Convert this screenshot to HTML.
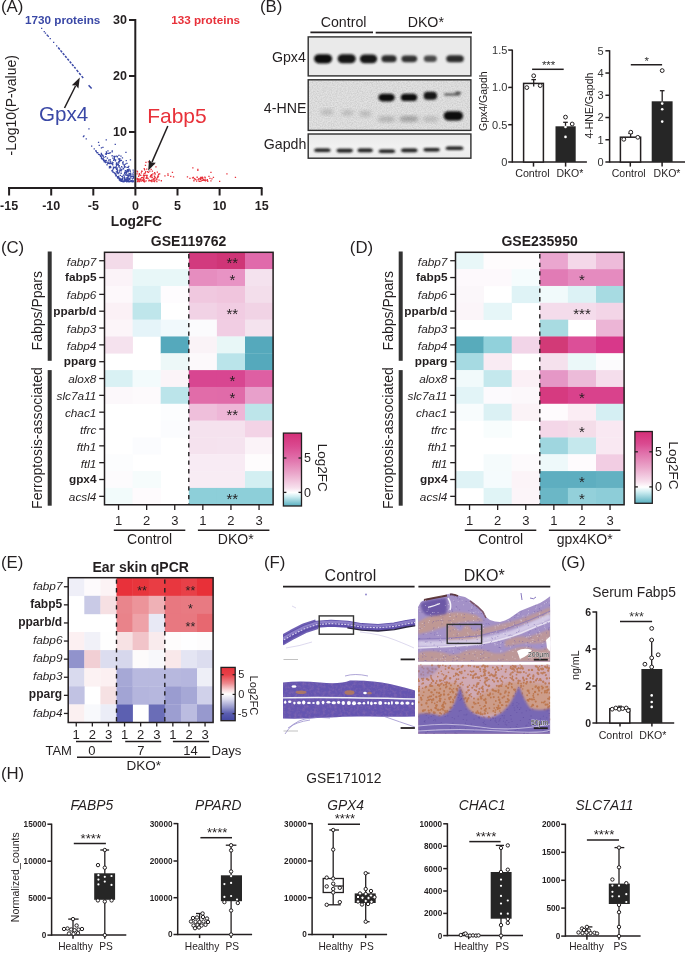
<!DOCTYPE html>
<html><head><meta charset="utf-8"><title>Figure</title>
<style>
html,body{margin:0;padding:0;background:#fff;}
body{width:685px;height:953px;overflow:hidden;}
svg{display:block;opacity:0.999;}
text{font-family:"Liberation Sans",sans-serif;}
</style></head><body>
<svg width="685" height="953" viewBox="0 0 685 953" fill="#231f20">
<rect x="0" y="0" width="685" height="953" fill="#fff"/>
<text x="0.9" y="12.3" font-size="16.8">(A)</text>
<line x1="135.3" y1="19" x2="135.3" y2="189" stroke="#231f20" stroke-width="2"/>
<line x1="8" y1="188" x2="262.5" y2="188" stroke="#231f20" stroke-width="2"/>
<line x1="129" y1="20" x2="135.3" y2="20" stroke="#231f20" stroke-width="2"/>
<text x="127" y="24.4" font-size="12.5" font-weight="bold" text-anchor="end">30</text>
<line x1="129" y1="76" x2="135.3" y2="76" stroke="#231f20" stroke-width="2"/>
<text x="127" y="80.4" font-size="12.5" font-weight="bold" text-anchor="end">20</text>
<line x1="129" y1="132" x2="135.3" y2="132" stroke="#231f20" stroke-width="2"/>
<text x="127" y="136.4" font-size="12.5" font-weight="bold" text-anchor="end">10</text>
<line x1="9.1" y1="188" x2="9.1" y2="195.5" stroke="#231f20" stroke-width="2"/>
<text x="9.1" y="210" font-size="12.5" font-weight="bold" text-anchor="middle">-15</text>
<line x1="51.2" y1="188" x2="51.2" y2="195.5" stroke="#231f20" stroke-width="2"/>
<text x="51.2" y="210" font-size="12.5" font-weight="bold" text-anchor="middle">-10</text>
<line x1="93.3" y1="188" x2="93.3" y2="195.5" stroke="#231f20" stroke-width="2"/>
<text x="93.3" y="210" font-size="12.5" font-weight="bold" text-anchor="middle">-5</text>
<line x1="135.4" y1="188" x2="135.4" y2="195.5" stroke="#231f20" stroke-width="2"/>
<text x="135.4" y="210" font-size="12.5" font-weight="bold" text-anchor="middle">0</text>
<line x1="177.5" y1="188" x2="177.5" y2="195.5" stroke="#231f20" stroke-width="2"/>
<text x="177.5" y="210" font-size="12.5" font-weight="bold" text-anchor="middle">5</text>
<line x1="219.6" y1="188" x2="219.6" y2="195.5" stroke="#231f20" stroke-width="2"/>
<text x="219.6" y="210" font-size="12.5" font-weight="bold" text-anchor="middle">10</text>
<line x1="261.70000000000005" y1="188" x2="261.70000000000005" y2="195.5" stroke="#231f20" stroke-width="2"/>
<text x="261.70000000000005" y="210" font-size="12.5" font-weight="bold" text-anchor="middle">15</text>
<text x="136.4" y="226.1" font-size="13.8" font-weight="bold" text-anchor="middle">Log2FC</text>
<text x="15.8" y="155.5" font-size="14" transform="rotate(-90 15.8 155.5)">-Log10(P-value)</text>
<text x="25" y="23.5" font-size="11.7" font-weight="bold" fill="#3a48a6">1730 proteins</text>
<text x="171.2" y="23.6" font-size="11.7" font-weight="bold" fill="#e8313a">133 proteins</text>
<text x="39" y="121.4" font-size="20.6" fill="#3a48a6">Gpx4</text>
<text x="147.2" y="122.8" font-size="21" fill="#e8313a">Fabp5</text>
<path d="M58.2 47.6L75.6 68.6" stroke="#3a48a6" stroke-width="1.5" stroke-dasharray="2.4 1.2" fill="none"/>
<path d="M76.6 69.9L83.2 78.0" stroke="#3a48a6" stroke-width="1.5" stroke-dasharray="2.6 1.4" fill="none"/>
<path d="M88.6 85.2L91.6 88.6" stroke="#3a48a6" stroke-width="1.5" fill="none"/>
<path d="M41.0 27.8h1.3v1.3h-1.3zM43.6 31.0h1.3v1.3h-1.3zM44.8 32.4h1.3v1.3h-1.3zM46.6 34.6h1.3v1.3h-1.3zM47.6 35.6h1.3v1.3h-1.3zM49.6 38.0h1.3v1.3h-1.3zM53.0 41.8h1.3v1.3h-1.3zM56.0 45.2h1.3v1.3h-1.3zM88.3 128.3h1.3v1.3h-1.3zM83.3 135.3h1.3v1.3h-1.3zM82.8 135.9h1.3v1.3h-1.3zM85.6 138.2h1.3v1.3h-1.3zM91.0 145.4h1.3v1.3h-1.3zM93.6 148.2h1.3v1.3h-1.3zM95.6 150.7h1.3v1.3h-1.3zM97.9 153.8h1.3v1.3h-1.3zM97.9 141.8h1.3v1.3h-1.3zM98.6 144.8h1.3v1.3h-1.3zM100.8 147.3h1.3v1.3h-1.3zM102.3 146.8h1.3v1.3h-1.3zM105.6 139.3h1.3v1.3h-1.3zM114.6 143.8h1.3v1.3h-1.3zM107.3 150.3h1.3v1.3h-1.3zM111.6 150.3h1.3v1.3h-1.3zM125.3 151.8h1.3v1.3h-1.3zM125.6 159.9h1.3v1.3h-1.3zM120.3 155.5h1.3v1.3h-1.3zM117.8 158.2h1.3v1.3h-1.3zM123.8 164.3h1.3v1.3h-1.3zM120.8 159.8h1.3v1.3h-1.3zM102.1 155.2h1.3v1.3h-1.3zM103.3 156.8h1.3v1.3h-1.3zM108.3 152.8h1.3v1.3h-1.3zM116.8 156.3h1.3v1.3h-1.3zM118.3 154.8h1.3v1.3h-1.3zM121.8 157.3h1.3v1.3h-1.3zM118.8 160.8h1.3v1.3h-1.3zM126.3 162.8h1.3v1.3h-1.3zM124.3 166.3h1.3v1.3h-1.3zM129.8 159.3h1.3v1.3h-1.3zM124.1 172.0h1.3v1.3h-1.3zM112.9 167.6h1.3v1.3h-1.3zM125.0 170.2h1.3v1.3h-1.3zM104.4 160.0h1.3v1.3h-1.3zM117.5 176.1h1.3v1.3h-1.3zM115.0 159.3h1.3v1.3h-1.3zM132.9 180.9h1.3v1.3h-1.3zM107.5 152.7h1.3v1.3h-1.3zM118.7 179.3h1.3v1.3h-1.3zM111.9 169.6h1.3v1.3h-1.3zM121.7 178.7h1.3v1.3h-1.3zM126.1 181.0h1.3v1.3h-1.3zM129.9 172.4h1.3v1.3h-1.3zM125.0 169.9h1.3v1.3h-1.3zM125.8 170.6h1.3v1.3h-1.3zM118.2 171.9h1.3v1.3h-1.3zM111.5 151.3h1.3v1.3h-1.3zM111.7 163.3h1.3v1.3h-1.3zM121.9 177.8h1.3v1.3h-1.3zM130.0 180.6h1.3v1.3h-1.3zM130.2 173.5h1.3v1.3h-1.3zM132.4 173.9h1.3v1.3h-1.3zM100.8 157.8h1.3v1.3h-1.3zM131.8 178.3h1.3v1.3h-1.3zM132.7 171.5h1.3v1.3h-1.3zM115.3 173.6h1.3v1.3h-1.3zM124.0 166.2h1.3v1.3h-1.3zM118.0 176.9h1.3v1.3h-1.3zM132.5 175.4h1.3v1.3h-1.3zM106.0 161.4h1.3v1.3h-1.3zM118.7 177.5h1.3v1.3h-1.3zM130.4 180.7h1.3v1.3h-1.3zM126.6 178.9h1.3v1.3h-1.3zM116.6 172.2h1.3v1.3h-1.3zM107.2 162.4h1.3v1.3h-1.3zM109.7 165.7h1.3v1.3h-1.3zM117.5 173.0h1.3v1.3h-1.3zM132.7 176.9h1.3v1.3h-1.3zM108.0 159.5h1.3v1.3h-1.3zM112.2 157.5h1.3v1.3h-1.3zM133.0 180.2h1.3v1.3h-1.3zM121.6 178.2h1.3v1.3h-1.3zM109.6 160.8h1.3v1.3h-1.3zM117.3 176.3h1.3v1.3h-1.3zM127.4 180.3h1.3v1.3h-1.3zM126.7 177.6h1.3v1.3h-1.3zM122.9 174.4h1.3v1.3h-1.3zM129.2 178.7h1.3v1.3h-1.3zM100.9 153.8h1.3v1.3h-1.3zM119.8 180.1h1.3v1.3h-1.3zM100.7 152.8h1.3v1.3h-1.3zM130.3 177.2h1.3v1.3h-1.3zM114.9 167.3h1.3v1.3h-1.3zM129.0 178.9h1.3v1.3h-1.3zM122.7 180.6h1.3v1.3h-1.3zM128.3 168.6h1.3v1.3h-1.3zM114.1 166.7h1.3v1.3h-1.3zM124.0 177.0h1.3v1.3h-1.3zM122.1 180.7h1.3v1.3h-1.3zM125.2 174.4h1.3v1.3h-1.3zM124.0 179.7h1.3v1.3h-1.3zM116.6 155.9h1.3v1.3h-1.3zM117.7 163.9h1.3v1.3h-1.3zM119.3 179.6h1.3v1.3h-1.3zM132.0 181.1h1.3v1.3h-1.3zM124.9 163.5h1.3v1.3h-1.3zM128.4 181.1h1.3v1.3h-1.3zM127.4 171.1h1.3v1.3h-1.3zM133.1 175.7h1.3v1.3h-1.3zM127.0 180.5h1.3v1.3h-1.3zM122.1 162.2h1.3v1.3h-1.3zM118.3 162.2h1.3v1.3h-1.3zM119.9 160.0h1.3v1.3h-1.3zM127.4 174.9h1.3v1.3h-1.3zM119.1 160.1h1.3v1.3h-1.3zM122.9 168.1h1.3v1.3h-1.3zM125.2 174.1h1.3v1.3h-1.3zM110.0 166.9h1.3v1.3h-1.3zM128.1 165.8h1.3v1.3h-1.3zM115.9 162.2h1.3v1.3h-1.3zM129.9 172.4h1.3v1.3h-1.3zM129.7 180.4h1.3v1.3h-1.3zM127.9 181.0h1.3v1.3h-1.3zM116.7 171.1h1.3v1.3h-1.3zM115.7 163.6h1.3v1.3h-1.3zM127.6 166.7h1.3v1.3h-1.3zM117.0 177.3h1.3v1.3h-1.3zM127.6 176.2h1.3v1.3h-1.3zM120.4 178.4h1.3v1.3h-1.3zM105.0 155.9h1.3v1.3h-1.3zM124.5 178.5h1.3v1.3h-1.3zM119.3 159.4h1.3v1.3h-1.3zM118.0 175.8h1.3v1.3h-1.3zM129.6 170.7h1.3v1.3h-1.3zM113.7 157.7h1.3v1.3h-1.3zM118.2 172.1h1.3v1.3h-1.3zM124.0 178.2h1.3v1.3h-1.3zM118.2 166.3h1.3v1.3h-1.3zM130.3 175.8h1.3v1.3h-1.3zM131.5 181.0h1.3v1.3h-1.3zM129.3 180.9h1.3v1.3h-1.3zM116.1 168.2h1.3v1.3h-1.3zM103.0 160.0h1.3v1.3h-1.3zM125.3 179.6h1.3v1.3h-1.3zM130.9 181.0h1.3v1.3h-1.3zM119.4 177.7h1.3v1.3h-1.3zM128.2 180.8h1.3v1.3h-1.3zM125.6 172.2h1.3v1.3h-1.3zM123.6 165.2h1.3v1.3h-1.3zM115.7 171.3h1.3v1.3h-1.3zM126.2 181.1h1.3v1.3h-1.3zM108.7 163.0h1.3v1.3h-1.3zM122.3 176.9h1.3v1.3h-1.3zM116.2 163.7h1.3v1.3h-1.3zM124.1 166.7h1.3v1.3h-1.3zM129.2 173.7h1.3v1.3h-1.3zM100.3 155.3h1.3v1.3h-1.3zM107.5 162.7h1.3v1.3h-1.3zM125.4 172.0h1.3v1.3h-1.3zM113.9 156.4h1.3v1.3h-1.3zM125.9 171.7h1.3v1.3h-1.3zM128.9 178.4h1.3v1.3h-1.3zM113.7 158.9h1.3v1.3h-1.3zM109.3 162.9h1.3v1.3h-1.3zM116.1 155.5h1.3v1.3h-1.3zM127.7 169.3h1.3v1.3h-1.3zM131.6 175.7h1.3v1.3h-1.3zM106.8 157.4h1.3v1.3h-1.3zM125.5 180.4h1.3v1.3h-1.3zM126.8 168.9h1.3v1.3h-1.3zM112.3 170.9h1.3v1.3h-1.3zM103.3 159.3h1.3v1.3h-1.3zM105.6 159.7h1.3v1.3h-1.3zM129.4 175.3h1.3v1.3h-1.3zM120.9 179.6h1.3v1.3h-1.3zM127.0 170.0h1.3v1.3h-1.3zM113.7 158.1h1.3v1.3h-1.3zM105.6 153.6h1.3v1.3h-1.3zM122.5 180.4h1.3v1.3h-1.3zM117.0 169.7h1.3v1.3h-1.3zM117.3 162.5h1.3v1.3h-1.3zM129.4 169.8h1.3v1.3h-1.3zM116.5 168.6h1.3v1.3h-1.3zM130.2 174.1h1.3v1.3h-1.3zM102.6 155.5h1.3v1.3h-1.3zM126.0 178.4h1.3v1.3h-1.3zM124.5 170.4h1.3v1.3h-1.3zM132.7 181.0h1.3v1.3h-1.3zM119.8 170.0h1.3v1.3h-1.3zM113.0 159.6h1.3v1.3h-1.3zM126.5 170.8h1.3v1.3h-1.3zM126.9 180.6h1.3v1.3h-1.3zM132.3 173.2h1.3v1.3h-1.3zM125.1 179.8h1.3v1.3h-1.3zM118.6 159.0h1.3v1.3h-1.3zM118.7 171.3h1.3v1.3h-1.3zM127.4 178.6h1.3v1.3h-1.3zM100.3 154.4h1.3v1.3h-1.3zM122.5 181.0h1.3v1.3h-1.3zM128.2 177.9h1.3v1.3h-1.3zM121.8 175.7h1.3v1.3h-1.3zM110.2 166.5h1.3v1.3h-1.3zM107.0 162.4h1.3v1.3h-1.3zM116.6 170.2h1.3v1.3h-1.3zM126.0 178.5h1.3v1.3h-1.3zM120.5 172.5h1.3v1.3h-1.3zM123.9 173.2h1.3v1.3h-1.3zM121.5 179.2h1.3v1.3h-1.3zM121.0 166.1h1.3v1.3h-1.3zM129.3 169.6h1.3v1.3h-1.3zM126.4 166.8h1.3v1.3h-1.3zM129.0 177.8h1.3v1.3h-1.3zM118.9 159.3h1.3v1.3h-1.3zM121.2 175.8h1.3v1.3h-1.3zM101.9 154.6h1.3v1.3h-1.3zM109.9 162.6h1.3v1.3h-1.3zM130.8 180.2h1.3v1.3h-1.3zM129.0 172.9h1.3v1.3h-1.3zM124.7 179.8h1.3v1.3h-1.3zM106.4 164.1h1.3v1.3h-1.3zM128.3 178.4h1.3v1.3h-1.3zM127.8 170.4h1.3v1.3h-1.3zM126.3 170.5h1.3v1.3h-1.3zM119.1 178.7h1.3v1.3h-1.3zM119.7 180.1h1.3v1.3h-1.3zM121.2 168.9h1.3v1.3h-1.3zM112.6 168.3h1.3v1.3h-1.3zM121.2 178.8h1.3v1.3h-1.3zM119.2 158.0h1.3v1.3h-1.3zM104.9 153.3h1.3v1.3h-1.3zM123.7 175.5h1.3v1.3h-1.3zM120.5 170.1h1.3v1.3h-1.3zM108.8 167.2h1.3v1.3h-1.3zM122.5 163.5h1.3v1.3h-1.3zM125.0 178.8h1.3v1.3h-1.3zM112.3 162.1h1.3v1.3h-1.3zM120.4 178.6h1.3v1.3h-1.3zM111.3 170.1h1.3v1.3h-1.3zM113.3 155.8h1.3v1.3h-1.3zM119.3 167.2h1.3v1.3h-1.3zM111.5 155.1h1.3v1.3h-1.3zM109.5 159.1h1.3v1.3h-1.3zM114.5 155.7h1.3v1.3h-1.3zM118.2 161.0h1.3v1.3h-1.3zM127.7 173.4h1.3v1.3h-1.3zM124.2 180.6h1.3v1.3h-1.3zM112.3 171.5h1.3v1.3h-1.3zM126.5 174.8h1.3v1.3h-1.3zM112.8 166.4h1.3v1.3h-1.3zM118.6 165.1h1.3v1.3h-1.3zM119.0 169.5h1.3v1.3h-1.3zM105.7 151.2h1.3v1.3h-1.3zM122.6 161.2h1.3v1.3h-1.3zM128.1 181.0h1.3v1.3h-1.3zM109.4 162.1h1.3v1.3h-1.3zM114.7 173.5h1.3v1.3h-1.3zM123.6 178.6h1.3v1.3h-1.3zM122.8 180.2h1.3v1.3h-1.3zM106.0 152.6h1.3v1.3h-1.3zM124.4 165.9h1.3v1.3h-1.3zM127.7 180.5h1.3v1.3h-1.3zM104.6 161.3h1.3v1.3h-1.3zM125.7 179.1h1.3v1.3h-1.3zM109.5 166.8h1.3v1.3h-1.3zM116.4 167.3h1.3v1.3h-1.3zM127.3 176.6h1.3v1.3h-1.3zM115.9 168.6h1.3v1.3h-1.3zM111.0 163.0h1.3v1.3h-1.3zM123.2 181.1h1.3v1.3h-1.3zM121.9 180.9h1.3v1.3h-1.3zM111.4 161.5h1.3v1.3h-1.3zM109.5 152.1h1.3v1.3h-1.3zM127.9 180.0h1.3v1.3h-1.3zM116.7 171.9h1.3v1.3h-1.3zM126.8 180.8h1.3v1.3h-1.3zM125.2 179.8h1.3v1.3h-1.3zM115.9 164.8h1.3v1.3h-1.3zM126.3 177.1h1.3v1.3h-1.3zM128.8 173.0h1.3v1.3h-1.3zM132.5 169.5h1.3v1.3h-1.3zM131.6 180.0h1.3v1.3h-1.3zM114.8 160.3h1.3v1.3h-1.3zM119.7 174.7h1.3v1.3h-1.3zM117.5 164.1h1.3v1.3h-1.3zM122.4 167.5h1.3v1.3h-1.3zM107.6 161.5h1.3v1.3h-1.3zM132.8 177.4h1.3v1.3h-1.3zM123.3 180.7h1.3v1.3h-1.3zM125.6 172.8h1.3v1.3h-1.3zM126.8 180.2h1.3v1.3h-1.3zM120.7 180.6h1.3v1.3h-1.3zM117.6 164.5h1.3v1.3h-1.3zM115.5 166.1h1.3v1.3h-1.3zM116.4 171.2h1.3v1.3h-1.3zM128.5 175.1h1.3v1.3h-1.3zM102.5 158.1h1.3v1.3h-1.3zM130.5 179.9h1.3v1.3h-1.3zM124.1 166.4h1.3v1.3h-1.3zM124.2 178.2h1.3v1.3h-1.3zM130.0 177.2h1.3v1.3h-1.3zM126.7 174.4h1.3v1.3h-1.3zM122.1 161.8h1.3v1.3h-1.3zM120.5 172.8h1.3v1.3h-1.3zM131.4 180.2h1.3v1.3h-1.3zM120.6 180.5h1.3v1.3h-1.3zM120.1 168.4h1.3v1.3h-1.3zM112.1 164.1h1.3v1.3h-1.3zM104.6 160.7h1.3v1.3h-1.3zM127.9 178.2h1.3v1.3h-1.3zM123.6 180.4h1.3v1.3h-1.3zM114.0 172.5h1.3v1.3h-1.3zM101.5 158.4h1.3v1.3h-1.3zM104.4 160.8h1.3v1.3h-1.3zM103.7 161.1h1.3v1.3h-1.3zM113.4 172.0h1.3v1.3h-1.3zM119.5 178.7h1.3v1.3h-1.3zM118.6 178.6h1.3v1.3h-1.3zM115.5 175.0h1.3v1.3h-1.3zM102.8 159.5h1.3v1.3h-1.3zM119.8 179.3h1.3v1.3h-1.3zM101.0 157.3h1.3v1.3h-1.3zM104.1 161.0h1.3v1.3h-1.3zM104.9 162.0h1.3v1.3h-1.3zM99.9 155.6h1.3v1.3h-1.3zM115.7 174.9h1.3v1.3h-1.3zM116.7 176.1h1.3v1.3h-1.3zM99.7 155.0h1.3v1.3h-1.3zM117.5 177.5h1.3v1.3h-1.3zM95.2 150.1h1.3v1.3h-1.3zM109.1 166.8h1.3v1.3h-1.3zM120.3 180.3h1.3v1.3h-1.3zM115.2 175.1h1.3v1.3h-1.3zM109.5 166.8h1.3v1.3h-1.3zM96.2 152.0h1.3v1.3h-1.3zM114.6 172.9h1.3v1.3h-1.3zM97.1 152.1h1.3v1.3h-1.3zM98.8 154.0h1.3v1.3h-1.3zM111.3 170.1h1.3v1.3h-1.3zM100.8 156.4h1.3v1.3h-1.3zM108.8 166.0h1.3v1.3h-1.3z" fill="#3a48a6"/>
<path d="M143.6 179.2h1.3v1.3h-1.3zM157.5 175.3h1.3v1.3h-1.3zM145.8 177.0h1.3v1.3h-1.3zM151.2 174.8h1.3v1.3h-1.3zM156.1 178.5h1.3v1.3h-1.3zM153.8 175.4h1.3v1.3h-1.3zM154.5 173.4h1.3v1.3h-1.3zM154.0 172.1h1.3v1.3h-1.3zM157.2 175.7h1.3v1.3h-1.3zM146.5 174.8h1.3v1.3h-1.3zM153.2 178.3h1.3v1.3h-1.3zM144.1 180.7h1.3v1.3h-1.3zM151.7 170.5h1.3v1.3h-1.3zM143.1 180.6h1.3v1.3h-1.3zM139.6 178.3h1.3v1.3h-1.3zM141.4 170.8h1.3v1.3h-1.3zM137.1 179.5h1.3v1.3h-1.3zM138.0 175.6h1.3v1.3h-1.3zM152.6 180.5h1.3v1.3h-1.3zM137.1 177.9h1.3v1.3h-1.3zM147.9 171.8h1.3v1.3h-1.3zM136.8 181.0h1.3v1.3h-1.3zM139.2 180.2h1.3v1.3h-1.3zM140.2 174.7h1.3v1.3h-1.3zM148.1 180.2h1.3v1.3h-1.3zM139.3 179.7h1.3v1.3h-1.3zM139.0 174.1h1.3v1.3h-1.3zM141.8 176.9h1.3v1.3h-1.3zM153.6 177.7h1.3v1.3h-1.3zM140.7 172.2h1.3v1.3h-1.3zM156.1 179.1h1.3v1.3h-1.3zM147.0 171.1h1.3v1.3h-1.3zM145.5 180.2h1.3v1.3h-1.3zM136.9 171.2h1.3v1.3h-1.3zM153.2 178.7h1.3v1.3h-1.3zM146.6 177.3h1.3v1.3h-1.3zM141.0 170.5h1.3v1.3h-1.3zM149.7 180.1h1.3v1.3h-1.3zM136.4 177.8h1.3v1.3h-1.3zM143.1 173.5h1.3v1.3h-1.3zM151.0 176.2h1.3v1.3h-1.3zM138.7 180.7h1.3v1.3h-1.3zM142.0 179.9h1.3v1.3h-1.3zM154.9 177.3h1.3v1.3h-1.3zM149.2 170.5h1.3v1.3h-1.3zM140.9 177.1h1.3v1.3h-1.3zM138.6 173.9h1.3v1.3h-1.3zM136.4 173.2h1.3v1.3h-1.3zM154.4 173.2h1.3v1.3h-1.3zM137.5 179.8h1.3v1.3h-1.3zM151.1 181.0h1.3v1.3h-1.3zM145.5 177.8h1.3v1.3h-1.3zM157.2 176.4h1.3v1.3h-1.3zM154.6 179.5h1.3v1.3h-1.3zM152.9 178.4h1.3v1.3h-1.3zM156.2 181.0h1.3v1.3h-1.3zM153.8 180.3h1.3v1.3h-1.3zM146.9 177.2h1.3v1.3h-1.3zM138.7 173.0h1.3v1.3h-1.3zM141.8 179.4h1.3v1.3h-1.3zM137.3 179.5h1.3v1.3h-1.3zM145.2 174.7h1.3v1.3h-1.3zM142.8 175.1h1.3v1.3h-1.3zM137.8 178.6h1.3v1.3h-1.3zM145.1 170.9h1.3v1.3h-1.3zM153.9 175.5h1.3v1.3h-1.3zM136.5 178.8h1.3v1.3h-1.3zM150.9 180.1h1.3v1.3h-1.3zM147.4 177.9h1.3v1.3h-1.3zM136.4 170.5h1.3v1.3h-1.3zM153.2 180.3h1.3v1.3h-1.3zM148.7 179.6h1.3v1.3h-1.3zM143.2 177.0h1.3v1.3h-1.3zM141.5 179.2h1.3v1.3h-1.3zM143.5 175.4h1.3v1.3h-1.3zM140.6 180.4h1.3v1.3h-1.3zM151.5 179.3h1.3v1.3h-1.3zM156.9 176.7h1.3v1.3h-1.3zM151.3 179.2h1.3v1.3h-1.3zM153.9 181.0h1.3v1.3h-1.3zM138.4 181.0h1.3v1.3h-1.3zM150.1 174.8h1.3v1.3h-1.3zM139.2 178.5h1.3v1.3h-1.3zM154.1 176.3h1.3v1.3h-1.3zM137.6 180.2h1.3v1.3h-1.3zM138.7 180.9h1.3v1.3h-1.3zM143.8 181.1h1.3v1.3h-1.3zM156.3 178.3h1.3v1.3h-1.3zM146.2 175.6h1.3v1.3h-1.3zM152.3 173.2h1.3v1.3h-1.3zM143.4 179.3h1.3v1.3h-1.3zM143.9 181.3h1.3v1.3h-1.3zM143.7 174.9h1.3v1.3h-1.3zM157.9 173.6h1.3v1.3h-1.3zM149.7 176.1h1.3v1.3h-1.3zM140.0 178.7h1.3v1.3h-1.3zM151.0 174.0h1.3v1.3h-1.3zM143.0 178.1h1.3v1.3h-1.3zM156.7 171.5h1.3v1.3h-1.3zM167.4 174.7h1.3v1.3h-1.3zM144.7 172.0h1.3v1.3h-1.3zM170.1 175.7h1.3v1.3h-1.3zM151.3 176.4h1.3v1.3h-1.3zM144.2 172.9h1.3v1.3h-1.3zM172.9 176.2h1.3v1.3h-1.3zM146.1 168.5h1.3v1.3h-1.3zM160.7 180.1h1.3v1.3h-1.3zM142.2 179.7h1.3v1.3h-1.3zM159.0 173.2h1.3v1.3h-1.3zM150.5 168.8h1.3v1.3h-1.3zM151.6 176.9h1.3v1.3h-1.3zM143.6 167.9h1.3v1.3h-1.3zM144.0 169.3h1.3v1.3h-1.3zM157.8 175.5h1.3v1.3h-1.3zM158.4 179.4h1.3v1.3h-1.3zM145.3 161.8h1.3v1.3h-1.3zM147.8 161.3h1.3v1.3h-1.3zM144.8 164.8h1.3v1.3h-1.3zM149.8 164.3h1.3v1.3h-1.3zM155.3 166.3h1.3v1.3h-1.3zM153.3 163.3h1.3v1.3h-1.3zM171.8 171.8h1.3v1.3h-1.3zM167.3 173.3h1.3v1.3h-1.3zM164.3 175.3h1.3v1.3h-1.3zM204.4 179.1h1.3v1.3h-1.3zM193.3 180.1h1.3v1.3h-1.3zM196.0 180.4h1.3v1.3h-1.3zM195.2 178.9h1.3v1.3h-1.3zM204.6 177.2h1.3v1.3h-1.3zM200.1 176.7h1.3v1.3h-1.3zM191.9 177.2h1.3v1.3h-1.3zM207.1 180.6h1.3v1.3h-1.3zM201.9 177.7h1.3v1.3h-1.3zM202.1 179.7h1.3v1.3h-1.3zM197.5 179.0h1.3v1.3h-1.3zM204.2 176.4h1.3v1.3h-1.3zM194.5 178.5h1.3v1.3h-1.3zM193.6 178.1h1.3v1.3h-1.3zM200.5 177.1h1.3v1.3h-1.3zM199.7 177.5h1.3v1.3h-1.3zM200.4 177.8h1.3v1.3h-1.3zM201.6 176.5h1.3v1.3h-1.3zM202.1 177.0h1.3v1.3h-1.3zM206.7 179.1h1.3v1.3h-1.3zM198.9 178.2h1.3v1.3h-1.3zM201.3 179.5h1.3v1.3h-1.3zM203.5 179.7h1.3v1.3h-1.3zM199.1 180.8h1.3v1.3h-1.3zM204.8 180.2h1.3v1.3h-1.3zM197.9 178.3h1.3v1.3h-1.3zM200.4 180.4h1.3v1.3h-1.3zM199.8 178.7h1.3v1.3h-1.3zM198.3 180.4h1.3v1.3h-1.3zM196.5 176.6h1.3v1.3h-1.3zM192.2 167.2h1.3v1.3h-1.3zM197.2 168.8h1.3v1.3h-1.3zM197.2 169.8h1.3v1.3h-1.3zM210.3 171.8h1.3v1.3h-1.3zM226.3 173.2h1.3v1.3h-1.3zM234.8 176.8h1.3v1.3h-1.3zM219.0 180.7h1.3v1.3h-1.3zM186.8 176.3h1.3v1.3h-1.3zM189.3 177.8h1.3v1.3h-1.3zM192.8 176.8h1.3v1.3h-1.3zM208.3 175.8h1.3v1.3h-1.3zM209.3 177.8h1.3v1.3h-1.3zM211.3 178.3h1.3v1.3h-1.3zM212.8 176.8h1.3v1.3h-1.3zM210.3 180.3h1.3v1.3h-1.3zM202.8 178.8h1.3v1.3h-1.3zM205.3 179.8h1.3v1.3h-1.3z" fill="#e8313a"/>
<line x1="64.5" y1="108" x2="75.540338120699" y2="85.99148283128629" stroke="#231f20" stroke-width="1.5"/>
<path d="M79.8 77.5L78.4 88.5L75.8 85.5L71.8 85.2Z" fill="#231f20"/>
<line x1="167.8" y1="126" x2="152.00777892318723" y2="162.0965053184292" stroke="#231f20" stroke-width="1.5"/>
<path d="M148.2 170.8L149.0 159.7L151.8 162.6L155.8 162.7Z" fill="#231f20"/>
<text x="259.9" y="12.2" font-size="16.8">(B)</text>
<defs>
<filter id="blur1" x="-30%" y="-60%" width="160%" height="220%"><feGaussianBlur stdDeviation="1.1"/></filter>
<filter id="blur2" x="-30%" y="-60%" width="160%" height="220%"><feGaussianBlur stdDeviation="2.0"/></filter>
<filter id="noiseF" x="0" y="0" width="100%" height="100%"><feTurbulence type="fractalNoise" baseFrequency="0.8" numOctaves="2" seed="5" result="t"/><feColorMatrix in="t" type="matrix" values="0 0 0 0 0.45 0 0 0 0 0.45 0 0 0 0 0.45 0 0 0 -0.9 0.62"/></filter>
<linearGradient id="gapbg" x1="0" y1="0" x2="0" y2="1"><stop offset="0" stop-color="#e9e9e9"/><stop offset="0.5" stop-color="#f1f1f1"/><stop offset="1" stop-color="#ececec"/></linearGradient>
</defs>
<text x="343.6" y="27.3" font-size="14.2" text-anchor="middle">Control</text>
<text x="425.8" y="26.6" font-size="14.2" text-anchor="middle">DKO*</text>
<line x1="310.4" y1="32.4" x2="373" y2="32.4" stroke="#231f20" stroke-width="1.6"/>
<line x1="375.7" y1="32.6" x2="472" y2="32.6" stroke="#231f20" stroke-width="1.6"/>
<text x="305.8" y="62.2" font-size="14.2" text-anchor="end">Gpx4</text>
<text x="306.4" y="113.2" font-size="14.2" text-anchor="end">4-HNE</text>
<text x="306.4" y="148.8" font-size="14.2" text-anchor="end">Gapdh</text>
<rect x="308.20" y="36.90" width="162.70" height="39.00" fill="#eaeaea"/>
<rect x="308.20" y="79.80" width="162.70" height="50.60" fill="#e2e2e2"/>
<rect x="308.2" y="79.8" width="162.7" height="50.6" filter="url(#noiseF)"/>
<rect x="308.20" y="134.00" width="162.70" height="24.20" fill="url(#gapbg)"/>
<rect x="314.0" y="54.2" width="18.2" height="9.2" rx="5.0" fill="#111" opacity="1.0" filter="url(#blur1)"/>
<rect x="337.6" y="54.3" width="18.2" height="9.0" rx="5.0" fill="#141414" opacity="1.0" filter="url(#blur1)"/>
<rect x="359.8" y="54.4" width="17.4" height="8.8" rx="4.8" fill="#161616" opacity="1.0" filter="url(#blur1)"/>
<rect x="381.4" y="55.3" width="15.2" height="7.0" rx="4.1" fill="#2a2a2a" opacity="1.0" filter="url(#blur1)"/>
<rect x="401.4" y="55.4" width="15.8" height="6.8" rx="4.0" fill="#333" opacity="1.0" filter="url(#blur1)"/>
<rect x="423.8" y="55.6" width="13.0" height="6.4" rx="3.8" fill="#484848" opacity="1.0" filter="url(#blur1)"/>
<rect x="446.2" y="55.3" width="17.6" height="7.0" rx="4.1" fill="#2a2a2a" opacity="1.0" filter="url(#blur1)"/>
<rect x="378.3" y="93.7" width="16.5" height="7.8" rx="4.5" fill="#0e0e0e" opacity="1.0" filter="url(#blur1)"/>
<rect x="400.8" y="93.7" width="16.4" height="7.4" rx="4.3" fill="#111" opacity="1.0" filter="url(#blur1)"/>
<rect x="423.7" y="91.8" width="13.3" height="8.0" rx="3.8" fill="#141414" opacity="1.0" filter="url(#blur1)"/>
<rect x="444.0" y="93.3" width="16.0" height="2.4" rx="1.8" fill="#555" opacity="0.9" filter="url(#blur1)"/>
<rect x="455.0" y="91.8" width="6.0" height="2.3" rx="1.8" fill="#333" opacity="0.9" filter="url(#blur1)"/>
<rect x="321.0" y="110.0" width="12.0" height="4.3" rx="2.8" fill="#8a8a8a" opacity="0.5249999999999999" filter="url(#blur2)"/>
<rect x="342.0" y="110.8" width="11.0" height="4.3" rx="2.8" fill="#8a8a8a" opacity="0.5249999999999999" filter="url(#blur2)"/>
<rect x="359.6" y="111.6" width="11.2" height="4.3" rx="2.8" fill="#8a8a8a" opacity="0.5249999999999999" filter="url(#blur2)"/>
<rect x="378.0" y="117.1" width="17.0" height="4.3" rx="2.8" fill="#888" opacity="0.6000000000000001" filter="url(#blur2)"/>
<rect x="400.0" y="116.8" width="18.0" height="4.3" rx="2.8" fill="#666" opacity="0.675" filter="url(#blur2)"/>
<rect x="423.0" y="117.0" width="15.0" height="4.3" rx="2.8" fill="#8a8a8a" opacity="0.5249999999999999" filter="url(#blur2)"/>
<rect x="443.6" y="111.2" width="19.5" height="9.3" rx="5.2" fill="#0a0a0a" opacity="1.0" filter="url(#blur1)"/>
<rect x="314.2" y="148.4" width="16.3" height="3.6" rx="2.4" fill="#1a1a1a" opacity="1.0" filter="url(#blur1)"/>
<rect x="336.5" y="148.8" width="16.4" height="3.6" rx="2.4" fill="#1a1a1a" opacity="1.0" filter="url(#blur1)"/>
<rect x="357.5" y="148.6" width="15.3" height="3.6" rx="2.4" fill="#1a1a1a" opacity="1.0" filter="url(#blur1)"/>
<rect x="378.7" y="149.4" width="16.4" height="3.6" rx="2.4" fill="#1a1a1a" opacity="1.0" filter="url(#blur1)"/>
<rect x="401.1" y="148.6" width="16.4" height="3.6" rx="2.4" fill="#1a1a1a" opacity="1.0" filter="url(#blur1)"/>
<rect x="423.4" y="148.0" width="16.4" height="3.6" rx="2.4" fill="#1a1a1a" opacity="1.0" filter="url(#blur1)"/>
<rect x="445.7" y="146.4" width="17.6" height="3.6" rx="2.4" fill="#1a1a1a" opacity="1.0" filter="url(#blur1)"/>
<rect x="308.20" y="36.90" width="162.70" height="39.00" fill="none" stroke="#2e2e2e" stroke-width="1.4"/>
<rect x="308.20" y="79.80" width="162.70" height="50.60" fill="none" stroke="#2e2e2e" stroke-width="1.4"/>
<rect x="308.20" y="134.00" width="162.70" height="24.20" fill="none" stroke="#2e2e2e" stroke-width="1.4"/>
<line x1="512.3" y1="49.6" x2="512.3" y2="162.6" stroke="#231f20" stroke-width="1.5"/>
<line x1="508.2" y1="162" x2="586.9" y2="162" stroke="#231f20" stroke-width="1.5"/>
<line x1="508.2" y1="50.10000000000001" x2="512.3" y2="50.10000000000001" stroke="#231f20" stroke-width="1.5"/>
<text x="507.4" y="54.00000000000001" font-size="11" text-anchor="end" fill="#333">1.5</text>
<line x1="508.2" y1="87.4" x2="512.3" y2="87.4" stroke="#231f20" stroke-width="1.5"/>
<text x="507.4" y="91.30000000000001" font-size="11" text-anchor="end" fill="#333">1.0</text>
<line x1="508.2" y1="124.7" x2="512.3" y2="124.7" stroke="#231f20" stroke-width="1.5"/>
<text x="507.4" y="128.6" font-size="11" text-anchor="end" fill="#333">0.5</text>
<text x="507.4" y="165.9" font-size="11" text-anchor="end" fill="#333">0</text>
<rect x="523.60" y="83.40" width="19.80" height="78.60" fill="#fff" stroke="#231f20" stroke-width="1.5"/>
<rect x="555.50" y="126.30" width="20.20" height="35.70" fill="#262626"/>
<line x1="533.5" y1="162" x2="533.5" y2="166.6" stroke="#231f20" stroke-width="1.5"/>
<line x1="565.6" y1="162" x2="565.6" y2="166.6" stroke="#231f20" stroke-width="1.5"/>
<line x1="533.7" y1="79.6" x2="533.7" y2="86.4" stroke="#231f20" stroke-width="1.3"/>
<line x1="531.4" y1="79.6" x2="536" y2="79.6" stroke="#231f20" stroke-width="1.3"/>
<circle cx="533.7" cy="75.8" r="1.9" fill="#fff" stroke="#231f20" stroke-width="1.0"/>
<circle cx="526.8" cy="87.6" r="1.9" fill="#fff" stroke="#231f20" stroke-width="1.0"/>
<circle cx="540.2" cy="85.6" r="1.9" fill="#fff" stroke="#231f20" stroke-width="1.0"/>
<line x1="565.5" y1="122.3" x2="565.5" y2="126.3" stroke="#231f20" stroke-width="1.3"/>
<line x1="563.2" y1="122.3" x2="567.8" y2="122.3" stroke="#231f20" stroke-width="1.3"/>
<circle cx="565.5" cy="117.1" r="1.9" fill="#fff" stroke="#231f20" stroke-width="1.0"/>
<circle cx="572.2" cy="124.0" r="1.9" fill="#fff" stroke="#231f20" stroke-width="1.0"/>
<circle cx="565.5" cy="127.0" r="1.3" fill="#fff"/>
<circle cx="565.5" cy="136.9" r="1.3" fill="#fff"/>
<line x1="532.1" y1="69.3" x2="563.7" y2="69.3" stroke="#231f20" stroke-width="1.5"/>
<text x="548.6" y="68.6" font-size="11.5" text-anchor="middle" fill="#333">***</text>
<text x="532.4" y="177.2" font-size="10.7" text-anchor="middle">Control</text>
<text x="556.5" y="177.2" font-size="10.5">DKO*</text>
<text x="487.2" y="101.2" font-size="10.5" text-anchor="middle" transform="rotate(-90 487.2 101.2)">Gpx4/Gapdh</text>
<line x1="609.6" y1="50.2" x2="609.6" y2="162.6" stroke="#231f20" stroke-width="1.5"/>
<line x1="605.4" y1="162" x2="685" y2="162" stroke="#231f20" stroke-width="1.5"/>
<line x1="605.4" y1="139.76" x2="609.6" y2="139.76" stroke="#231f20" stroke-width="1.5"/>
<text x="603.6" y="143.66" font-size="11" text-anchor="end" fill="#333">1</text>
<line x1="605.4" y1="117.52000000000001" x2="609.6" y2="117.52000000000001" stroke="#231f20" stroke-width="1.5"/>
<text x="603.6" y="121.42000000000002" font-size="11" text-anchor="end" fill="#333">2</text>
<line x1="605.4" y1="95.28" x2="609.6" y2="95.28" stroke="#231f20" stroke-width="1.5"/>
<text x="603.6" y="99.18" font-size="11" text-anchor="end" fill="#333">3</text>
<line x1="605.4" y1="73.04" x2="609.6" y2="73.04" stroke="#231f20" stroke-width="1.5"/>
<text x="603.6" y="76.94000000000001" font-size="11" text-anchor="end" fill="#333">4</text>
<line x1="605.4" y1="50.80000000000001" x2="609.6" y2="50.80000000000001" stroke="#231f20" stroke-width="1.5"/>
<text x="603.6" y="54.70000000000001" font-size="11" text-anchor="end" fill="#333">5</text>
<text x="603.6" y="165.9" font-size="11" text-anchor="end" fill="#333">0</text>
<rect x="620.40" y="137.20" width="20.20" height="24.80" fill="#fff" stroke="#231f20" stroke-width="1.5"/>
<rect x="651.70" y="101.30" width="20.90" height="60.70" fill="#262626"/>
<line x1="630.3" y1="162" x2="630.3" y2="166.6" stroke="#231f20" stroke-width="1.5"/>
<line x1="662.1" y1="162" x2="662.1" y2="166.6" stroke="#231f20" stroke-width="1.5"/>
<line x1="630.6" y1="133.4" x2="630.6" y2="137.2" stroke="#231f20" stroke-width="1.3"/>
<line x1="628.3" y1="133.4" x2="632.9" y2="133.4" stroke="#231f20" stroke-width="1.3"/>
<circle cx="623.8" cy="139.3" r="1.9" fill="#fff" stroke="#231f20" stroke-width="1.0"/>
<circle cx="630.8" cy="132.2" r="1.9" fill="#fff" stroke="#231f20" stroke-width="1.0"/>
<circle cx="637.8" cy="137.3" r="1.9" fill="#fff" stroke="#231f20" stroke-width="1.0"/>
<line x1="662.2" y1="90.7" x2="662.2" y2="101.3" stroke="#231f20" stroke-width="1.3"/>
<line x1="659.9" y1="90.7" x2="664.5" y2="90.7" stroke="#231f20" stroke-width="1.3"/>
<circle cx="662.2" cy="70.6" r="1.9" fill="#fff" stroke="#231f20" stroke-width="1.0"/>
<circle cx="662.2" cy="103.6" r="1.3" fill="#fff"/>
<circle cx="662.2" cy="109.3" r="1.3" fill="#fff"/>
<circle cx="662.2" cy="121.6" r="1.3" fill="#fff"/>
<line x1="630.8" y1="64.8" x2="662.1" y2="64.8" stroke="#231f20" stroke-width="1.5"/>
<text x="646.8" y="64.6" font-size="11.5" text-anchor="middle" fill="#333">*</text>
<text x="628.7" y="177.1" font-size="10.5" text-anchor="middle">Control</text>
<text x="667.0" y="177.1" font-size="10.5" text-anchor="middle">DKO*</text>
<text x="593.4" y="105.6" font-size="10.5" text-anchor="middle" transform="rotate(-90 593.4 105.6)">4-HNE/Gapdh</text>
<defs>
<linearGradient id="cbPT" x1="0" y1="0" x2="0" y2="1">
<stop offset="0" stop-color="#d42f78"/><stop offset="0.18" stop-color="#da4a90"/><stop offset="0.345" stop-color="#e06ea9"/><stop offset="0.55" stop-color="#eaa6ca"/><stop offset="0.75" stop-color="#f7e0ed"/><stop offset="0.815" stop-color="#ffffff"/><stop offset="0.87" stop-color="#d0eef2"/><stop offset="1" stop-color="#58b0c0"/>
</linearGradient>
<linearGradient id="cbPT2" x1="0" y1="0" x2="0" y2="1">
<stop offset="0" stop-color="#d42f78"/><stop offset="0.17" stop-color="#da4a90"/><stop offset="0.29" stop-color="#e06ea9"/><stop offset="0.5" stop-color="#eaa6ca"/><stop offset="0.7" stop-color="#f7e0ed"/><stop offset="0.775" stop-color="#ffffff"/><stop offset="0.84" stop-color="#d0eef2"/><stop offset="1" stop-color="#58b0c0"/>
</linearGradient>
</defs>
<rect x="104.50" y="252.30" width="28.40" height="17.13" fill="#f3dbe9"/>
<rect x="188.80" y="252.30" width="28.40" height="17.13" fill="#d23a7e"/>
<rect x="216.90" y="252.30" width="28.40" height="17.13" fill="#cf3577"/>
<rect x="245.00" y="252.30" width="28.40" height="17.13" fill="#e06aab"/>
<rect x="104.50" y="269.13" width="28.40" height="17.13" fill="#fbf3f8"/>
<rect x="132.60" y="269.13" width="28.40" height="17.13" fill="#e8f7f8"/>
<rect x="160.70" y="269.13" width="28.40" height="17.13" fill="#e8f7f8"/>
<rect x="188.80" y="269.13" width="28.40" height="17.13" fill="#e68dbf"/>
<rect x="216.90" y="269.13" width="28.40" height="17.13" fill="#e893c4"/>
<rect x="245.00" y="269.13" width="28.40" height="17.13" fill="#f4e2ee"/>
<rect x="104.50" y="285.96" width="28.40" height="17.13" fill="#fdf8fb"/>
<rect x="132.60" y="285.96" width="28.40" height="17.13" fill="#dcf2f5"/>
<rect x="160.70" y="285.96" width="28.40" height="17.13" fill="#fefcfe"/>
<rect x="188.80" y="285.96" width="28.40" height="17.13" fill="#f0c8df"/>
<rect x="216.90" y="285.96" width="28.40" height="17.13" fill="#f0c5dd"/>
<rect x="245.00" y="285.96" width="28.40" height="17.13" fill="#f3deeb"/>
<rect x="104.50" y="302.79" width="28.40" height="17.13" fill="#fbf1f6"/>
<rect x="132.60" y="302.79" width="28.40" height="17.13" fill="#bfe6eb"/>
<rect x="188.80" y="302.79" width="28.40" height="17.13" fill="#f1d2e5"/>
<rect x="216.90" y="302.79" width="28.40" height="17.13" fill="#f1cce2"/>
<rect x="245.00" y="302.79" width="28.40" height="17.13" fill="#f1d3e5"/>
<rect x="104.50" y="319.62" width="28.40" height="17.13" fill="#fcf5f9"/>
<rect x="132.60" y="319.62" width="28.40" height="17.13" fill="#e5f4f9"/>
<rect x="160.70" y="319.62" width="28.40" height="17.13" fill="#f1f9fc"/>
<rect x="188.80" y="319.62" width="28.40" height="17.13" fill="#fbfbfd"/>
<rect x="216.90" y="319.62" width="28.40" height="17.13" fill="#f1cde3"/>
<rect x="245.00" y="319.62" width="28.40" height="17.13" fill="#f4e3ee"/>
<rect x="104.50" y="336.45" width="28.40" height="17.13" fill="#f5e2ee"/>
<rect x="160.70" y="336.45" width="28.40" height="17.13" fill="#55a9bc"/>
<rect x="188.80" y="336.45" width="28.40" height="17.13" fill="#faf3f7"/>
<rect x="216.90" y="336.45" width="28.40" height="17.13" fill="#e8f7f7"/>
<rect x="245.00" y="336.45" width="28.40" height="17.13" fill="#55a9bc"/>
<rect x="160.70" y="353.28" width="28.40" height="17.13" fill="#edf8f8"/>
<rect x="188.80" y="353.28" width="28.40" height="17.13" fill="#fcf9fb"/>
<rect x="216.90" y="353.28" width="28.40" height="17.13" fill="#bae4ea"/>
<rect x="245.00" y="353.28" width="28.40" height="17.13" fill="#55a9bc"/>
<rect x="104.50" y="370.11" width="28.40" height="17.13" fill="#d9f1f4"/>
<rect x="132.60" y="370.11" width="28.40" height="17.13" fill="#f3fbfc"/>
<rect x="160.70" y="370.11" width="28.40" height="17.13" fill="#fbf4f8"/>
<rect x="188.80" y="370.11" width="28.40" height="17.13" fill="#d84691"/>
<rect x="216.90" y="370.11" width="28.40" height="17.13" fill="#d84691"/>
<rect x="245.00" y="370.11" width="28.40" height="17.13" fill="#de5fa3"/>
<rect x="104.50" y="386.94" width="28.40" height="17.13" fill="#fcf8fb"/>
<rect x="132.60" y="386.94" width="28.40" height="17.13" fill="#fdfafc"/>
<rect x="160.70" y="386.94" width="28.40" height="17.13" fill="#bbe4ea"/>
<rect x="188.80" y="386.94" width="28.40" height="17.13" fill="#e16ca9"/>
<rect x="216.90" y="386.94" width="28.40" height="17.13" fill="#e06ba9"/>
<rect x="245.00" y="386.94" width="28.40" height="17.13" fill="#e8a0cb"/>
<rect x="160.70" y="403.77" width="28.40" height="17.13" fill="#fcfdfe"/>
<rect x="188.80" y="403.77" width="28.40" height="17.13" fill="#efbfdb"/>
<rect x="216.90" y="403.77" width="28.40" height="17.13" fill="#eeb6d7"/>
<rect x="245.00" y="403.77" width="28.40" height="17.13" fill="#bde5ea"/>
<rect x="160.70" y="420.60" width="28.40" height="17.13" fill="#fbfcfe"/>
<rect x="188.80" y="420.60" width="28.40" height="17.13" fill="#f5e2ee"/>
<rect x="216.90" y="420.60" width="28.40" height="17.13" fill="#f5e2ee"/>
<rect x="245.00" y="420.60" width="28.40" height="17.13" fill="#f3d3e6"/>
<rect x="132.60" y="437.43" width="28.40" height="17.13" fill="#fbfcfe"/>
<rect x="188.80" y="437.43" width="28.40" height="17.13" fill="#f5e2ee"/>
<rect x="216.90" y="437.43" width="28.40" height="17.13" fill="#f5e3ef"/>
<rect x="245.00" y="437.43" width="28.40" height="17.13" fill="#fbf3f8"/>
<rect x="104.50" y="454.26" width="28.40" height="17.13" fill="#fcfdfe"/>
<rect x="188.80" y="454.26" width="28.40" height="17.13" fill="#f8ebf4"/>
<rect x="216.90" y="454.26" width="28.40" height="17.13" fill="#f8ebf4"/>
<rect x="245.00" y="454.26" width="28.40" height="17.13" fill="#fefcfd"/>
<rect x="104.50" y="471.09" width="28.40" height="17.13" fill="#fdfbfd"/>
<rect x="132.60" y="471.09" width="28.40" height="17.13" fill="#f6fcfc"/>
<rect x="188.80" y="471.09" width="28.40" height="17.13" fill="#f8ecf4"/>
<rect x="216.90" y="471.09" width="28.40" height="17.13" fill="#f8ecf4"/>
<rect x="245.00" y="471.09" width="28.40" height="17.13" fill="#d3eff2"/>
<rect x="104.50" y="487.92" width="28.40" height="17.13" fill="#f2fbfb"/>
<rect x="132.60" y="487.92" width="28.40" height="17.13" fill="#fefbfd"/>
<rect x="188.80" y="487.92" width="28.40" height="17.13" fill="#8dcfd9"/>
<rect x="216.90" y="487.92" width="28.40" height="17.13" fill="#8dcfd9"/>
<rect x="245.00" y="487.92" width="28.40" height="17.13" fill="#8dcfd9"/>
<text x="232.3" y="268.2" font-size="15" text-anchor="middle">**</text>
<text x="232.3" y="285.0" font-size="15" text-anchor="middle">*</text>
<text x="232.3" y="318.7" font-size="15" text-anchor="middle">**</text>
<text x="232.3" y="386.0" font-size="15" text-anchor="middle">*</text>
<text x="232.3" y="402.9" font-size="15" text-anchor="middle">*</text>
<text x="232.3" y="419.7" font-size="15" text-anchor="middle">**</text>
<text x="232.3" y="503.8" font-size="15" text-anchor="middle">**</text>
<line x1="188.8" y1="252.3" x2="188.8" y2="504.75" stroke="#231f20" stroke-width="1.4" stroke-dasharray="4.3 4.3" stroke-dashoffset="-1.8"/>
<rect x="104.50" y="252.30" width="168.60" height="252.45" fill="none" stroke="#231f20" stroke-width="1.5"/>
<line x1="99.2" y1="260.71500000000003" x2="104.5" y2="260.71500000000003" stroke="#231f20" stroke-width="1.3"/>
<text x="96.4" y="265.5" font-size="11.8" font-style="italic" text-anchor="end">fabp7</text>
<line x1="99.2" y1="277.545" x2="104.5" y2="277.545" stroke="#231f20" stroke-width="1.3"/>
<text x="96.5" y="281.1" font-size="11.8" font-weight="bold" text-anchor="end">fabp5</text>
<line x1="99.2" y1="294.375" x2="104.5" y2="294.375" stroke="#231f20" stroke-width="1.3"/>
<text x="96.4" y="299.2" font-size="11.8" font-style="italic" text-anchor="end">fabp6</text>
<line x1="99.2" y1="311.205" x2="104.5" y2="311.205" stroke="#231f20" stroke-width="1.3"/>
<text x="96.5" y="314.8" font-size="11.8" font-weight="bold" text-anchor="end">pparb/d</text>
<line x1="99.2" y1="328.03499999999997" x2="104.5" y2="328.03499999999997" stroke="#231f20" stroke-width="1.3"/>
<text x="96.4" y="332.8" font-size="11.8" font-style="italic" text-anchor="end">fabp3</text>
<line x1="99.2" y1="344.865" x2="104.5" y2="344.865" stroke="#231f20" stroke-width="1.3"/>
<text x="96.4" y="349.7" font-size="11.8" font-style="italic" text-anchor="end">fabp4</text>
<line x1="99.2" y1="361.695" x2="104.5" y2="361.695" stroke="#231f20" stroke-width="1.3"/>
<text x="96.5" y="365.3" font-size="11.8" font-weight="bold" text-anchor="end">pparg</text>
<line x1="99.2" y1="378.525" x2="104.5" y2="378.525" stroke="#231f20" stroke-width="1.3"/>
<text x="96.4" y="383.3" font-size="11.8" font-style="italic" text-anchor="end">alox8</text>
<line x1="99.2" y1="395.355" x2="104.5" y2="395.355" stroke="#231f20" stroke-width="1.3"/>
<text x="96.4" y="400.2" font-size="11.8" font-style="italic" text-anchor="end">slc7a11</text>
<line x1="99.2" y1="412.185" x2="104.5" y2="412.185" stroke="#231f20" stroke-width="1.3"/>
<text x="96.4" y="417.0" font-size="11.8" font-style="italic" text-anchor="end">chac1</text>
<line x1="99.2" y1="429.015" x2="104.5" y2="429.015" stroke="#231f20" stroke-width="1.3"/>
<text x="96.4" y="433.8" font-size="11.8" font-style="italic" text-anchor="end">tfrc</text>
<line x1="99.2" y1="445.845" x2="104.5" y2="445.845" stroke="#231f20" stroke-width="1.3"/>
<text x="96.4" y="450.6" font-size="11.8" font-style="italic" text-anchor="end">fth1</text>
<line x1="99.2" y1="462.67499999999995" x2="104.5" y2="462.67499999999995" stroke="#231f20" stroke-width="1.3"/>
<text x="96.4" y="467.5" font-size="11.8" font-style="italic" text-anchor="end">ftl1</text>
<line x1="99.2" y1="479.505" x2="104.5" y2="479.505" stroke="#231f20" stroke-width="1.3"/>
<text x="96.5" y="483.1" font-size="11.8" font-weight="bold" text-anchor="end">gpx4</text>
<line x1="99.2" y1="496.335" x2="104.5" y2="496.335" stroke="#231f20" stroke-width="1.3"/>
<text x="96.4" y="501.1" font-size="11.8" font-style="italic" text-anchor="end">acsl4</text>
<line x1="118.55" y1="504.75" x2="118.55" y2="509.95" stroke="#231f20" stroke-width="1.3"/>
<text x="118.5" y="525.4" font-size="13" text-anchor="middle">1</text>
<line x1="146.65" y1="504.75" x2="146.65" y2="509.95" stroke="#231f20" stroke-width="1.3"/>
<text x="146.7" y="525.4" font-size="13" text-anchor="middle">2</text>
<line x1="174.75" y1="504.75" x2="174.75" y2="509.95" stroke="#231f20" stroke-width="1.3"/>
<text x="174.8" y="525.4" font-size="13" text-anchor="middle">3</text>
<line x1="202.85000000000002" y1="504.75" x2="202.85000000000002" y2="509.95" stroke="#231f20" stroke-width="1.3"/>
<text x="202.9" y="525.4" font-size="13" text-anchor="middle">1</text>
<line x1="230.95" y1="504.75" x2="230.95" y2="509.95" stroke="#231f20" stroke-width="1.3"/>
<text x="230.9" y="525.4" font-size="13" text-anchor="middle">2</text>
<line x1="259.05" y1="504.75" x2="259.05" y2="509.95" stroke="#231f20" stroke-width="1.3"/>
<text x="259.1" y="525.4" font-size="13" text-anchor="middle">3</text>
<line x1="113.8" y1="530.2" x2="185.3" y2="530.2" stroke="#231f20" stroke-width="1.5"/>
<line x1="197.9" y1="530.2" x2="269.4" y2="530.2" stroke="#231f20" stroke-width="1.5"/>
<text x="149.6" y="544.2" font-size="14" text-anchor="middle">Control</text>
<text x="235.7" y="544.2" font-size="14" text-anchor="middle">DKO*</text>
<text x="188.6" y="246.2" font-size="14" font-weight="bold" text-anchor="middle">GSE119762</text>
<rect x="47.70" y="251.50" width="4.00" height="109.30" fill="#333"/>
<rect x="47.70" y="370.10" width="4.00" height="135.60" fill="#333"/>
<text x="42.2" y="350.4" font-size="14" transform="rotate(-90 42.2 350.4)">Fabps/Ppars</text>
<text x="42.2" y="508.9" font-size="14" transform="rotate(-90 42.2 508.9)">Ferroptosis-associated</text>
<rect x="283.40" y="433.10" width="18.10" height="72.90" fill="url(#cbPT)" stroke="#231f20" stroke-width="1.3"/>
<line x1="283.4" y1="458.0" x2="286.4" y2="458.0" stroke="#231f20" stroke-width="1.3"/>
<line x1="298.5" y1="458.0" x2="301.5" y2="458.0" stroke="#231f20" stroke-width="1.3"/>
<text x="304.1" y="462.4" font-size="12.5">5</text>
<line x1="283.4" y1="492.4" x2="286.4" y2="492.4" stroke="#231f20" stroke-width="1.3"/>
<line x1="298.5" y1="492.4" x2="301.5" y2="492.4" stroke="#231f20" stroke-width="1.3"/>
<text x="304.1" y="496.8" font-size="12.5">0</text>
<text x="318.1" y="443.8" font-size="13.5" transform="rotate(90 318.1 443.8)">Log2FC</text>
<rect x="455.50" y="252.30" width="28.40" height="17.13" fill="#e8f7f8"/>
<rect x="483.60" y="252.30" width="28.40" height="17.13" fill="#fefcfd"/>
<rect x="511.70" y="252.30" width="28.40" height="17.13" fill="#fefcfd"/>
<rect x="539.80" y="252.30" width="28.40" height="17.13" fill="#eaa6cf"/>
<rect x="567.90" y="252.30" width="28.40" height="17.13" fill="#f4d8e9"/>
<rect x="596.00" y="252.30" width="28.40" height="17.13" fill="#eebbda"/>
<rect x="455.50" y="269.13" width="28.40" height="17.13" fill="#fdf9fc"/>
<rect x="483.60" y="269.13" width="28.40" height="17.13" fill="#fdf9fc"/>
<rect x="511.70" y="269.13" width="28.40" height="17.13" fill="#f5fcfd"/>
<rect x="539.80" y="269.13" width="28.40" height="17.13" fill="#e17bb5"/>
<rect x="567.90" y="269.13" width="28.40" height="17.13" fill="#e58bbf"/>
<rect x="596.00" y="269.13" width="28.40" height="17.13" fill="#e58bbf"/>
<rect x="455.50" y="285.96" width="28.40" height="17.13" fill="#fbf7fa"/>
<rect x="511.70" y="285.96" width="28.40" height="17.13" fill="#dff3f6"/>
<rect x="539.80" y="285.96" width="28.40" height="17.13" fill="#f1fafb"/>
<rect x="567.90" y="285.96" width="28.40" height="17.13" fill="#dcf2f5"/>
<rect x="596.00" y="285.96" width="28.40" height="17.13" fill="#a7dbe2"/>
<rect x="455.50" y="302.79" width="28.40" height="17.13" fill="#fbf5f9"/>
<rect x="483.60" y="302.79" width="28.40" height="17.13" fill="#e6f6f8"/>
<rect x="539.80" y="302.79" width="28.40" height="17.13" fill="#f4dceb"/>
<rect x="567.90" y="302.79" width="28.40" height="17.13" fill="#f4dceb"/>
<rect x="596.00" y="302.79" width="28.40" height="17.13" fill="#f3d5e7"/>
<rect x="539.80" y="319.62" width="28.40" height="17.13" fill="#a8dbe1"/>
<rect x="596.00" y="319.62" width="28.40" height="17.13" fill="#ecb5d6"/>
<rect x="455.50" y="336.45" width="28.40" height="17.13" fill="#58abbb"/>
<rect x="483.60" y="336.45" width="28.40" height="17.13" fill="#91d1db"/>
<rect x="511.70" y="336.45" width="28.40" height="17.13" fill="#f2d5e8"/>
<rect x="539.80" y="336.45" width="28.40" height="17.13" fill="#d23a77"/>
<rect x="567.90" y="336.45" width="28.40" height="17.13" fill="#dc4f98"/>
<rect x="596.00" y="336.45" width="28.40" height="17.13" fill="#d8388a"/>
<rect x="455.50" y="353.28" width="28.40" height="17.13" fill="#a6dae2"/>
<rect x="483.60" y="353.28" width="28.40" height="17.13" fill="#f9ebf3"/>
<rect x="539.80" y="353.28" width="28.40" height="17.13" fill="#f5e1ed"/>
<rect x="567.90" y="353.28" width="28.40" height="17.13" fill="#ebf8f9"/>
<rect x="596.00" y="353.28" width="28.40" height="17.13" fill="#fcfbfd"/>
<rect x="455.50" y="370.11" width="28.40" height="17.13" fill="#f1fafb"/>
<rect x="483.60" y="370.11" width="28.40" height="17.13" fill="#c4e8ed"/>
<rect x="511.70" y="370.11" width="28.40" height="17.13" fill="#fbf0f6"/>
<rect x="539.80" y="370.11" width="28.40" height="17.13" fill="#e597c6"/>
<rect x="567.90" y="370.11" width="28.40" height="17.13" fill="#ecbbd9"/>
<rect x="596.00" y="370.11" width="28.40" height="17.13" fill="#f5deec"/>
<rect x="455.50" y="386.94" width="28.40" height="17.13" fill="#e2f4f7"/>
<rect x="483.60" y="386.94" width="28.40" height="17.13" fill="#fcfafd"/>
<rect x="511.70" y="386.94" width="28.40" height="17.13" fill="#fcf8fb"/>
<rect x="539.80" y="386.94" width="28.40" height="17.13" fill="#d63a80"/>
<rect x="567.90" y="386.94" width="28.40" height="17.13" fill="#d9428c"/>
<rect x="596.00" y="386.94" width="28.40" height="17.13" fill="#d9428c"/>
<rect x="455.50" y="403.77" width="28.40" height="17.13" fill="#f8fcfd"/>
<rect x="483.60" y="403.77" width="28.40" height="17.13" fill="#dbf1f4"/>
<rect x="511.70" y="403.77" width="28.40" height="17.13" fill="#fbf3f7"/>
<rect x="539.80" y="403.77" width="28.40" height="17.13" fill="#fefbfd"/>
<rect x="567.90" y="403.77" width="28.40" height="17.13" fill="#fbedf4"/>
<rect x="596.00" y="403.77" width="28.40" height="17.13" fill="#d5eff3"/>
<rect x="483.60" y="420.60" width="28.40" height="17.13" fill="#f8fdfd"/>
<rect x="539.80" y="420.60" width="28.40" height="17.13" fill="#f4d7e8"/>
<rect x="567.90" y="420.60" width="28.40" height="17.13" fill="#f4dde9"/>
<rect x="596.00" y="420.60" width="28.40" height="17.13" fill="#f9e8f2"/>
<rect x="539.80" y="437.43" width="28.40" height="17.13" fill="#9fd6df"/>
<rect x="567.90" y="437.43" width="28.40" height="17.13" fill="#c5e8ed"/>
<rect x="596.00" y="437.43" width="28.40" height="17.13" fill="#f9e8f2"/>
<rect x="483.60" y="454.26" width="28.40" height="17.13" fill="#f5fbfc"/>
<rect x="511.70" y="454.26" width="28.40" height="17.13" fill="#fdfafc"/>
<rect x="539.80" y="454.26" width="28.40" height="17.13" fill="#eef9fa"/>
<rect x="567.90" y="454.26" width="28.40" height="17.13" fill="#fefbfd"/>
<rect x="596.00" y="454.26" width="28.40" height="17.13" fill="#f2cde3"/>
<rect x="455.50" y="471.09" width="28.40" height="17.13" fill="#dff3f6"/>
<rect x="483.60" y="471.09" width="28.40" height="17.13" fill="#f5fbfd"/>
<rect x="511.70" y="471.09" width="28.40" height="17.13" fill="#fcf4f8"/>
<rect x="539.80" y="471.09" width="28.40" height="17.13" fill="#5eaec0"/>
<rect x="567.90" y="471.09" width="28.40" height="17.13" fill="#5eaec0"/>
<rect x="596.00" y="471.09" width="28.40" height="17.13" fill="#63b1c2"/>
<rect x="483.60" y="487.92" width="28.40" height="17.13" fill="#e0f4f6"/>
<rect x="511.70" y="487.92" width="28.40" height="17.13" fill="#fcf5f9"/>
<rect x="539.80" y="487.92" width="28.40" height="17.13" fill="#6bb7c6"/>
<rect x="567.90" y="487.92" width="28.40" height="17.13" fill="#93d0da"/>
<rect x="596.00" y="487.92" width="28.40" height="17.13" fill="#8dcdd8"/>
<text x="582.0" y="285.0" font-size="15" text-anchor="middle">*</text>
<text x="582.0" y="318.7" font-size="15" text-anchor="middle">***</text>
<text x="582.0" y="402.9" font-size="15" text-anchor="middle">*</text>
<text x="582.0" y="436.5" font-size="15" text-anchor="middle">*</text>
<text x="582.0" y="487.0" font-size="15" text-anchor="middle">*</text>
<text x="582.0" y="503.8" font-size="15" text-anchor="middle">*</text>
<line x1="539.8" y1="252.3" x2="539.8" y2="504.75" stroke="#231f20" stroke-width="1.4" stroke-dasharray="4.3 4.3" stroke-dashoffset="-1.8"/>
<rect x="455.50" y="252.30" width="168.60" height="252.45" fill="none" stroke="#231f20" stroke-width="1.5"/>
<line x1="450.2" y1="260.71500000000003" x2="455.5" y2="260.71500000000003" stroke="#231f20" stroke-width="1.3"/>
<text x="447.4" y="265.5" font-size="11.8" font-style="italic" text-anchor="end">fabp7</text>
<line x1="450.2" y1="277.545" x2="455.5" y2="277.545" stroke="#231f20" stroke-width="1.3"/>
<text x="447.5" y="281.1" font-size="11.8" font-weight="bold" text-anchor="end">fabp5</text>
<line x1="450.2" y1="294.375" x2="455.5" y2="294.375" stroke="#231f20" stroke-width="1.3"/>
<text x="447.4" y="299.2" font-size="11.8" font-style="italic" text-anchor="end">fabp6</text>
<line x1="450.2" y1="311.205" x2="455.5" y2="311.205" stroke="#231f20" stroke-width="1.3"/>
<text x="447.5" y="314.8" font-size="11.8" font-weight="bold" text-anchor="end">pparb/d</text>
<line x1="450.2" y1="328.03499999999997" x2="455.5" y2="328.03499999999997" stroke="#231f20" stroke-width="1.3"/>
<text x="447.4" y="332.8" font-size="11.8" font-style="italic" text-anchor="end">fabp3</text>
<line x1="450.2" y1="344.865" x2="455.5" y2="344.865" stroke="#231f20" stroke-width="1.3"/>
<text x="447.4" y="349.7" font-size="11.8" font-style="italic" text-anchor="end">fabp4</text>
<line x1="450.2" y1="361.695" x2="455.5" y2="361.695" stroke="#231f20" stroke-width="1.3"/>
<text x="447.5" y="365.3" font-size="11.8" font-weight="bold" text-anchor="end">pparg</text>
<line x1="450.2" y1="378.525" x2="455.5" y2="378.525" stroke="#231f20" stroke-width="1.3"/>
<text x="447.4" y="383.3" font-size="11.8" font-style="italic" text-anchor="end">alox8</text>
<line x1="450.2" y1="395.355" x2="455.5" y2="395.355" stroke="#231f20" stroke-width="1.3"/>
<text x="447.4" y="400.2" font-size="11.8" font-style="italic" text-anchor="end">slc7a11</text>
<line x1="450.2" y1="412.185" x2="455.5" y2="412.185" stroke="#231f20" stroke-width="1.3"/>
<text x="447.4" y="417.0" font-size="11.8" font-style="italic" text-anchor="end">chac1</text>
<line x1="450.2" y1="429.015" x2="455.5" y2="429.015" stroke="#231f20" stroke-width="1.3"/>
<text x="447.4" y="433.8" font-size="11.8" font-style="italic" text-anchor="end">tfrc</text>
<line x1="450.2" y1="445.845" x2="455.5" y2="445.845" stroke="#231f20" stroke-width="1.3"/>
<text x="447.4" y="450.6" font-size="11.8" font-style="italic" text-anchor="end">fth1</text>
<line x1="450.2" y1="462.67499999999995" x2="455.5" y2="462.67499999999995" stroke="#231f20" stroke-width="1.3"/>
<text x="447.4" y="467.5" font-size="11.8" font-style="italic" text-anchor="end">ftl1</text>
<line x1="450.2" y1="479.505" x2="455.5" y2="479.505" stroke="#231f20" stroke-width="1.3"/>
<text x="447.5" y="483.1" font-size="11.8" font-weight="bold" text-anchor="end">gpx4</text>
<line x1="450.2" y1="496.335" x2="455.5" y2="496.335" stroke="#231f20" stroke-width="1.3"/>
<text x="447.4" y="501.1" font-size="11.8" font-style="italic" text-anchor="end">acsl4</text>
<line x1="469.55" y1="504.75" x2="469.55" y2="509.95" stroke="#231f20" stroke-width="1.3"/>
<text x="469.6" y="525.4" font-size="13" text-anchor="middle">1</text>
<line x1="497.65" y1="504.75" x2="497.65" y2="509.95" stroke="#231f20" stroke-width="1.3"/>
<text x="497.6" y="525.4" font-size="13" text-anchor="middle">2</text>
<line x1="525.75" y1="504.75" x2="525.75" y2="509.95" stroke="#231f20" stroke-width="1.3"/>
<text x="525.8" y="525.4" font-size="13" text-anchor="middle">3</text>
<line x1="553.85" y1="504.75" x2="553.85" y2="509.95" stroke="#231f20" stroke-width="1.3"/>
<text x="553.9" y="525.4" font-size="13" text-anchor="middle">1</text>
<line x1="581.95" y1="504.75" x2="581.95" y2="509.95" stroke="#231f20" stroke-width="1.3"/>
<text x="582.0" y="525.4" font-size="13" text-anchor="middle">2</text>
<line x1="610.05" y1="504.75" x2="610.05" y2="509.95" stroke="#231f20" stroke-width="1.3"/>
<text x="610.0" y="525.4" font-size="13" text-anchor="middle">3</text>
<line x1="464.8" y1="530.2" x2="536.3" y2="530.2" stroke="#231f20" stroke-width="1.5"/>
<line x1="548.9" y1="530.2" x2="620.4" y2="530.2" stroke="#231f20" stroke-width="1.5"/>
<text x="500.6" y="544.2" font-size="14" text-anchor="middle">Control</text>
<text x="584.7" y="544.2" font-size="14" text-anchor="middle">gpx4KO*</text>
<text x="539.6" y="246.2" font-size="14" font-weight="bold" text-anchor="middle">GSE235950</text>
<rect x="398.70" y="251.50" width="4.00" height="109.30" fill="#333"/>
<rect x="398.70" y="370.10" width="4.00" height="135.60" fill="#333"/>
<text x="393.2" y="350.4" font-size="14" transform="rotate(-90 393.2 350.4)">Fabps/Ppars</text>
<text x="393.2" y="508.9" font-size="14" transform="rotate(-90 393.2 508.9)">Ferroptosis-associated</text>
<rect x="634.90" y="431.50" width="17.40" height="71.80" fill="url(#cbPT2)" stroke="#231f20" stroke-width="1.3"/>
<line x1="634.9" y1="451.8" x2="637.9" y2="451.8" stroke="#231f20" stroke-width="1.3"/>
<line x1="649.3" y1="451.8" x2="652.3" y2="451.8" stroke="#231f20" stroke-width="1.3"/>
<text x="654.9" y="456.2" font-size="12.5">5</text>
<line x1="634.9" y1="486.9" x2="637.9" y2="486.9" stroke="#231f20" stroke-width="1.3"/>
<line x1="649.3" y1="486.9" x2="652.3" y2="486.9" stroke="#231f20" stroke-width="1.3"/>
<text x="654.9" y="491.3" font-size="12.5">0</text>
<text x="668.9" y="441.6" font-size="13.5" transform="rotate(90 668.9 441.6)">Log2FC</text>
<text x="0.9" y="252.6" font-size="16.8">(C)</text>
<text x="349.8" y="252.5" font-size="16.8">(D)</text>
<rect x="68.20" y="577.70" width="16.40" height="18.40" fill="#efeff8"/>
<rect x="84.30" y="577.70" width="16.40" height="18.40" fill="#fdfafc"/>
<rect x="100.40" y="577.70" width="16.40" height="18.40" fill="#fcf3f5"/>
<rect x="116.50" y="577.70" width="16.40" height="18.40" fill="#e8313a"/>
<rect x="132.60" y="577.70" width="16.40" height="18.40" fill="#e8353c"/>
<rect x="148.70" y="577.70" width="16.40" height="18.40" fill="#e93d44"/>
<rect x="164.80" y="577.70" width="16.40" height="18.40" fill="#e8373f"/>
<rect x="180.90" y="577.70" width="16.40" height="18.40" fill="#e84048"/>
<rect x="197.00" y="577.70" width="16.40" height="18.40" fill="#e83038"/>
<rect x="84.30" y="595.80" width="16.40" height="18.40" fill="#c9cae6"/>
<rect x="100.40" y="595.80" width="16.40" height="18.40" fill="#f6e0e3"/>
<rect x="116.50" y="595.80" width="16.40" height="18.40" fill="#e9858c"/>
<rect x="132.60" y="595.80" width="16.40" height="18.40" fill="#ec949a"/>
<rect x="148.70" y="595.80" width="16.40" height="18.40" fill="#efb1b6"/>
<rect x="164.80" y="595.80" width="16.40" height="18.40" fill="#e87880"/>
<rect x="180.90" y="595.80" width="16.40" height="18.40" fill="#e87a82"/>
<rect x="197.00" y="595.80" width="16.40" height="18.40" fill="#e87a82"/>
<rect x="116.50" y="613.90" width="16.40" height="18.40" fill="#e9838a"/>
<rect x="132.60" y="613.90" width="16.40" height="18.40" fill="#eea2a8"/>
<rect x="148.70" y="613.90" width="16.40" height="18.40" fill="#e8e9f5"/>
<rect x="164.80" y="613.90" width="16.40" height="18.40" fill="#e87880"/>
<rect x="180.90" y="613.90" width="16.40" height="18.40" fill="#e87880"/>
<rect x="197.00" y="613.90" width="16.40" height="18.40" fill="#e76870"/>
<rect x="68.20" y="632.00" width="16.40" height="18.40" fill="#fcf0f2"/>
<rect x="84.30" y="632.00" width="16.40" height="18.40" fill="#f1f1f8"/>
<rect x="100.40" y="632.00" width="16.40" height="18.40" fill="#fefefe"/>
<rect x="116.50" y="632.00" width="16.40" height="18.40" fill="#f7e2e4"/>
<rect x="132.60" y="632.00" width="16.40" height="18.40" fill="#f1c4c9"/>
<rect x="148.70" y="632.00" width="16.40" height="18.40" fill="#f9ebed"/>
<rect x="164.80" y="632.00" width="16.40" height="18.40" fill="#fefcfc"/>
<rect x="180.90" y="632.00" width="16.40" height="18.40" fill="#fefeff"/>
<rect x="197.00" y="632.00" width="16.40" height="18.40" fill="#fdfcfd"/>
<rect x="68.20" y="650.10" width="16.40" height="18.40" fill="#9193cc"/>
<rect x="84.30" y="650.10" width="16.40" height="18.40" fill="#f1cfd4"/>
<rect x="100.40" y="650.10" width="16.40" height="18.40" fill="#dcddef"/>
<rect x="116.50" y="650.10" width="16.40" height="18.40" fill="#d6d7ec"/>
<rect x="132.60" y="650.10" width="16.40" height="18.40" fill="#fdfbfb"/>
<rect x="148.70" y="650.10" width="16.40" height="18.40" fill="#f8f8fb"/>
<rect x="164.80" y="650.10" width="16.40" height="18.40" fill="#f9e8ea"/>
<rect x="180.90" y="650.10" width="16.40" height="18.40" fill="#e4e5f3"/>
<rect x="197.00" y="650.10" width="16.40" height="18.40" fill="#dcddef"/>
<rect x="68.20" y="668.20" width="16.40" height="18.40" fill="#d9daee"/>
<rect x="84.30" y="668.20" width="16.40" height="18.40" fill="#fcf2f3"/>
<rect x="100.40" y="668.20" width="16.40" height="18.40" fill="#fcf0f2"/>
<rect x="116.50" y="668.20" width="16.40" height="18.40" fill="#a6a8d6"/>
<rect x="132.60" y="668.20" width="16.40" height="18.40" fill="#b8b9df"/>
<rect x="148.70" y="668.20" width="16.40" height="18.40" fill="#b8b9df"/>
<rect x="164.80" y="668.20" width="16.40" height="18.40" fill="#b7b8de"/>
<rect x="180.90" y="668.20" width="16.40" height="18.40" fill="#b5b6de"/>
<rect x="197.00" y="668.20" width="16.40" height="18.40" fill="#eeeff7"/>
<rect x="68.20" y="686.30" width="16.40" height="18.40" fill="#c1c2e3"/>
<rect x="100.40" y="686.30" width="16.40" height="18.40" fill="#f6e1e3"/>
<rect x="116.50" y="686.30" width="16.40" height="18.40" fill="#a2a4d4"/>
<rect x="132.60" y="686.30" width="16.40" height="18.40" fill="#b4b5dd"/>
<rect x="148.70" y="686.30" width="16.40" height="18.40" fill="#b6b7de"/>
<rect x="164.80" y="686.30" width="16.40" height="18.40" fill="#9a9cd0"/>
<rect x="180.90" y="686.30" width="16.40" height="18.40" fill="#a6a8d6"/>
<rect x="197.00" y="686.30" width="16.40" height="18.40" fill="#d0d1ea"/>
<rect x="68.20" y="704.40" width="16.40" height="18.40" fill="#fbf0f1"/>
<rect x="84.30" y="704.40" width="16.40" height="18.40" fill="#f8f9fc"/>
<rect x="100.40" y="704.40" width="16.40" height="18.40" fill="#ebedf7"/>
<rect x="116.50" y="704.40" width="16.40" height="18.40" fill="#5c60b1"/>
<rect x="148.70" y="704.40" width="16.40" height="18.40" fill="#6a6db7"/>
<rect x="164.80" y="704.40" width="16.40" height="18.40" fill="#9c9ed1"/>
<rect x="180.90" y="704.40" width="16.40" height="18.40" fill="#bbbce0"/>
<rect x="197.00" y="704.40" width="16.40" height="18.40" fill="#9799ce"/>
<text x="142.1" y="594.8" font-size="12.5" text-anchor="middle">**</text>
<text x="190.4" y="594.8" font-size="12.5" text-anchor="middle">**</text>
<text x="190.4" y="612.9" font-size="12.5" text-anchor="middle">*</text>
<text x="190.4" y="631.0" font-size="12.5" text-anchor="middle">**</text>
<line x1="116.5" y1="577.7" x2="116.5" y2="722.5" stroke="#231f20" stroke-width="1.4" stroke-dasharray="4.3 4.3" stroke-dashoffset="-1.8"/>
<line x1="164.8" y1="577.7" x2="164.8" y2="722.5" stroke="#231f20" stroke-width="1.4" stroke-dasharray="4.3 4.3" stroke-dashoffset="-1.8"/>
<rect x="68.20" y="577.70" width="144.90" height="144.80" fill="none" stroke="#231f20" stroke-width="1.5"/>
<line x1="63.900000000000006" y1="586.75" x2="68.2" y2="586.75" stroke="#231f20" stroke-width="1.3"/>
<text x="62.5" y="589.8" font-size="11.8" font-style="italic" text-anchor="end">fabp7</text>
<line x1="63.900000000000006" y1="604.85" x2="68.2" y2="604.85" stroke="#231f20" stroke-width="1.3"/>
<text x="62.2" y="607.9" font-size="12" font-weight="bold" text-anchor="end">fabp5</text>
<line x1="63.900000000000006" y1="622.95" x2="68.2" y2="622.95" stroke="#231f20" stroke-width="1.3"/>
<text x="62.2" y="626.0" font-size="12" font-weight="bold" text-anchor="end">pparb/d</text>
<line x1="63.900000000000006" y1="641.0500000000001" x2="68.2" y2="641.0500000000001" stroke="#231f20" stroke-width="1.3"/>
<text x="62.5" y="644.1" font-size="11.8" font-style="italic" text-anchor="end">fabp6</text>
<line x1="63.900000000000006" y1="659.1500000000001" x2="68.2" y2="659.1500000000001" stroke="#231f20" stroke-width="1.3"/>
<text x="62.5" y="662.2" font-size="11.8" font-style="italic" text-anchor="end">fabp9</text>
<line x1="63.900000000000006" y1="677.25" x2="68.2" y2="677.25" stroke="#231f20" stroke-width="1.3"/>
<text x="62.5" y="680.2" font-size="11.8" font-style="italic" text-anchor="end">fabp3</text>
<line x1="63.900000000000006" y1="695.35" x2="68.2" y2="695.35" stroke="#231f20" stroke-width="1.3"/>
<text x="62.2" y="698.4" font-size="12" font-weight="bold" text-anchor="end">pparg</text>
<line x1="63.900000000000006" y1="713.45" x2="68.2" y2="713.45" stroke="#231f20" stroke-width="1.3"/>
<text x="62.5" y="716.5" font-size="11.8" font-style="italic" text-anchor="end">fabp4</text>
<line x1="76.25" y1="722.5" x2="76.25" y2="726.5" stroke="#231f20" stroke-width="1.3"/>
<text x="76.2" y="739.2" font-size="13" text-anchor="middle">1</text>
<line x1="92.35000000000001" y1="722.5" x2="92.35000000000001" y2="726.5" stroke="#231f20" stroke-width="1.3"/>
<text x="92.4" y="739.2" font-size="13" text-anchor="middle">2</text>
<line x1="108.45" y1="722.5" x2="108.45" y2="726.5" stroke="#231f20" stroke-width="1.3"/>
<text x="108.5" y="739.2" font-size="13" text-anchor="middle">3</text>
<line x1="124.55000000000001" y1="722.5" x2="124.55000000000001" y2="726.5" stroke="#231f20" stroke-width="1.3"/>
<text x="124.6" y="739.2" font-size="13" text-anchor="middle">1</text>
<line x1="140.65" y1="722.5" x2="140.65" y2="726.5" stroke="#231f20" stroke-width="1.3"/>
<text x="140.7" y="739.2" font-size="13" text-anchor="middle">2</text>
<line x1="156.75" y1="722.5" x2="156.75" y2="726.5" stroke="#231f20" stroke-width="1.3"/>
<text x="156.8" y="739.2" font-size="13" text-anchor="middle">3</text>
<line x1="172.85000000000002" y1="722.5" x2="172.85000000000002" y2="726.5" stroke="#231f20" stroke-width="1.3"/>
<text x="172.9" y="739.2" font-size="13" text-anchor="middle">1</text>
<line x1="188.95000000000002" y1="722.5" x2="188.95000000000002" y2="726.5" stroke="#231f20" stroke-width="1.3"/>
<text x="189.0" y="739.2" font-size="13" text-anchor="middle">2</text>
<line x1="205.05" y1="722.5" x2="205.05" y2="726.5" stroke="#231f20" stroke-width="1.3"/>
<text x="205.1" y="739.2" font-size="13" text-anchor="middle">3</text>
<line x1="76" y1="741.5" x2="112" y2="741.5" stroke="#231f20" stroke-width="1.4"/>
<line x1="125.2" y1="741.5" x2="161.2" y2="741.5" stroke="#231f20" stroke-width="1.4"/>
<line x1="172.9" y1="741.5" x2="209.1" y2="741.5" stroke="#231f20" stroke-width="1.4"/>
<text x="71.9" y="755.0" font-size="13" text-anchor="end">TAM</text>
<text x="91.8" y="755.0" font-size="13" text-anchor="middle">0</text>
<text x="140.9" y="755.0" font-size="13" text-anchor="middle">7</text>
<text x="190.6" y="755.0" font-size="13" text-anchor="middle">14</text>
<text x="211.4" y="755.0" font-size="13.2">Days</text>
<line x1="77" y1="757.3" x2="210.3" y2="757.3" stroke="#231f20" stroke-width="1.4"/>
<text x="143.7" y="770.0" font-size="13.5" text-anchor="middle">DKO*</text>
<text x="140.7" y="571.9" font-size="14" font-weight="bold" text-anchor="middle">Ear skin qPCR</text>
<defs><linearGradient id="cbRB" x1="0" y1="0" x2="0" y2="1">
<stop offset="0" stop-color="#e8323b"/><stop offset="0.14" stop-color="#e84048"/><stop offset="0.3" stop-color="#ed8a8f"/><stop offset="0.42" stop-color="#f8d8da"/><stop offset="0.5" stop-color="#ffffff"/><stop offset="0.6" stop-color="#dcdcee"/><stop offset="0.75" stop-color="#9496cb"/><stop offset="0.86" stop-color="#5a5db0"/><stop offset="1" stop-color="#4347a2"/>
</linearGradient></defs>
<rect x="221.00" y="667.40" width="14.20" height="53.30" fill="url(#cbRB)" stroke="#231f20" stroke-width="1.3"/>
<line x1="221.0" y1="674.7" x2="223.6" y2="674.7" stroke="#231f20" stroke-width="1.2"/>
<line x1="232.6" y1="674.7" x2="235.2" y2="674.7" stroke="#231f20" stroke-width="1.2"/>
<text x="238.3" y="677.9" font-size="11">5</text>
<line x1="221.0" y1="694.4" x2="223.6" y2="694.4" stroke="#231f20" stroke-width="1.2"/>
<line x1="232.6" y1="694.4" x2="235.2" y2="694.4" stroke="#231f20" stroke-width="1.2"/>
<text x="238.3" y="697.6" font-size="11">0</text>
<line x1="221.0" y1="713.7" x2="223.6" y2="713.7" stroke="#231f20" stroke-width="1.2"/>
<line x1="232.6" y1="713.7" x2="235.2" y2="713.7" stroke="#231f20" stroke-width="1.2"/>
<text x="237.8" y="716.9" font-size="11">-5</text>
<text x="249.6" y="675.6" font-size="11.2" transform="rotate(90 249.6 675.6)">Log2FC</text>
<text x="0.9" y="567.9" font-size="16.8">(E)</text>
<text x="264.0" y="567.7" font-size="16.8">(F)</text>
<text x="350.4" y="580.8" font-size="16" text-anchor="middle">Control</text>
<text x="484.2" y="580.5" font-size="16" text-anchor="middle">DKO*</text>
<line x1="283" y1="586.6" x2="414.6" y2="586.6" stroke="#231f20" stroke-width="1.6"/>
<line x1="418.4" y1="586.6" x2="550.3" y2="586.6" stroke="#231f20" stroke-width="1.6"/>
<defs>
<clipPath id="cDT"><rect x="418" y="589" width="132.2" height="72.7"/></clipPath>
<clipPath id="cDB"><rect x="418" y="664.6" width="132.2" height="69.5"/></clipPath>
<clipPath id="cCT"><rect x="283" y="589" width="132.2" height="72.7"/></clipPath>
<clipPath id="cCB"><rect x="283" y="664.6" width="132.2" height="70"/></clipPath>
<filter id="tex" x="0" y="0" width="100%" height="100%"><feTurbulence type="fractalNoise" baseFrequency="0.35" numOctaves="3" seed="9" result="t"/><feColorMatrix in="t" type="matrix" values="0 0 0 0 0.35  0 0 0 0 0.2  0 0 0 0 0.45  0 0 0 -1.6 0.95" result="n"/><feComposite in="n" in2="SourceGraphic" operator="in"/></filter>
<filter id="dotsF" x="0" y="0" width="100%" height="100%"><feTurbulence type="turbulence" baseFrequency="0.55" numOctaves="1" seed="4" result="t"/><feColorMatrix in="t" type="matrix" values="0 0 0 0 0.72  0 0 0 0 0.42  0 0 0 0 0.25  0 0 0 -9 3.2" result="n"/><feComposite in="n" in2="SourceGraphic" operator="in"/></filter>
<filter id="sb" x="-20%" y="-20%" width="140%" height="140%"><feGaussianBlur stdDeviation="0.9"/></filter>
<filter id="sb2" x="-20%" y="-20%" width="140%" height="140%"><feGaussianBlur stdDeviation="1.8"/></filter>
</defs>
<g clip-path="url(#cCT)">
<path d="M286 648 Q300 646 312 642 M360 632 Q380 634 395 640 T414 648 M292 606 L296 608" fill="none" stroke="#8d80c6" stroke-width="0.5" opacity="0.6"/>
<path d="M281.0 641.0 L292.3 634.5 L304.5 628.3 L316.8 624.2 L331.1 623.2 L347.4 624.2 L361.7 626.6 L378.1 627.4 L394.4 626.0 L406.7 623.4 L417.0 621.8" fill="none" stroke="#5f4fab" stroke-width="7.0" stroke-linejoin="round"/>
<path d="M281.0 641.0 L292.3 634.5 L304.5 628.3 L316.8 624.2" fill="none" stroke="#5f4fab" stroke-width="10" stroke-linejoin="round" opacity="0.9"/>
<path d="M281.0 639.4 L292.3 632.9 L304.5 626.7 L316.8 622.6 L331.1 621.6 L347.4 622.6 L361.7 625.0 L378.1 625.8 L394.4 624.4 L406.7 621.8 L417.0 620.2" fill="none" stroke="#8c7fc8" stroke-width="2.2" stroke-linejoin="round"/>
<path d="M281.0 641.4 L292.3 634.9 L304.5 628.7 L316.8 624.6 L331.1 623.6 L347.4 624.6 L361.7 627.0 L378.1 627.8 L394.4 626.4 L406.7 623.8 L417.0 622.2" fill="none" stroke="#d8d2ef" stroke-width="1.1" stroke-linejoin="round" stroke-dasharray="2 1.2"/>
<path d="M347.4 627.8 L361.7 630.2 L378.1 631.0 L394.4 629.6 L406.7 627.0 L417.0 625.4" fill="none" stroke="#2a2440" stroke-width="1.3" stroke-linejoin="round"/>
<circle cx="366" cy="594.5" r="0.9" fill="#8a7fc9"/>
</g>
<rect x="319.20" y="615.90" width="34.30" height="18.30" fill="none" stroke="#333" stroke-width="1.4"/>
<line x1="400.6" y1="659.4" x2="414.9" y2="659.4" stroke="#231f20" stroke-width="1.8"/>
<line x1="283.5" y1="659.5" x2="298" y2="659.5" stroke="#999" stroke-width="0.6"/>
<g clip-path="url(#cCB)">
<path d="M283 682.5 Q300 680.5 320 682.5 T350 680.5 Q372 680 390 684 T415 690.5 L415 716.5 Q395 717 370 716.5 T330 717.5 Q305 719 283 718.5 Z" fill="#6555b0"/>
<path d="M283 682.5 Q300 680.5 320 682.5 T350 680.5 Q372 680 390 684 T415 690.5 L415 716.5 Q395 717 370 716.5 T330 717.5 Q305 719 283 718.5 Z" fill="#000" filter="url(#tex)" opacity="0.5"/>
<path d="M283 697.8 Q330 696.8 415 699" fill="none" stroke="#fff" stroke-width="1.3" opacity="0.9"/>
<ellipse cx="285.2" cy="702.2" rx="1.2" ry="1.6" fill="#fff"/><ellipse cx="289.7" cy="701.8" rx="1.7" ry="1.2" fill="#fff"/><ellipse cx="294.4" cy="703.1" rx="1.2" ry="1.3" fill="#fff"/><ellipse cx="299.0" cy="702.7" rx="2.0" ry="1.5" fill="#fff"/><ellipse cx="303.7" cy="702.5" rx="1.7" ry="1.9" fill="#fff"/><ellipse cx="308.9" cy="702.9" rx="1.8" ry="1.2" fill="#fff"/><ellipse cx="313.5" cy="703.0" rx="1.3" ry="1.1" fill="#fff"/><ellipse cx="317.9" cy="702.9" rx="1.8" ry="1.9" fill="#fff"/><ellipse cx="323.1" cy="702.6" rx="1.4" ry="1.8" fill="#fff"/><ellipse cx="328.5" cy="702.2" rx="2.0" ry="1.2" fill="#fff"/><ellipse cx="333.7" cy="702.8" rx="2.2" ry="1.5" fill="#fff"/><ellipse cx="338.6" cy="702.5" rx="1.6" ry="1.4" fill="#fff"/><ellipse cx="343.3" cy="703.0" rx="1.7" ry="1.9" fill="#fff"/><ellipse cx="348.9" cy="703.0" rx="2.0" ry="2.0" fill="#fff"/><ellipse cx="354.0" cy="703.3" rx="2.0" ry="2.0" fill="#fff"/><ellipse cx="359.3" cy="703.2" rx="1.8" ry="1.3" fill="#fff"/><ellipse cx="363.9" cy="703.3" rx="1.3" ry="1.2" fill="#fff"/><ellipse cx="368.1" cy="702.8" rx="1.0" ry="1.8" fill="#fff"/><ellipse cx="371.4" cy="703.4" rx="1.3" ry="1.8" fill="#fff"/><ellipse cx="375.3" cy="703.2" rx="1.7" ry="1.1" fill="#fff"/><ellipse cx="380.2" cy="703.0" rx="2.0" ry="2.0" fill="#fff"/><ellipse cx="385.5" cy="703.1" rx="1.3" ry="1.2" fill="#fff"/><ellipse cx="388.8" cy="703.2" rx="1.2" ry="1.5" fill="#fff"/><ellipse cx="391.9" cy="702.8" rx="1.0" ry="1.9" fill="#fff"/><ellipse cx="396.9" cy="703.0" rx="2.1" ry="1.4" fill="#fff"/><ellipse cx="402.1" cy="703.2" rx="1.7" ry="1.6" fill="#fff"/><ellipse cx="407.5" cy="703.1" rx="2.1" ry="1.6" fill="#fff"/><ellipse cx="412.5" cy="703.7" rx="1.2" ry="1.4" fill="#fff"/>
<path d="M285 734 Q292 722 305 719 T330 718 M288 728 Q296 722 310 720 M345 676 Q355 673 368 676 M383 716 Q400 722 415 727" fill="none" stroke="#8d80c6" stroke-width="0.7"/>
<ellipse cx="301" cy="692.3" rx="5.5" ry="1.8" fill="#b07a60" opacity="0.9"/>
<ellipse cx="349.5" cy="692.5" rx="5" ry="2.3" fill="#b47a5c" opacity="0.9"/>
<ellipse cx="365" cy="693" rx="1.8" ry="1.3" fill="#fff"/>
<ellipse cx="369.5" cy="693.2" rx="2.2" ry="1.4" fill="#b07a60" opacity="0.8"/>
<ellipse cx="294" cy="686.5" rx="2.5" ry="1.2" fill="#fff"/>
</g>
<line x1="400.6" y1="728.0" x2="414.9" y2="728.0" stroke="#231f20" stroke-width="1.8"/>
<line x1="283.5" y1="731" x2="298" y2="731" stroke="#999" stroke-width="0.6"/>
<g clip-path="url(#cDT)">
<path d="M418.0 607.0 L421.0 602.0 L427.0 598.5 L440.0 597.0 L448.0 594.0 L452.0 593.5 L458.0 595.5 L465.0 597.0 L470.0 600.0 L478.0 606.0 L483.0 611.0 L486.0 617.0 L490.0 620.0 L495.0 621.5 L500.0 622.0 L505.0 620.5 L510.0 618.0 L515.0 614.5 L520.0 611.0 L525.0 609.0 L530.0 607.0 L535.0 605.0 L540.0 603.0 L545.0 600.0 L550.5 596.0 L550.5 662 L418 662 Z" fill="#a391c7"/>
<path d="M418 622 Q432 613 448 613 Q462 611 476 615 L484 621 Q470 621 458 623 Q440 628 428 632 L418 634 Z" fill="#c49a8c" opacity="0.85" filter="url(#sb)"/>
<path d="M447 627 Q452 624 456 628 Q460 634 463 628 Q467 622 471 628 Q474 634 478 628 L482 630 L482 641 L447 641 Z" fill="#c49a8c" opacity="0.8" filter="url(#sb)"/>
<path d="M482 628 Q500 625 520 619 Q536 613 550.5 607 L550.5 615 Q536 620 520 625 Q500 631 482 635 Z" fill="#c49a8c" opacity="0.7" filter="url(#sb)"/>
<path d="M418 653 Q430 649 445 653 Q455 657 465 651 Q478 647 490 652 Q500 656 510 650 Q520 645 532 648 Q540 652 550.5 646 L550.5 662 L418 662 Z" fill="#c49a8c" opacity="0.8" filter="url(#sb)"/>
<path d="M505 641 Q515 635 528 637 Q540 633 550.5 629 L550.5 641 Q538 645 526 643 Q514 645 505 647 Z" fill="#c49a8c" opacity="0.75" filter="url(#sb)"/>
<path d="M418 644 Q445 644 470 642 Q500 638 520 630 Q538 622 550.5 616" fill="none" stroke="#dcd4ec" stroke-width="6" opacity="0.85" filter="url(#sb)"/>
<path d="M418 648 Q450 647 480 644 Q510 639 535 627 L550.5 621" fill="none" stroke="#ebe6f4" stroke-width="1.6" opacity="0.9"/>
<path d="M418 639 Q450 639 478 636 Q505 631 530 620 L550.5 611" fill="none" stroke="#8a78bb" stroke-width="1.0" opacity="0.8"/>
<path d="M421 603 Q430 599 446 598 Q448 606 446 614 Q436 617 426 615 Q420 610 421 603 Z" fill="#5e4c9e" opacity="0.8" filter="url(#sb)"/>
<path d="M428 607.5 Q434 606 440 603.5" fill="none" stroke="#fff" stroke-width="1.3" opacity="0.9"/>
<path d="M424 600 Q436 597.5 447 595.5 M450 594.5 Q454 594 458 596" fill="none" stroke="#4e2420" stroke-width="1.8" opacity="0.85"/>
<path d="M470 601 L478 607 L483 612 L486 618" fill="none" stroke="#6a3a40" stroke-width="1.6" opacity="0.7"/>
<path d="M418.0 607.0 L421.0 602.0 L427.0 598.5 L440.0 597.0 L448.0 594.0 L452.0 593.5 L458.0 595.5 L465.0 597.0 L470.0 600.0 L478.0 606.0 L483.0 611.0 L486.0 617.0 L490.0 620.0 L495.0 621.5 L500.0 622.0 L505.0 620.5 L510.0 618.0 L515.0 614.5 L520.0 611.0 L525.0 609.0 L530.0 607.0 L535.0 605.0 L540.0 603.0 L545.0 600.0 L550.5 596.0 L550.5 662 L418 662 Z" fill="none"/>
<g clip-path="url(#cDTt)"><path d="M503.7 654.8h0.9v0.9h-0.9zM493.8 590.0h0.9v0.9h-0.9zM439.1 647.2h0.9v0.9h-0.9zM499.5 598.2h0.9v0.9h-0.9zM533.0 604.3h0.9v0.9h-0.9zM547.7 652.7h0.9v0.9h-0.9zM545.6 654.2h0.9v0.9h-0.9zM465.7 601.1h0.9v0.9h-0.9zM418.4 638.5h0.9v0.9h-0.9zM458.9 648.8h0.9v0.9h-0.9zM425.5 660.2h0.9v0.9h-0.9zM517.0 650.7h0.9v0.9h-0.9zM419.2 592.4h0.9v0.9h-0.9zM540.7 657.8h0.9v0.9h-0.9zM490.0 611.8h0.9v0.9h-0.9zM441.4 594.7h0.9v0.9h-0.9zM509.0 661.8h0.9v0.9h-0.9zM527.1 622.3h0.9v0.9h-0.9zM425.4 655.9h0.9v0.9h-0.9zM483.2 650.2h0.9v0.9h-0.9zM522.0 596.8h0.9v0.9h-0.9zM437.7 650.7h0.9v0.9h-0.9zM546.8 622.1h0.9v0.9h-0.9zM514.3 624.0h0.9v0.9h-0.9zM471.3 599.7h0.9v0.9h-0.9zM483.9 613.7h0.9v0.9h-0.9zM466.0 640.4h0.9v0.9h-0.9zM451.1 638.0h0.9v0.9h-0.9zM494.7 637.6h0.9v0.9h-0.9zM513.1 591.0h0.9v0.9h-0.9zM476.2 636.5h0.9v0.9h-0.9zM508.5 635.1h0.9v0.9h-0.9zM480.2 605.5h0.9v0.9h-0.9zM435.6 612.2h0.9v0.9h-0.9zM443.5 591.6h0.9v0.9h-0.9zM449.4 654.9h0.9v0.9h-0.9zM471.5 609.3h0.9v0.9h-0.9zM433.2 649.7h0.9v0.9h-0.9zM422.8 633.8h0.9v0.9h-0.9zM544.5 648.8h0.9v0.9h-0.9zM525.3 635.9h0.9v0.9h-0.9zM464.3 654.2h0.9v0.9h-0.9zM467.6 620.5h0.9v0.9h-0.9zM456.5 660.0h0.9v0.9h-0.9zM452.3 660.6h0.9v0.9h-0.9zM482.9 609.9h0.9v0.9h-0.9zM434.1 634.4h0.9v0.9h-0.9zM419.7 627.9h0.9v0.9h-0.9zM541.5 646.1h0.9v0.9h-0.9zM456.7 633.4h0.9v0.9h-0.9zM433.6 644.5h0.9v0.9h-0.9zM488.4 613.5h0.9v0.9h-0.9zM487.9 622.9h0.9v0.9h-0.9zM516.3 632.1h0.9v0.9h-0.9zM535.2 628.8h0.9v0.9h-0.9zM511.5 635.2h0.9v0.9h-0.9zM538.3 617.1h0.9v0.9h-0.9zM530.5 603.3h0.9v0.9h-0.9zM509.7 620.6h0.9v0.9h-0.9zM521.1 655.5h0.9v0.9h-0.9zM481.2 629.1h0.9v0.9h-0.9zM525.2 594.0h0.9v0.9h-0.9zM549.8 640.2h0.9v0.9h-0.9zM543.7 641.0h0.9v0.9h-0.9zM456.6 656.0h0.9v0.9h-0.9zM498.6 619.2h0.9v0.9h-0.9zM500.2 592.2h0.9v0.9h-0.9zM468.1 594.3h0.9v0.9h-0.9zM435.7 620.5h0.9v0.9h-0.9zM452.7 629.3h0.9v0.9h-0.9zM517.1 626.7h0.9v0.9h-0.9zM429.3 637.8h0.9v0.9h-0.9zM434.5 632.4h0.9v0.9h-0.9zM533.8 624.1h0.9v0.9h-0.9zM507.9 605.3h0.9v0.9h-0.9zM436.4 634.6h0.9v0.9h-0.9zM464.0 617.2h0.9v0.9h-0.9zM470.2 596.1h0.9v0.9h-0.9zM481.5 644.5h0.9v0.9h-0.9zM474.6 623.0h0.9v0.9h-0.9zM438.4 600.6h0.9v0.9h-0.9zM468.9 653.3h0.9v0.9h-0.9zM451.5 609.3h0.9v0.9h-0.9zM455.9 606.2h0.9v0.9h-0.9zM422.2 656.5h0.9v0.9h-0.9zM480.3 658.0h0.9v0.9h-0.9zM514.3 600.9h0.9v0.9h-0.9zM421.3 605.8h0.9v0.9h-0.9zM470.9 660.1h0.9v0.9h-0.9zM459.2 623.2h0.9v0.9h-0.9zM514.7 641.4h0.9v0.9h-0.9zM548.6 626.9h0.9v0.9h-0.9zM482.8 657.3h0.9v0.9h-0.9zM450.1 592.7h0.9v0.9h-0.9zM425.9 607.6h0.9v0.9h-0.9zM458.4 592.7h0.9v0.9h-0.9zM471.1 627.8h0.9v0.9h-0.9zM482.2 630.7h0.9v0.9h-0.9zM447.6 597.4h0.9v0.9h-0.9zM459.3 598.5h0.9v0.9h-0.9zM450.3 595.2h0.9v0.9h-0.9zM494.2 606.9h0.9v0.9h-0.9zM510.5 592.5h0.9v0.9h-0.9zM455.8 616.3h0.9v0.9h-0.9zM518.3 631.0h0.9v0.9h-0.9zM514.1 640.2h0.9v0.9h-0.9zM525.2 616.9h0.9v0.9h-0.9zM426.7 601.4h0.9v0.9h-0.9zM507.2 609.8h0.9v0.9h-0.9zM518.8 629.7h0.9v0.9h-0.9zM424.7 598.5h0.9v0.9h-0.9zM448.5 620.3h0.9v0.9h-0.9zM527.2 642.1h0.9v0.9h-0.9zM478.9 620.7h0.9v0.9h-0.9zM546.0 632.5h0.9v0.9h-0.9zM525.5 619.6h0.9v0.9h-0.9zM481.6 653.4h0.9v0.9h-0.9zM446.5 609.2h0.9v0.9h-0.9zM449.9 614.7h0.9v0.9h-0.9zM499.6 618.3h0.9v0.9h-0.9zM527.8 624.8h0.9v0.9h-0.9zM500.2 647.4h0.9v0.9h-0.9zM442.4 617.4h0.9v0.9h-0.9zM421.6 611.8h0.9v0.9h-0.9zM480.8 640.3h0.9v0.9h-0.9zM507.7 627.1h0.9v0.9h-0.9zM428.3 595.4h0.9v0.9h-0.9zM458.5 656.8h0.9v0.9h-0.9zM489.8 617.7h0.9v0.9h-0.9zM491.1 641.2h0.9v0.9h-0.9zM535.1 604.5h0.9v0.9h-0.9zM537.4 611.1h0.9v0.9h-0.9zM497.9 659.6h0.9v0.9h-0.9zM497.7 602.4h0.9v0.9h-0.9zM514.2 593.5h0.9v0.9h-0.9zM528.2 658.9h0.9v0.9h-0.9zM480.9 596.4h0.9v0.9h-0.9zM438.7 595.8h0.9v0.9h-0.9zM500.5 659.5h0.9v0.9h-0.9zM431.6 593.7h0.9v0.9h-0.9zM516.1 595.1h0.9v0.9h-0.9zM489.7 616.4h0.9v0.9h-0.9zM457.1 597.5h0.9v0.9h-0.9zM468.4 610.2h0.9v0.9h-0.9zM486.5 592.7h0.9v0.9h-0.9zM449.4 637.6h0.9v0.9h-0.9zM453.8 596.0h0.9v0.9h-0.9zM548.0 628.5h0.9v0.9h-0.9zM541.3 595.7h0.9v0.9h-0.9zM465.7 590.2h0.9v0.9h-0.9zM476.4 623.4h0.9v0.9h-0.9zM485.0 592.9h0.9v0.9h-0.9zM517.8 654.1h0.9v0.9h-0.9zM549.2 604.8h0.9v0.9h-0.9zM453.8 623.3h0.9v0.9h-0.9zM506.0 598.0h0.9v0.9h-0.9zM478.4 594.4h0.9v0.9h-0.9zM536.5 653.6h0.9v0.9h-0.9zM497.1 599.0h0.9v0.9h-0.9zM539.5 657.4h0.9v0.9h-0.9zM442.4 620.3h0.9v0.9h-0.9zM510.7 595.6h0.9v0.9h-0.9zM502.9 616.4h0.9v0.9h-0.9zM449.8 630.5h0.9v0.9h-0.9zM490.0 642.4h0.9v0.9h-0.9zM481.5 640.5h0.9v0.9h-0.9zM498.6 646.9h0.9v0.9h-0.9zM484.1 591.8h0.9v0.9h-0.9zM463.6 590.6h0.9v0.9h-0.9zM436.2 614.6h0.9v0.9h-0.9zM492.7 604.1h0.9v0.9h-0.9zM425.9 595.4h0.9v0.9h-0.9zM437.0 659.6h0.9v0.9h-0.9zM469.3 634.9h0.9v0.9h-0.9zM452.8 653.0h0.9v0.9h-0.9zM536.4 601.9h0.9v0.9h-0.9zM483.3 652.6h0.9v0.9h-0.9zM498.7 633.7h0.9v0.9h-0.9zM543.3 597.1h0.9v0.9h-0.9zM508.3 595.8h0.9v0.9h-0.9zM452.1 610.8h0.9v0.9h-0.9zM479.5 600.3h0.9v0.9h-0.9zM452.8 658.1h0.9v0.9h-0.9zM429.6 614.7h0.9v0.9h-0.9zM441.1 599.1h0.9v0.9h-0.9zM538.4 599.6h0.9v0.9h-0.9zM491.3 637.4h0.9v0.9h-0.9zM521.5 650.0h0.9v0.9h-0.9zM432.2 607.9h0.9v0.9h-0.9zM502.6 658.8h0.9v0.9h-0.9zM519.6 613.6h0.9v0.9h-0.9zM424.6 660.0h0.9v0.9h-0.9zM502.0 641.9h0.9v0.9h-0.9zM471.9 613.0h0.9v0.9h-0.9zM426.5 641.3h0.9v0.9h-0.9zM532.8 593.6h0.9v0.9h-0.9zM536.3 626.0h0.9v0.9h-0.9zM472.9 605.5h0.9v0.9h-0.9zM492.6 610.2h0.9v0.9h-0.9zM433.2 628.2h0.9v0.9h-0.9zM548.3 628.6h0.9v0.9h-0.9zM487.8 599.2h0.9v0.9h-0.9zM541.9 623.0h0.9v0.9h-0.9zM455.5 643.3h0.9v0.9h-0.9zM435.6 601.2h0.9v0.9h-0.9zM439.5 640.0h0.9v0.9h-0.9zM494.6 607.4h0.9v0.9h-0.9zM424.9 641.6h0.9v0.9h-0.9zM539.4 609.6h0.9v0.9h-0.9zM533.8 598.7h0.9v0.9h-0.9zM472.7 660.3h0.9v0.9h-0.9zM418.1 657.9h0.9v0.9h-0.9zM530.6 637.3h0.9v0.9h-0.9zM528.6 638.3h0.9v0.9h-0.9zM499.1 647.1h0.9v0.9h-0.9zM519.8 650.1h0.9v0.9h-0.9zM488.7 623.9h0.9v0.9h-0.9zM468.8 636.1h0.9v0.9h-0.9zM476.7 639.1h0.9v0.9h-0.9zM452.4 650.4h0.9v0.9h-0.9zM432.0 622.4h0.9v0.9h-0.9zM444.6 593.8h0.9v0.9h-0.9zM431.2 616.0h0.9v0.9h-0.9zM447.1 589.2h0.9v0.9h-0.9zM457.6 642.2h0.9v0.9h-0.9zM509.0 604.8h0.9v0.9h-0.9zM477.5 618.8h0.9v0.9h-0.9zM534.5 641.1h0.9v0.9h-0.9zM443.2 612.9h0.9v0.9h-0.9zM508.0 645.2h0.9v0.9h-0.9zM488.4 650.3h0.9v0.9h-0.9zM430.5 633.2h0.9v0.9h-0.9zM437.0 610.0h0.9v0.9h-0.9zM437.7 620.0h0.9v0.9h-0.9zM428.5 600.0h0.9v0.9h-0.9zM481.1 647.6h0.9v0.9h-0.9zM440.5 620.1h0.9v0.9h-0.9zM526.6 605.8h0.9v0.9h-0.9zM430.4 642.3h0.9v0.9h-0.9zM458.9 638.5h0.9v0.9h-0.9zM538.9 635.5h0.9v0.9h-0.9zM485.7 623.3h0.9v0.9h-0.9zM438.0 609.3h0.9v0.9h-0.9zM427.4 638.2h0.9v0.9h-0.9zM456.3 595.6h0.9v0.9h-0.9zM540.9 610.3h0.9v0.9h-0.9zM463.6 658.0h0.9v0.9h-0.9zM461.3 639.1h0.9v0.9h-0.9zM533.1 593.2h0.9v0.9h-0.9zM529.6 630.6h0.9v0.9h-0.9zM504.7 633.9h0.9v0.9h-0.9zM474.3 598.6h0.9v0.9h-0.9zM534.0 611.3h0.9v0.9h-0.9zM497.6 632.1h0.9v0.9h-0.9zM476.9 642.6h0.9v0.9h-0.9zM455.6 636.9h0.9v0.9h-0.9zM478.3 600.8h0.9v0.9h-0.9zM441.4 623.6h0.9v0.9h-0.9zM514.0 622.4h0.9v0.9h-0.9zM475.7 633.8h0.9v0.9h-0.9zM505.0 606.8h0.9v0.9h-0.9zM520.8 611.4h0.9v0.9h-0.9zM424.0 625.5h0.9v0.9h-0.9zM487.4 592.3h0.9v0.9h-0.9zM548.6 646.5h0.9v0.9h-0.9zM478.2 591.4h0.9v0.9h-0.9zM443.3 660.9h0.9v0.9h-0.9zM450.7 593.8h0.9v0.9h-0.9zM528.3 646.1h0.9v0.9h-0.9zM440.3 608.7h0.9v0.9h-0.9zM441.2 641.6h0.9v0.9h-0.9zM538.4 629.7h0.9v0.9h-0.9zM493.7 609.6h0.9v0.9h-0.9zM452.3 622.4h0.9v0.9h-0.9zM428.6 607.1h0.9v0.9h-0.9zM516.3 632.2h0.9v0.9h-0.9zM530.9 646.7h0.9v0.9h-0.9zM448.1 589.4h0.9v0.9h-0.9zM445.3 656.3h0.9v0.9h-0.9zM509.2 594.8h0.9v0.9h-0.9zM479.5 628.8h0.9v0.9h-0.9zM515.9 614.3h0.9v0.9h-0.9zM486.9 650.2h0.9v0.9h-0.9zM459.2 609.4h0.9v0.9h-0.9zM497.3 636.1h0.9v0.9h-0.9zM476.9 629.9h0.9v0.9h-0.9zM431.5 656.8h0.9v0.9h-0.9zM483.8 610.5h0.9v0.9h-0.9zM453.6 600.8h0.9v0.9h-0.9zM538.1 594.8h0.9v0.9h-0.9zM509.7 634.6h0.9v0.9h-0.9zM476.4 607.8h0.9v0.9h-0.9zM461.7 639.0h0.9v0.9h-0.9zM513.3 644.9h0.9v0.9h-0.9zM531.5 599.7h0.9v0.9h-0.9zM524.0 649.5h0.9v0.9h-0.9zM460.1 625.5h0.9v0.9h-0.9zM443.1 656.8h0.9v0.9h-0.9zM457.4 648.3h0.9v0.9h-0.9zM480.9 613.0h0.9v0.9h-0.9zM466.0 589.0h0.9v0.9h-0.9zM542.3 614.9h0.9v0.9h-0.9zM456.7 634.9h0.9v0.9h-0.9zM433.5 627.2h0.9v0.9h-0.9zM437.0 646.3h0.9v0.9h-0.9zM423.8 654.3h0.9v0.9h-0.9zM418.8 611.4h0.9v0.9h-0.9zM538.0 655.3h0.9v0.9h-0.9zM548.3 629.5h0.9v0.9h-0.9zM450.2 619.9h0.9v0.9h-0.9zM486.8 615.8h0.9v0.9h-0.9zM421.9 597.8h0.9v0.9h-0.9zM419.3 638.2h0.9v0.9h-0.9zM448.8 611.9h0.9v0.9h-0.9zM445.7 651.2h0.9v0.9h-0.9zM505.7 592.7h0.9v0.9h-0.9zM528.5 632.3h0.9v0.9h-0.9zM481.7 653.7h0.9v0.9h-0.9zM537.9 638.7h0.9v0.9h-0.9zM463.9 614.2h0.9v0.9h-0.9zM447.7 626.7h0.9v0.9h-0.9zM422.1 653.3h0.9v0.9h-0.9zM474.5 603.2h0.9v0.9h-0.9zM543.4 614.4h0.9v0.9h-0.9zM454.8 646.0h0.9v0.9h-0.9zM424.1 622.5h0.9v0.9h-0.9zM502.4 615.2h0.9v0.9h-0.9zM482.4 638.7h0.9v0.9h-0.9zM522.2 641.0h0.9v0.9h-0.9zM473.0 600.5h0.9v0.9h-0.9zM508.7 613.0h0.9v0.9h-0.9zM537.8 640.2h0.9v0.9h-0.9zM498.5 640.8h0.9v0.9h-0.9zM515.3 612.5h0.9v0.9h-0.9zM452.6 594.5h0.9v0.9h-0.9zM483.5 619.8h0.9v0.9h-0.9zM494.0 597.4h0.9v0.9h-0.9zM514.5 614.5h0.9v0.9h-0.9zM448.2 642.4h0.9v0.9h-0.9zM494.6 611.1h0.9v0.9h-0.9zM500.9 618.8h0.9v0.9h-0.9zM508.1 617.2h0.9v0.9h-0.9zM488.4 657.3h0.9v0.9h-0.9zM462.8 617.4h0.9v0.9h-0.9zM483.8 644.1h0.9v0.9h-0.9zM537.5 632.3h0.9v0.9h-0.9zM424.3 589.1h0.9v0.9h-0.9zM452.0 625.0h0.9v0.9h-0.9zM491.9 638.3h0.9v0.9h-0.9zM526.6 596.0h0.9v0.9h-0.9zM532.3 649.9h0.9v0.9h-0.9zM510.6 616.5h0.9v0.9h-0.9zM518.9 640.8h0.9v0.9h-0.9zM547.1 601.9h0.9v0.9h-0.9zM514.3 617.2h0.9v0.9h-0.9zM474.5 654.3h0.9v0.9h-0.9zM538.9 608.1h0.9v0.9h-0.9zM509.8 602.5h0.9v0.9h-0.9zM440.1 607.2h0.9v0.9h-0.9zM456.4 607.6h0.9v0.9h-0.9zM433.1 621.0h0.9v0.9h-0.9zM480.3 653.6h0.9v0.9h-0.9zM474.6 591.3h0.9v0.9h-0.9z" fill="#6e5aa8" opacity="0.55"/><path d="M500.2 643.2h0.9v0.9h-0.9zM542.4 643.0h0.9v0.9h-0.9zM421.8 623.0h0.9v0.9h-0.9zM479.9 607.0h0.9v0.9h-0.9zM454.9 655.9h0.9v0.9h-0.9zM544.9 628.4h0.9v0.9h-0.9zM445.0 657.7h0.9v0.9h-0.9zM426.6 611.0h0.9v0.9h-0.9zM459.7 624.1h0.9v0.9h-0.9zM522.0 615.7h0.9v0.9h-0.9zM544.1 603.3h0.9v0.9h-0.9zM464.8 627.3h0.9v0.9h-0.9zM432.3 643.6h0.9v0.9h-0.9zM531.5 591.7h0.9v0.9h-0.9zM430.0 613.9h0.9v0.9h-0.9zM539.2 613.8h0.9v0.9h-0.9zM424.4 661.0h0.9v0.9h-0.9zM471.6 606.3h0.9v0.9h-0.9zM514.6 658.3h0.9v0.9h-0.9zM477.8 661.9h0.9v0.9h-0.9zM548.5 659.1h0.9v0.9h-0.9zM453.9 646.1h0.9v0.9h-0.9zM465.7 646.4h0.9v0.9h-0.9zM509.7 637.5h0.9v0.9h-0.9zM482.1 645.2h0.9v0.9h-0.9zM456.8 658.0h0.9v0.9h-0.9zM494.6 589.8h0.9v0.9h-0.9zM525.8 636.3h0.9v0.9h-0.9zM463.9 636.0h0.9v0.9h-0.9zM527.3 614.6h0.9v0.9h-0.9zM532.8 639.2h0.9v0.9h-0.9zM544.3 626.8h0.9v0.9h-0.9zM439.9 650.1h0.9v0.9h-0.9zM481.0 639.5h0.9v0.9h-0.9zM514.4 601.5h0.9v0.9h-0.9zM500.3 645.6h0.9v0.9h-0.9zM468.2 633.7h0.9v0.9h-0.9zM490.0 613.8h0.9v0.9h-0.9zM436.8 632.5h0.9v0.9h-0.9zM544.4 659.7h0.9v0.9h-0.9zM432.2 630.3h0.9v0.9h-0.9zM436.6 635.0h0.9v0.9h-0.9zM544.9 655.7h0.9v0.9h-0.9zM472.8 612.3h0.9v0.9h-0.9zM456.7 646.1h0.9v0.9h-0.9zM453.3 600.3h0.9v0.9h-0.9zM503.1 633.1h0.9v0.9h-0.9zM451.3 622.3h0.9v0.9h-0.9zM520.7 620.2h0.9v0.9h-0.9zM527.6 593.8h0.9v0.9h-0.9zM461.7 600.2h0.9v0.9h-0.9zM526.2 646.8h0.9v0.9h-0.9zM421.4 641.7h0.9v0.9h-0.9zM529.2 605.0h0.9v0.9h-0.9zM493.9 643.2h0.9v0.9h-0.9zM497.2 624.7h0.9v0.9h-0.9zM467.4 593.1h0.9v0.9h-0.9zM437.9 635.1h0.9v0.9h-0.9zM538.2 629.5h0.9v0.9h-0.9zM448.9 616.1h0.9v0.9h-0.9zM441.7 641.1h0.9v0.9h-0.9zM523.1 591.2h0.9v0.9h-0.9zM425.1 600.0h0.9v0.9h-0.9zM546.4 637.5h0.9v0.9h-0.9zM449.0 613.3h0.9v0.9h-0.9zM527.7 636.3h0.9v0.9h-0.9zM475.2 651.2h0.9v0.9h-0.9zM496.2 630.8h0.9v0.9h-0.9zM444.7 591.9h0.9v0.9h-0.9zM480.1 654.0h0.9v0.9h-0.9zM541.8 639.2h0.9v0.9h-0.9zM506.3 610.3h0.9v0.9h-0.9zM449.8 638.1h0.9v0.9h-0.9zM503.3 620.4h0.9v0.9h-0.9zM418.8 593.4h0.9v0.9h-0.9zM472.1 592.3h0.9v0.9h-0.9zM430.4 594.2h0.9v0.9h-0.9zM546.3 602.1h0.9v0.9h-0.9zM459.4 596.9h0.9v0.9h-0.9zM539.6 632.7h0.9v0.9h-0.9zM446.3 590.3h0.9v0.9h-0.9zM500.5 642.0h0.9v0.9h-0.9zM458.6 621.8h0.9v0.9h-0.9zM429.6 645.4h0.9v0.9h-0.9zM473.5 611.9h0.9v0.9h-0.9zM491.4 654.4h0.9v0.9h-0.9zM525.8 636.8h0.9v0.9h-0.9zM531.5 658.3h0.9v0.9h-0.9zM461.6 589.9h0.9v0.9h-0.9zM488.0 601.5h0.9v0.9h-0.9zM476.9 657.5h0.9v0.9h-0.9zM433.6 612.1h0.9v0.9h-0.9zM519.3 657.3h0.9v0.9h-0.9zM547.1 591.4h0.9v0.9h-0.9zM492.2 615.1h0.9v0.9h-0.9zM547.7 650.3h0.9v0.9h-0.9zM440.4 596.2h0.9v0.9h-0.9zM536.8 603.6h0.9v0.9h-0.9zM460.8 638.9h0.9v0.9h-0.9zM419.3 626.4h0.9v0.9h-0.9zM547.7 648.5h0.9v0.9h-0.9zM509.5 637.9h0.9v0.9h-0.9zM523.4 615.5h0.9v0.9h-0.9zM494.6 644.5h0.9v0.9h-0.9zM512.5 594.3h0.9v0.9h-0.9zM506.4 658.9h0.9v0.9h-0.9zM508.8 650.2h0.9v0.9h-0.9zM498.6 604.2h0.9v0.9h-0.9zM536.3 606.5h0.9v0.9h-0.9zM469.5 602.0h0.9v0.9h-0.9zM536.7 655.4h0.9v0.9h-0.9zM469.0 597.0h0.9v0.9h-0.9zM453.3 634.4h0.9v0.9h-0.9zM440.1 635.2h0.9v0.9h-0.9zM447.7 593.6h0.9v0.9h-0.9zM527.6 653.1h0.9v0.9h-0.9zM473.0 620.1h0.9v0.9h-0.9zM422.0 597.4h0.9v0.9h-0.9zM496.5 636.2h0.9v0.9h-0.9zM530.2 636.1h0.9v0.9h-0.9zM448.2 639.9h0.9v0.9h-0.9zM499.3 596.7h0.9v0.9h-0.9zM515.2 648.6h0.9v0.9h-0.9zM512.1 656.5h0.9v0.9h-0.9zM467.4 622.5h0.9v0.9h-0.9zM496.8 616.3h0.9v0.9h-0.9zM483.4 659.3h0.9v0.9h-0.9zM427.5 644.5h0.9v0.9h-0.9zM464.7 642.8h0.9v0.9h-0.9zM510.0 646.6h0.9v0.9h-0.9zM457.1 613.6h0.9v0.9h-0.9zM525.0 589.4h0.9v0.9h-0.9zM478.5 616.9h0.9v0.9h-0.9zM425.0 605.0h0.9v0.9h-0.9zM454.8 658.7h0.9v0.9h-0.9zM520.8 620.7h0.9v0.9h-0.9zM537.1 636.1h0.9v0.9h-0.9zM422.8 590.7h0.9v0.9h-0.9zM472.5 652.8h0.9v0.9h-0.9zM538.8 616.6h0.9v0.9h-0.9zM521.1 619.8h0.9v0.9h-0.9zM420.4 649.5h0.9v0.9h-0.9zM517.5 616.2h0.9v0.9h-0.9zM438.1 626.8h0.9v0.9h-0.9zM481.1 631.5h0.9v0.9h-0.9zM519.8 619.6h0.9v0.9h-0.9zM477.4 636.8h0.9v0.9h-0.9zM466.9 627.7h0.9v0.9h-0.9zM541.7 658.3h0.9v0.9h-0.9zM457.8 601.2h0.9v0.9h-0.9zM428.2 621.8h0.9v0.9h-0.9zM487.8 617.4h0.9v0.9h-0.9zM457.5 629.3h0.9v0.9h-0.9zM454.4 646.2h0.9v0.9h-0.9zM452.6 649.5h0.9v0.9h-0.9zM424.9 643.0h0.9v0.9h-0.9zM419.3 592.2h0.9v0.9h-0.9zM495.7 597.6h0.9v0.9h-0.9zM478.8 636.4h0.9v0.9h-0.9zM513.2 594.1h0.9v0.9h-0.9zM529.4 597.8h0.9v0.9h-0.9zM518.1 626.6h0.9v0.9h-0.9zM474.1 634.4h0.9v0.9h-0.9zM508.7 621.6h0.9v0.9h-0.9zM483.2 628.1h0.9v0.9h-0.9zM535.4 608.3h0.9v0.9h-0.9zM501.4 650.6h0.9v0.9h-0.9zM441.8 657.9h0.9v0.9h-0.9zM485.5 657.1h0.9v0.9h-0.9zM479.5 596.5h0.9v0.9h-0.9zM453.9 629.2h0.9v0.9h-0.9zM474.5 604.3h0.9v0.9h-0.9zM539.2 616.9h0.9v0.9h-0.9zM539.3 612.8h0.9v0.9h-0.9zM539.1 630.9h0.9v0.9h-0.9zM480.1 644.4h0.9v0.9h-0.9zM435.7 603.8h0.9v0.9h-0.9zM514.2 596.5h0.9v0.9h-0.9zM476.9 634.2h0.9v0.9h-0.9zM518.9 613.6h0.9v0.9h-0.9zM502.4 624.7h0.9v0.9h-0.9zM504.5 644.3h0.9v0.9h-0.9zM514.6 625.9h0.9v0.9h-0.9zM483.3 589.1h0.9v0.9h-0.9zM444.7 660.1h0.9v0.9h-0.9zM449.4 649.5h0.9v0.9h-0.9zM454.1 589.7h0.9v0.9h-0.9zM494.7 643.3h0.9v0.9h-0.9zM475.4 611.4h0.9v0.9h-0.9zM467.2 632.6h0.9v0.9h-0.9zM425.5 590.1h0.9v0.9h-0.9zM524.0 623.8h0.9v0.9h-0.9zM421.3 647.1h0.9v0.9h-0.9zM500.3 649.9h0.9v0.9h-0.9zM512.5 651.1h0.9v0.9h-0.9zM420.7 653.6h0.9v0.9h-0.9zM439.9 658.6h0.9v0.9h-0.9zM478.2 645.0h0.9v0.9h-0.9zM531.6 638.9h0.9v0.9h-0.9zM532.9 656.0h0.9v0.9h-0.9zM472.9 637.2h0.9v0.9h-0.9zM418.8 629.1h0.9v0.9h-0.9zM528.1 612.8h0.9v0.9h-0.9zM425.7 632.9h0.9v0.9h-0.9zM539.3 633.4h0.9v0.9h-0.9zM525.8 594.2h0.9v0.9h-0.9zM447.0 637.6h0.9v0.9h-0.9zM460.3 651.5h0.9v0.9h-0.9zM486.5 595.0h0.9v0.9h-0.9zM463.2 604.3h0.9v0.9h-0.9zM478.9 596.2h0.9v0.9h-0.9zM455.7 608.3h0.9v0.9h-0.9zM484.3 614.3h0.9v0.9h-0.9zM432.4 644.1h0.9v0.9h-0.9zM426.9 594.9h0.9v0.9h-0.9zM509.5 626.2h0.9v0.9h-0.9zM529.1 634.2h0.9v0.9h-0.9zM500.5 597.1h0.9v0.9h-0.9zM466.9 646.2h0.9v0.9h-0.9zM542.1 617.5h0.9v0.9h-0.9zM549.6 598.5h0.9v0.9h-0.9zM440.9 619.1h0.9v0.9h-0.9zM471.1 607.6h0.9v0.9h-0.9zM455.8 591.6h0.9v0.9h-0.9zM494.7 625.8h0.9v0.9h-0.9zM498.8 600.8h0.9v0.9h-0.9zM549.4 643.0h0.9v0.9h-0.9zM419.4 611.2h0.9v0.9h-0.9zM530.3 642.3h0.9v0.9h-0.9zM544.3 624.5h0.9v0.9h-0.9zM469.8 612.2h0.9v0.9h-0.9zM437.7 589.7h0.9v0.9h-0.9zM448.2 604.0h0.9v0.9h-0.9zM495.1 609.6h0.9v0.9h-0.9zM496.1 640.5h0.9v0.9h-0.9zM482.3 652.6h0.9v0.9h-0.9zM491.9 633.2h0.9v0.9h-0.9zM448.2 609.5h0.9v0.9h-0.9zM482.0 599.9h0.9v0.9h-0.9zM513.2 623.8h0.9v0.9h-0.9zM519.7 658.8h0.9v0.9h-0.9zM423.9 625.9h0.9v0.9h-0.9zM499.4 633.8h0.9v0.9h-0.9zM540.2 640.7h0.9v0.9h-0.9zM511.0 605.8h0.9v0.9h-0.9zM499.9 593.5h0.9v0.9h-0.9zM447.9 624.9h0.9v0.9h-0.9zM542.0 621.3h0.9v0.9h-0.9zM548.9 612.6h0.9v0.9h-0.9zM544.2 595.2h0.9v0.9h-0.9zM504.0 628.4h0.9v0.9h-0.9zM499.2 640.0h0.9v0.9h-0.9zM474.3 655.7h0.9v0.9h-0.9zM517.8 613.4h0.9v0.9h-0.9zM488.2 637.7h0.9v0.9h-0.9zM532.2 641.1h0.9v0.9h-0.9zM483.1 625.0h0.9v0.9h-0.9zM492.2 592.6h0.9v0.9h-0.9zM506.1 630.5h0.9v0.9h-0.9zM437.6 612.0h0.9v0.9h-0.9zM476.0 644.9h0.9v0.9h-0.9zM533.3 612.2h0.9v0.9h-0.9zM418.4 607.9h0.9v0.9h-0.9zM512.6 642.8h0.9v0.9h-0.9zM428.9 620.1h0.9v0.9h-0.9zM477.9 611.7h0.9v0.9h-0.9zM480.7 611.5h0.9v0.9h-0.9zM449.4 661.8h0.9v0.9h-0.9zM487.1 638.2h0.9v0.9h-0.9zM427.1 595.2h0.9v0.9h-0.9zM494.3 610.3h0.9v0.9h-0.9zM424.1 653.9h0.9v0.9h-0.9zM448.9 593.6h0.9v0.9h-0.9zM441.9 621.5h0.9v0.9h-0.9zM536.9 624.9h0.9v0.9h-0.9zM435.7 658.2h0.9v0.9h-0.9zM547.4 612.6h0.9v0.9h-0.9zM528.5 657.2h0.9v0.9h-0.9zM427.7 609.4h0.9v0.9h-0.9zM453.2 619.1h0.9v0.9h-0.9zM496.8 643.9h0.9v0.9h-0.9zM443.9 643.0h0.9v0.9h-0.9zM499.2 623.8h0.9v0.9h-0.9zM432.9 591.7h0.9v0.9h-0.9zM440.5 653.5h0.9v0.9h-0.9zM457.9 633.3h0.9v0.9h-0.9zM543.0 621.0h0.9v0.9h-0.9zM540.8 634.4h0.9v0.9h-0.9zM421.4 590.6h0.9v0.9h-0.9zM465.2 620.8h0.9v0.9h-0.9zM548.6 602.4h0.9v0.9h-0.9zM503.0 610.0h0.9v0.9h-0.9zM527.9 610.0h0.9v0.9h-0.9zM461.6 660.4h0.9v0.9h-0.9zM480.2 630.0h0.9v0.9h-0.9zM494.8 632.7h0.9v0.9h-0.9zM500.0 651.3h0.9v0.9h-0.9zM467.1 644.5h0.9v0.9h-0.9zM434.2 658.7h0.9v0.9h-0.9zM516.8 629.0h0.9v0.9h-0.9zM525.6 643.6h0.9v0.9h-0.9zM469.1 598.6h0.9v0.9h-0.9zM446.5 637.8h0.9v0.9h-0.9zM454.1 589.2h0.9v0.9h-0.9zM522.3 632.0h0.9v0.9h-0.9zM490.4 633.3h0.9v0.9h-0.9zM497.7 625.5h0.9v0.9h-0.9zM440.4 615.2h0.9v0.9h-0.9zM504.6 624.8h0.9v0.9h-0.9zM461.1 614.6h0.9v0.9h-0.9zM507.7 620.1h0.9v0.9h-0.9zM421.5 628.2h0.9v0.9h-0.9zM534.0 603.1h0.9v0.9h-0.9zM505.7 635.9h0.9v0.9h-0.9zM508.3 594.1h0.9v0.9h-0.9zM437.3 602.9h0.9v0.9h-0.9zM450.0 615.9h0.9v0.9h-0.9zM443.3 655.1h0.9v0.9h-0.9zM507.8 608.4h0.9v0.9h-0.9zM498.5 658.8h0.9v0.9h-0.9zM437.7 603.8h0.9v0.9h-0.9zM494.8 627.5h0.9v0.9h-0.9zM494.1 635.6h0.9v0.9h-0.9zM536.0 633.5h0.9v0.9h-0.9zM453.7 615.6h0.9v0.9h-0.9zM479.1 604.3h0.9v0.9h-0.9zM508.3 608.9h0.9v0.9h-0.9zM444.9 605.2h0.9v0.9h-0.9zM432.0 612.1h0.9v0.9h-0.9zM465.8 650.0h0.9v0.9h-0.9zM439.9 638.6h0.9v0.9h-0.9zM487.0 607.6h0.9v0.9h-0.9zM453.2 651.5h0.9v0.9h-0.9zM540.7 605.6h0.9v0.9h-0.9zM489.4 607.9h0.9v0.9h-0.9zM466.5 653.5h0.9v0.9h-0.9zM473.1 616.0h0.9v0.9h-0.9z" fill="#eee8f4" opacity="0.5"/></g>
<path d="M517 651 Q524 647 532 650 Q528 656 520 659 Z" fill="#fff"/>
<path d="M546 640 L550.5 636 L550.5 652 L547 648 Z" fill="#fff"/>
<path d="M448 598 Q452 604 450 610" fill="none" stroke="#fff" stroke-width="1.5" opacity="0.9"/>
<path d="M521 593 L522 600 M530 598 Q534 600 536 597" fill="none" stroke="#7a6ab8" stroke-width="0.9"/>
</g>
<defs><clipPath id="cDTt"><path d="M418.0 607.0 L421.0 602.0 L427.0 598.5 L440.0 597.0 L448.0 594.0 L452.0 593.5 L458.0 595.5 L465.0 597.0 L470.0 600.0 L478.0 606.0 L483.0 611.0 L486.0 617.0 L490.0 620.0 L495.0 621.5 L500.0 622.0 L505.0 620.5 L510.0 618.0 L515.0 614.5 L520.0 611.0 L525.0 609.0 L530.0 607.0 L535.0 605.0 L540.0 603.0 L545.0 600.0 L550.5 596.0 L550.5 662 L418 662 Z"/></clipPath></defs>
<rect x="447.20" y="624.40" width="34.40" height="19.00" fill="none" stroke="#333" stroke-width="1.4"/>
<line x1="533.8" y1="659.7" x2="547.8" y2="659.7" stroke="#231f20" stroke-width="1.8"/>
<text x="538.5" y="657.3" font-size="6.8" text-anchor="middle" fill="#222" stroke="#fff" stroke-width="0.6" paint-order="stroke">200μm</text>
<g clip-path="url(#cDB)">
<rect x="418.00" y="664.60" width="132.20" height="69.50" fill="#d0aab4"/>
<path d="M418 690 Q440 680 458 684 L472 700 Q490 688 510 682 Q530 680 550.5 686 L550.5 712 L418 716 Z" fill="#c98f60" opacity="0.5" filter="url(#sb2)"/>
<path d="M417.5 690.3a1.15 1.15 0 1 0 2.30 0a1.15 1.15 0 1 0 -2.30 0zM542.7 702.5a1.06 1.06 0 1 0 2.12 0a1.06 1.06 0 1 0 -2.12 0zM496.5 719.6a1.11 1.11 0 1 0 2.21 0a1.11 1.11 0 1 0 -2.21 0zM477.6 691.9a1.17 1.17 0 1 0 2.35 0a1.17 1.17 0 1 0 -2.35 0zM489.9 697.5a0.89 0.89 0 1 0 1.78 0a0.89 0.89 0 1 0 -1.78 0zM504.5 691.5a1.17 1.17 0 1 0 2.35 0a1.17 1.17 0 1 0 -2.35 0zM548.8 719.4a1.18 1.18 0 1 0 2.36 0a1.18 1.18 0 1 0 -2.36 0zM422.8 668.6a0.90 0.90 0 1 0 1.81 0a0.90 0.90 0 1 0 -1.81 0zM526.3 695.3a0.87 0.87 0 1 0 1.73 0a0.87 0.87 0 1 0 -1.73 0zM430.5 678.4a0.81 0.81 0 1 0 1.61 0a0.81 0.81 0 1 0 -1.61 0zM436.1 705.6a0.84 0.84 0 1 0 1.67 0a0.84 0.84 0 1 0 -1.67 0zM439.2 698.7a0.81 0.81 0 1 0 1.62 0a0.81 0.81 0 1 0 -1.62 0zM526.9 700.4a1.14 1.14 0 1 0 2.29 0a1.14 1.14 0 1 0 -2.29 0zM513.0 704.8a0.87 0.87 0 1 0 1.74 0a0.87 0.87 0 1 0 -1.74 0zM472.9 685.5a0.93 0.93 0 1 0 1.85 0a0.93 0.93 0 1 0 -1.85 0zM537.3 688.6a1.11 1.11 0 1 0 2.22 0a1.11 1.11 0 1 0 -2.22 0zM500.4 669.1a0.84 0.84 0 1 0 1.69 0a0.84 0.84 0 1 0 -1.69 0zM493.4 708.0a0.85 0.85 0 1 0 1.71 0a0.85 0.85 0 1 0 -1.71 0zM450.0 685.3a0.96 0.96 0 1 0 1.91 0a0.96 0.96 0 1 0 -1.91 0zM472.4 715.5a1.02 1.02 0 1 0 2.05 0a1.02 1.02 0 1 0 -2.05 0zM453.7 683.5a0.98 0.98 0 1 0 1.96 0a0.98 0.98 0 1 0 -1.96 0zM438.4 686.2a0.78 0.78 0 1 0 1.56 0a0.78 0.78 0 1 0 -1.56 0zM503.5 712.3a1.15 1.15 0 1 0 2.31 0a1.15 1.15 0 1 0 -2.31 0zM495.8 685.8a1.00 1.00 0 1 0 2.00 0a1.00 1.00 0 1 0 -2.00 0zM490.3 674.3a0.99 0.99 0 1 0 1.99 0a0.99 0.99 0 1 0 -1.99 0zM482.7 675.5a0.95 0.95 0 1 0 1.90 0a0.95 0.95 0 1 0 -1.90 0zM527.5 699.9a0.90 0.90 0 1 0 1.80 0a0.90 0.90 0 1 0 -1.80 0zM448.5 699.3a1.00 1.00 0 1 0 2.00 0a1.00 1.00 0 1 0 -2.00 0zM456.4 690.5a0.93 0.93 0 1 0 1.87 0a0.93 0.93 0 1 0 -1.87 0zM499.9 712.9a0.92 0.92 0 1 0 1.84 0a0.92 0.92 0 1 0 -1.84 0zM488.0 695.5a1.05 1.05 0 1 0 2.10 0a1.05 1.05 0 1 0 -2.10 0zM449.0 678.2a1.17 1.17 0 1 0 2.33 0a1.17 1.17 0 1 0 -2.33 0zM436.3 702.1a0.87 0.87 0 1 0 1.73 0a0.87 0.87 0 1 0 -1.73 0zM482.0 689.4a0.86 0.86 0 1 0 1.72 0a0.86 0.86 0 1 0 -1.72 0zM440.5 717.3a0.77 0.77 0 1 0 1.53 0a0.77 0.77 0 1 0 -1.53 0zM435.9 705.2a0.92 0.92 0 1 0 1.83 0a0.92 0.92 0 1 0 -1.83 0zM442.6 707.3a1.19 1.19 0 1 0 2.38 0a1.19 1.19 0 1 0 -2.38 0zM444.5 703.5a0.93 0.93 0 1 0 1.86 0a0.93 0.93 0 1 0 -1.86 0zM548.5 697.4a1.15 1.15 0 1 0 2.31 0a1.15 1.15 0 1 0 -2.31 0zM504.6 671.8a0.95 0.95 0 1 0 1.90 0a0.95 0.95 0 1 0 -1.90 0zM510.3 673.0a0.79 0.79 0 1 0 1.58 0a0.79 0.79 0 1 0 -1.58 0zM547.8 715.4a1.04 1.04 0 1 0 2.09 0a1.04 1.04 0 1 0 -2.09 0zM425.2 703.2a1.19 1.19 0 1 0 2.39 0a1.19 1.19 0 1 0 -2.39 0zM520.3 703.9a0.95 0.95 0 1 0 1.90 0a0.95 0.95 0 1 0 -1.90 0zM500.5 715.6a0.97 0.97 0 1 0 1.95 0a0.97 0.97 0 1 0 -1.95 0zM426.7 672.6a1.18 1.18 0 1 0 2.36 0a1.18 1.18 0 1 0 -2.36 0zM510.8 716.0a0.82 0.82 0 1 0 1.63 0a0.82 0.82 0 1 0 -1.63 0zM431.0 702.2a0.94 0.94 0 1 0 1.89 0a0.94 0.94 0 1 0 -1.89 0zM478.0 677.4a1.09 1.09 0 1 0 2.19 0a1.09 1.09 0 1 0 -2.19 0zM520.2 704.5a0.94 0.94 0 1 0 1.89 0a0.94 0.94 0 1 0 -1.89 0zM481.8 686.4a0.96 0.96 0 1 0 1.92 0a0.96 0.96 0 1 0 -1.92 0zM459.8 690.4a1.18 1.18 0 1 0 2.37 0a1.18 1.18 0 1 0 -2.37 0zM522.8 672.0a1.05 1.05 0 1 0 2.10 0a1.05 1.05 0 1 0 -2.10 0zM525.1 683.6a1.15 1.15 0 1 0 2.30 0a1.15 1.15 0 1 0 -2.30 0zM541.1 668.5a1.03 1.03 0 1 0 2.06 0a1.03 1.03 0 1 0 -2.06 0zM467.3 690.3a1.00 1.00 0 1 0 1.99 0a1.00 1.00 0 1 0 -1.99 0zM530.3 699.3a1.15 1.15 0 1 0 2.30 0a1.15 1.15 0 1 0 -2.30 0zM449.9 708.4a0.93 0.93 0 1 0 1.85 0a0.93 0.93 0 1 0 -1.85 0zM441.1 708.8a1.01 1.01 0 1 0 2.02 0a1.01 1.01 0 1 0 -2.02 0zM446.8 713.7a0.97 0.97 0 1 0 1.94 0a0.97 0.97 0 1 0 -1.94 0zM506.1 718.8a0.90 0.90 0 1 0 1.79 0a0.90 0.90 0 1 0 -1.79 0zM488.9 694.7a0.88 0.88 0 1 0 1.76 0a0.88 0.88 0 1 0 -1.76 0zM487.4 717.7a1.06 1.06 0 1 0 2.13 0a1.06 1.06 0 1 0 -2.13 0zM452.0 702.2a1.03 1.03 0 1 0 2.05 0a1.03 1.03 0 1 0 -2.05 0zM465.8 701.5a0.92 0.92 0 1 0 1.84 0a0.92 0.92 0 1 0 -1.84 0zM520.0 685.9a1.12 1.12 0 1 0 2.24 0a1.12 1.12 0 1 0 -2.24 0zM456.3 674.0a0.90 0.90 0 1 0 1.80 0a0.90 0.90 0 1 0 -1.80 0zM433.4 712.7a1.20 1.20 0 1 0 2.40 0a1.20 1.20 0 1 0 -2.40 0zM471.8 677.8a1.15 1.15 0 1 0 2.29 0a1.15 1.15 0 1 0 -2.29 0zM529.5 678.0a0.89 0.89 0 1 0 1.77 0a0.89 0.89 0 1 0 -1.77 0zM482.8 671.9a0.84 0.84 0 1 0 1.69 0a0.84 0.84 0 1 0 -1.69 0zM469.6 671.2a0.81 0.81 0 1 0 1.63 0a0.81 0.81 0 1 0 -1.63 0zM496.7 681.1a1.16 1.16 0 1 0 2.32 0a1.16 1.16 0 1 0 -2.32 0zM544.0 701.5a0.87 0.87 0 1 0 1.75 0a0.87 0.87 0 1 0 -1.75 0zM517.1 683.2a1.14 1.14 0 1 0 2.28 0a1.14 1.14 0 1 0 -2.28 0zM472.8 702.6a1.09 1.09 0 1 0 2.18 0a1.09 1.09 0 1 0 -2.18 0zM509.8 706.0a0.90 0.90 0 1 0 1.81 0a0.90 0.90 0 1 0 -1.81 0zM436.9 684.9a1.18 1.18 0 1 0 2.36 0a1.18 1.18 0 1 0 -2.36 0zM422.0 680.1a0.89 0.89 0 1 0 1.78 0a0.89 0.89 0 1 0 -1.78 0zM475.3 712.5a0.83 0.83 0 1 0 1.65 0a0.83 0.83 0 1 0 -1.65 0zM430.9 665.6a0.90 0.90 0 1 0 1.81 0a0.90 0.90 0 1 0 -1.81 0zM512.9 689.5a1.04 1.04 0 1 0 2.08 0a1.04 1.04 0 1 0 -2.08 0zM484.8 684.4a0.93 0.93 0 1 0 1.87 0a0.93 0.93 0 1 0 -1.87 0zM422.3 717.0a1.08 1.08 0 1 0 2.16 0a1.08 1.08 0 1 0 -2.16 0zM429.8 675.8a1.10 1.10 0 1 0 2.20 0a1.10 1.10 0 1 0 -2.20 0zM483.9 705.8a1.09 1.09 0 1 0 2.18 0a1.09 1.09 0 1 0 -2.18 0zM436.4 709.8a0.84 0.84 0 1 0 1.68 0a0.84 0.84 0 1 0 -1.68 0zM435.1 705.7a1.12 1.12 0 1 0 2.23 0a1.12 1.12 0 1 0 -2.23 0zM456.9 685.8a1.08 1.08 0 1 0 2.16 0a1.08 1.08 0 1 0 -2.16 0zM455.6 689.1a1.20 1.20 0 1 0 2.39 0a1.20 1.20 0 1 0 -2.39 0zM434.0 716.5a1.15 1.15 0 1 0 2.30 0a1.15 1.15 0 1 0 -2.30 0zM548.7 678.1a0.84 0.84 0 1 0 1.68 0a0.84 0.84 0 1 0 -1.68 0zM474.6 674.0a1.17 1.17 0 1 0 2.33 0a1.17 1.17 0 1 0 -2.33 0zM492.4 710.9a0.97 0.97 0 1 0 1.94 0a0.97 0.97 0 1 0 -1.94 0zM483.0 717.2a0.81 0.81 0 1 0 1.61 0a0.81 0.81 0 1 0 -1.61 0zM446.8 711.7a1.02 1.02 0 1 0 2.03 0a1.02 1.02 0 1 0 -2.03 0zM520.1 719.3a1.10 1.10 0 1 0 2.19 0a1.10 1.10 0 1 0 -2.19 0zM497.5 705.9a0.99 0.99 0 1 0 1.98 0a0.99 0.99 0 1 0 -1.98 0zM445.7 682.5a1.17 1.17 0 1 0 2.33 0a1.17 1.17 0 1 0 -2.33 0zM486.5 666.4a1.04 1.04 0 1 0 2.08 0a1.04 1.04 0 1 0 -2.08 0zM548.2 699.0a0.97 0.97 0 1 0 1.94 0a0.97 0.97 0 1 0 -1.94 0zM477.2 699.3a1.03 1.03 0 1 0 2.05 0a1.03 1.03 0 1 0 -2.05 0zM481.3 714.3a1.15 1.15 0 1 0 2.30 0a1.15 1.15 0 1 0 -2.30 0zM520.2 704.5a1.07 1.07 0 1 0 2.15 0a1.07 1.07 0 1 0 -2.15 0zM443.2 691.6a0.87 0.87 0 1 0 1.74 0a0.87 0.87 0 1 0 -1.74 0zM444.2 716.9a0.85 0.85 0 1 0 1.71 0a0.85 0.85 0 1 0 -1.71 0zM524.6 710.5a0.93 0.93 0 1 0 1.86 0a0.93 0.93 0 1 0 -1.86 0zM420.2 674.4a1.04 1.04 0 1 0 2.08 0a1.04 1.04 0 1 0 -2.08 0zM510.6 684.1a1.02 1.02 0 1 0 2.04 0a1.02 1.02 0 1 0 -2.04 0zM438.4 700.8a1.10 1.10 0 1 0 2.20 0a1.10 1.10 0 1 0 -2.20 0zM520.3 695.6a1.01 1.01 0 1 0 2.02 0a1.01 1.01 0 1 0 -2.02 0zM417.3 679.3a0.93 0.93 0 1 0 1.87 0a0.93 0.93 0 1 0 -1.87 0zM426.4 668.6a1.18 1.18 0 1 0 2.36 0a1.18 1.18 0 1 0 -2.36 0zM507.2 695.5a1.06 1.06 0 1 0 2.12 0a1.06 1.06 0 1 0 -2.12 0zM531.7 699.5a0.94 0.94 0 1 0 1.88 0a0.94 0.94 0 1 0 -1.88 0zM468.6 718.0a1.18 1.18 0 1 0 2.36 0a1.18 1.18 0 1 0 -2.36 0zM437.0 709.6a1.04 1.04 0 1 0 2.08 0a1.04 1.04 0 1 0 -2.08 0zM462.5 702.8a0.87 0.87 0 1 0 1.75 0a0.87 0.87 0 1 0 -1.75 0zM515.4 695.3a1.01 1.01 0 1 0 2.03 0a1.01 1.01 0 1 0 -2.03 0zM424.3 714.3a1.18 1.18 0 1 0 2.36 0a1.18 1.18 0 1 0 -2.36 0zM517.4 680.7a1.08 1.08 0 1 0 2.15 0a1.08 1.08 0 1 0 -2.15 0zM432.5 694.7a0.91 0.91 0 1 0 1.81 0a0.91 0.91 0 1 0 -1.81 0zM479.4 680.5a0.78 0.78 0 1 0 1.56 0a0.78 0.78 0 1 0 -1.56 0zM474.6 677.7a0.83 0.83 0 1 0 1.66 0a0.83 0.83 0 1 0 -1.66 0zM461.0 671.4a0.76 0.76 0 1 0 1.52 0a0.76 0.76 0 1 0 -1.52 0zM545.4 667.6a1.15 1.15 0 1 0 2.30 0a1.15 1.15 0 1 0 -2.30 0zM472.5 671.2a0.94 0.94 0 1 0 1.89 0a0.94 0.94 0 1 0 -1.89 0zM484.0 667.7a0.99 0.99 0 1 0 1.99 0a0.99 0.99 0 1 0 -1.99 0zM417.9 681.0a1.07 1.07 0 1 0 2.14 0a1.07 1.07 0 1 0 -2.14 0zM528.5 674.4a0.93 0.93 0 1 0 1.87 0a0.93 0.93 0 1 0 -1.87 0zM542.3 681.9a0.80 0.80 0 1 0 1.61 0a0.80 0.80 0 1 0 -1.61 0zM449.7 712.2a0.91 0.91 0 1 0 1.81 0a0.91 0.91 0 1 0 -1.81 0zM504.8 716.2a1.03 1.03 0 1 0 2.06 0a1.03 1.03 0 1 0 -2.06 0zM443.2 691.0a0.90 0.90 0 1 0 1.79 0a0.90 0.90 0 1 0 -1.79 0zM480.1 698.4a1.19 1.19 0 1 0 2.38 0a1.19 1.19 0 1 0 -2.38 0zM507.8 692.6a1.11 1.11 0 1 0 2.23 0a1.11 1.11 0 1 0 -2.23 0zM483.9 675.2a1.05 1.05 0 1 0 2.10 0a1.05 1.05 0 1 0 -2.10 0zM452.8 676.3a0.92 0.92 0 1 0 1.85 0a0.92 0.92 0 1 0 -1.85 0zM481.1 666.4a0.91 0.91 0 1 0 1.82 0a0.91 0.91 0 1 0 -1.82 0zM543.9 692.6a0.92 0.92 0 1 0 1.83 0a0.92 0.92 0 1 0 -1.83 0zM477.3 703.0a0.98 0.98 0 1 0 1.95 0a0.98 0.98 0 1 0 -1.95 0zM470.6 696.5a0.87 0.87 0 1 0 1.75 0a0.87 0.87 0 1 0 -1.75 0zM507.0 687.9a1.07 1.07 0 1 0 2.13 0a1.07 1.07 0 1 0 -2.13 0zM463.1 699.7a0.84 0.84 0 1 0 1.68 0a0.84 0.84 0 1 0 -1.68 0zM481.3 691.7a0.76 0.76 0 1 0 1.51 0a0.76 0.76 0 1 0 -1.51 0zM433.6 689.9a1.09 1.09 0 1 0 2.19 0a1.09 1.09 0 1 0 -2.19 0zM524.0 711.0a1.11 1.11 0 1 0 2.23 0a1.11 1.11 0 1 0 -2.23 0zM544.8 675.4a0.82 0.82 0 1 0 1.64 0a0.82 0.82 0 1 0 -1.64 0zM435.5 708.2a0.84 0.84 0 1 0 1.67 0a0.84 0.84 0 1 0 -1.67 0zM458.7 672.2a1.16 1.16 0 1 0 2.32 0a1.16 1.16 0 1 0 -2.32 0zM444.6 677.6a1.02 1.02 0 1 0 2.03 0a1.02 1.02 0 1 0 -2.03 0zM509.8 666.7a1.01 1.01 0 1 0 2.02 0a1.01 1.01 0 1 0 -2.02 0zM487.0 695.1a0.98 0.98 0 1 0 1.96 0a0.98 0.98 0 1 0 -1.96 0zM522.2 709.8a1.14 1.14 0 1 0 2.27 0a1.14 1.14 0 1 0 -2.27 0zM460.7 666.9a0.96 0.96 0 1 0 1.92 0a0.96 0.96 0 1 0 -1.92 0zM420.5 699.6a0.97 0.97 0 1 0 1.93 0a0.97 0.97 0 1 0 -1.93 0zM515.5 710.4a1.08 1.08 0 1 0 2.16 0a1.08 1.08 0 1 0 -2.16 0zM508.5 682.9a1.08 1.08 0 1 0 2.15 0a1.08 1.08 0 1 0 -2.15 0zM501.3 676.6a1.14 1.14 0 1 0 2.28 0a1.14 1.14 0 1 0 -2.28 0zM479.6 693.8a0.84 0.84 0 1 0 1.68 0a0.84 0.84 0 1 0 -1.68 0zM526.6 690.7a1.08 1.08 0 1 0 2.17 0a1.08 1.08 0 1 0 -2.17 0zM528.2 693.1a1.01 1.01 0 1 0 2.03 0a1.01 1.01 0 1 0 -2.03 0zM478.1 677.7a1.11 1.11 0 1 0 2.22 0a1.11 1.11 0 1 0 -2.22 0zM538.8 666.5a0.76 0.76 0 1 0 1.53 0a0.76 0.76 0 1 0 -1.53 0zM479.1 669.0a0.95 0.95 0 1 0 1.89 0a0.95 0.95 0 1 0 -1.89 0zM462.0 677.8a1.10 1.10 0 1 0 2.20 0a1.10 1.10 0 1 0 -2.20 0zM493.9 715.3a0.84 0.84 0 1 0 1.67 0a0.84 0.84 0 1 0 -1.67 0zM467.1 698.5a1.10 1.10 0 1 0 2.20 0a1.10 1.10 0 1 0 -2.20 0zM473.6 674.8a0.92 0.92 0 1 0 1.85 0a0.92 0.92 0 1 0 -1.85 0zM491.9 717.8a1.04 1.04 0 1 0 2.09 0a1.04 1.04 0 1 0 -2.09 0zM528.5 710.5a0.94 0.94 0 1 0 1.89 0a0.94 0.94 0 1 0 -1.89 0zM483.7 710.4a1.08 1.08 0 1 0 2.15 0a1.08 1.08 0 1 0 -2.15 0zM469.7 675.0a1.08 1.08 0 1 0 2.16 0a1.08 1.08 0 1 0 -2.16 0zM455.7 679.2a0.86 0.86 0 1 0 1.73 0a0.86 0.86 0 1 0 -1.73 0zM507.5 700.2a1.17 1.17 0 1 0 2.34 0a1.17 1.17 0 1 0 -2.34 0zM494.7 691.2a1.15 1.15 0 1 0 2.30 0a1.15 1.15 0 1 0 -2.30 0zM435.1 697.0a1.19 1.19 0 1 0 2.39 0a1.19 1.19 0 1 0 -2.39 0zM461.2 673.0a0.80 0.80 0 1 0 1.60 0a0.80 0.80 0 1 0 -1.60 0zM420.7 704.9a0.94 0.94 0 1 0 1.87 0a0.94 0.94 0 1 0 -1.87 0zM525.6 710.5a0.76 0.76 0 1 0 1.52 0a0.76 0.76 0 1 0 -1.52 0zM457.6 679.1a0.87 0.87 0 1 0 1.74 0a0.87 0.87 0 1 0 -1.74 0zM420.9 678.6a0.90 0.90 0 1 0 1.81 0a0.90 0.90 0 1 0 -1.81 0zM476.5 693.8a1.19 1.19 0 1 0 2.39 0a1.19 1.19 0 1 0 -2.39 0zM431.1 672.0a1.16 1.16 0 1 0 2.31 0a1.16 1.16 0 1 0 -2.31 0zM455.1 694.2a0.89 0.89 0 1 0 1.77 0a0.89 0.89 0 1 0 -1.77 0zM535.2 716.0a1.01 1.01 0 1 0 2.01 0a1.01 1.01 0 1 0 -2.01 0zM429.3 685.0a1.07 1.07 0 1 0 2.13 0a1.07 1.07 0 1 0 -2.13 0zM491.8 680.0a0.93 0.93 0 1 0 1.86 0a0.93 0.93 0 1 0 -1.86 0zM425.0 686.8a1.12 1.12 0 1 0 2.24 0a1.12 1.12 0 1 0 -2.24 0zM468.3 690.2a0.83 0.83 0 1 0 1.65 0a0.83 0.83 0 1 0 -1.65 0zM511.1 687.5a0.92 0.92 0 1 0 1.85 0a0.92 0.92 0 1 0 -1.85 0zM519.3 680.9a0.78 0.78 0 1 0 1.57 0a0.78 0.78 0 1 0 -1.57 0zM502.0 705.2a0.77 0.77 0 1 0 1.55 0a0.77 0.77 0 1 0 -1.55 0zM462.6 713.3a0.98 0.98 0 1 0 1.96 0a0.98 0.98 0 1 0 -1.96 0zM470.9 671.8a0.88 0.88 0 1 0 1.76 0a0.88 0.88 0 1 0 -1.76 0zM494.4 714.9a1.05 1.05 0 1 0 2.10 0a1.05 1.05 0 1 0 -2.10 0zM545.1 687.0a0.78 0.78 0 1 0 1.56 0a0.78 0.78 0 1 0 -1.56 0zM462.2 684.8a0.78 0.78 0 1 0 1.55 0a0.78 0.78 0 1 0 -1.55 0zM427.6 714.7a1.15 1.15 0 1 0 2.31 0a1.15 1.15 0 1 0 -2.31 0zM434.4 669.1a1.19 1.19 0 1 0 2.38 0a1.19 1.19 0 1 0 -2.38 0zM439.2 681.2a0.85 0.85 0 1 0 1.70 0a0.85 0.85 0 1 0 -1.70 0zM444.6 666.3a0.96 0.96 0 1 0 1.92 0a0.96 0.96 0 1 0 -1.92 0zM519.4 668.5a0.97 0.97 0 1 0 1.94 0a0.97 0.97 0 1 0 -1.94 0zM434.3 707.9a1.16 1.16 0 1 0 2.31 0a1.16 1.16 0 1 0 -2.31 0zM532.7 693.9a0.81 0.81 0 1 0 1.63 0a0.81 0.81 0 1 0 -1.63 0zM511.6 668.4a1.10 1.10 0 1 0 2.20 0a1.10 1.10 0 1 0 -2.20 0zM456.7 713.7a0.88 0.88 0 1 0 1.76 0a0.88 0.88 0 1 0 -1.76 0zM514.8 691.8a0.86 0.86 0 1 0 1.72 0a0.86 0.86 0 1 0 -1.72 0zM482.0 688.3a0.82 0.82 0 1 0 1.64 0a0.82 0.82 0 1 0 -1.64 0zM489.1 693.9a1.06 1.06 0 1 0 2.13 0a1.06 1.06 0 1 0 -2.13 0zM462.0 698.4a0.84 0.84 0 1 0 1.68 0a0.84 0.84 0 1 0 -1.68 0zM485.8 677.8a1.10 1.10 0 1 0 2.21 0a1.10 1.10 0 1 0 -2.21 0zM442.4 680.6a0.78 0.78 0 1 0 1.56 0a0.78 0.78 0 1 0 -1.56 0zM456.6 694.4a0.85 0.85 0 1 0 1.71 0a0.85 0.85 0 1 0 -1.71 0zM433.1 713.7a0.89 0.89 0 1 0 1.78 0a0.89 0.89 0 1 0 -1.78 0zM445.4 686.6a1.13 1.13 0 1 0 2.26 0a1.13 1.13 0 1 0 -2.26 0zM515.6 714.2a1.00 1.00 0 1 0 1.99 0a1.00 1.00 0 1 0 -1.99 0zM461.4 692.2a0.78 0.78 0 1 0 1.55 0a0.78 0.78 0 1 0 -1.55 0zM506.9 710.7a1.16 1.16 0 1 0 2.32 0a1.16 1.16 0 1 0 -2.32 0zM526.5 700.2a1.11 1.11 0 1 0 2.22 0a1.11 1.11 0 1 0 -2.22 0zM455.6 695.5a0.82 0.82 0 1 0 1.65 0a0.82 0.82 0 1 0 -1.65 0zM540.8 692.8a0.83 0.83 0 1 0 1.66 0a0.83 0.83 0 1 0 -1.66 0zM547.1 698.7a0.85 0.85 0 1 0 1.69 0a0.85 0.85 0 1 0 -1.69 0zM528.6 699.0a1.03 1.03 0 1 0 2.06 0a1.03 1.03 0 1 0 -2.06 0zM533.0 682.0a0.87 0.87 0 1 0 1.75 0a0.87 0.87 0 1 0 -1.75 0zM492.2 675.8a1.06 1.06 0 1 0 2.13 0a1.06 1.06 0 1 0 -2.13 0zM480.2 675.6a0.81 0.81 0 1 0 1.61 0a0.81 0.81 0 1 0 -1.61 0zM438.2 696.3a1.16 1.16 0 1 0 2.32 0a1.16 1.16 0 1 0 -2.32 0zM522.2 711.3a1.01 1.01 0 1 0 2.01 0a1.01 1.01 0 1 0 -2.01 0zM522.8 682.8a0.92 0.92 0 1 0 1.83 0a0.92 0.92 0 1 0 -1.83 0zM536.2 678.8a1.03 1.03 0 1 0 2.06 0a1.03 1.03 0 1 0 -2.06 0zM491.9 667.5a1.00 1.00 0 1 0 2.01 0a1.00 1.00 0 1 0 -2.01 0zM522.3 713.5a0.94 0.94 0 1 0 1.88 0a0.94 0.94 0 1 0 -1.88 0zM535.5 666.7a1.16 1.16 0 1 0 2.32 0a1.16 1.16 0 1 0 -2.32 0zM506.9 709.2a0.95 0.95 0 1 0 1.90 0a0.95 0.95 0 1 0 -1.90 0zM494.7 710.0a0.85 0.85 0 1 0 1.70 0a0.85 0.85 0 1 0 -1.70 0zM441.1 706.0a1.14 1.14 0 1 0 2.29 0a1.14 1.14 0 1 0 -2.29 0zM447.1 694.7a0.98 0.98 0 1 0 1.96 0a0.98 0.98 0 1 0 -1.96 0zM458.2 711.0a0.88 0.88 0 1 0 1.75 0a0.88 0.88 0 1 0 -1.75 0zM520.1 687.3a0.82 0.82 0 1 0 1.63 0a0.82 0.82 0 1 0 -1.63 0zM544.2 672.7a0.80 0.80 0 1 0 1.59 0a0.80 0.80 0 1 0 -1.59 0zM421.1 683.9a0.76 0.76 0 1 0 1.52 0a0.76 0.76 0 1 0 -1.52 0zM437.6 716.4a0.86 0.86 0 1 0 1.73 0a0.86 0.86 0 1 0 -1.73 0zM511.7 676.3a0.76 0.76 0 1 0 1.51 0a0.76 0.76 0 1 0 -1.51 0zM417.8 671.3a1.18 1.18 0 1 0 2.36 0a1.18 1.18 0 1 0 -2.36 0zM477.5 678.3a0.77 0.77 0 1 0 1.54 0a0.77 0.77 0 1 0 -1.54 0zM501.8 682.0a0.83 0.83 0 1 0 1.66 0a0.83 0.83 0 1 0 -1.66 0zM474.8 703.7a0.90 0.90 0 1 0 1.81 0a0.90 0.90 0 1 0 -1.81 0zM491.1 675.0a1.00 1.00 0 1 0 2.00 0a1.00 1.00 0 1 0 -2.00 0zM422.4 715.3a1.17 1.17 0 1 0 2.34 0a1.17 1.17 0 1 0 -2.34 0zM493.1 690.7a0.93 0.93 0 1 0 1.86 0a0.93 0.93 0 1 0 -1.86 0zM515.8 696.4a1.07 1.07 0 1 0 2.14 0a1.07 1.07 0 1 0 -2.14 0zM475.4 686.6a1.08 1.08 0 1 0 2.15 0a1.08 1.08 0 1 0 -2.15 0zM441.0 683.4a0.86 0.86 0 1 0 1.72 0a0.86 0.86 0 1 0 -1.72 0zM444.3 712.1a0.89 0.89 0 1 0 1.78 0a0.89 0.89 0 1 0 -1.78 0zM514.1 667.3a1.17 1.17 0 1 0 2.33 0a1.17 1.17 0 1 0 -2.33 0zM479.1 705.5a0.80 0.80 0 1 0 1.60 0a0.80 0.80 0 1 0 -1.60 0zM496.8 709.2a0.88 0.88 0 1 0 1.76 0a0.88 0.88 0 1 0 -1.76 0zM429.2 685.7a1.10 1.10 0 1 0 2.19 0a1.10 1.10 0 1 0 -2.19 0zM517.7 668.1a0.90 0.90 0 1 0 1.79 0a0.90 0.90 0 1 0 -1.79 0zM538.1 680.5a0.79 0.79 0 1 0 1.58 0a0.79 0.79 0 1 0 -1.58 0zM531.7 709.7a0.95 0.95 0 1 0 1.90 0a0.95 0.95 0 1 0 -1.90 0zM508.9 705.9a1.13 1.13 0 1 0 2.25 0a1.13 1.13 0 1 0 -2.25 0zM441.8 704.8a1.17 1.17 0 1 0 2.33 0a1.17 1.17 0 1 0 -2.33 0zM521.2 693.3a0.93 0.93 0 1 0 1.85 0a0.93 0.93 0 1 0 -1.85 0zM546.2 719.2a1.11 1.11 0 1 0 2.22 0a1.11 1.11 0 1 0 -2.22 0zM483.7 713.7a1.14 1.14 0 1 0 2.29 0a1.14 1.14 0 1 0 -2.29 0zM483.6 671.9a1.03 1.03 0 1 0 2.05 0a1.03 1.03 0 1 0 -2.05 0zM434.8 683.0a1.01 1.01 0 1 0 2.01 0a1.01 1.01 0 1 0 -2.01 0zM483.1 700.0a1.12 1.12 0 1 0 2.24 0a1.12 1.12 0 1 0 -2.24 0zM542.0 681.7a1.18 1.18 0 1 0 2.36 0a1.18 1.18 0 1 0 -2.36 0zM459.5 683.8a1.09 1.09 0 1 0 2.18 0a1.09 1.09 0 1 0 -2.18 0zM545.7 692.5a1.11 1.11 0 1 0 2.22 0a1.11 1.11 0 1 0 -2.22 0zM526.0 681.9a1.03 1.03 0 1 0 2.06 0a1.03 1.03 0 1 0 -2.06 0zM541.1 665.7a0.81 0.81 0 1 0 1.61 0a0.81 0.81 0 1 0 -1.61 0zM532.2 695.7a0.94 0.94 0 1 0 1.88 0a0.94 0.94 0 1 0 -1.88 0zM521.9 689.0a0.81 0.81 0 1 0 1.63 0a0.81 0.81 0 1 0 -1.63 0zM463.2 706.4a1.04 1.04 0 1 0 2.08 0a1.04 1.04 0 1 0 -2.08 0zM482.2 665.2a1.20 1.20 0 1 0 2.40 0a1.20 1.20 0 1 0 -2.40 0zM427.3 679.9a1.11 1.11 0 1 0 2.21 0a1.11 1.11 0 1 0 -2.21 0zM540.9 702.4a0.92 0.92 0 1 0 1.84 0a0.92 0.92 0 1 0 -1.84 0zM515.5 701.3a1.01 1.01 0 1 0 2.02 0a1.01 1.01 0 1 0 -2.02 0zM520.7 695.0a0.99 0.99 0 1 0 1.98 0a0.99 0.99 0 1 0 -1.98 0zM451.3 707.4a0.80 0.80 0 1 0 1.60 0a0.80 0.80 0 1 0 -1.60 0zM429.8 699.2a0.77 0.77 0 1 0 1.54 0a0.77 0.77 0 1 0 -1.54 0zM532.5 675.2a0.96 0.96 0 1 0 1.92 0a0.96 0.96 0 1 0 -1.92 0zM451.3 691.1a1.03 1.03 0 1 0 2.05 0a1.03 1.03 0 1 0 -2.05 0zM442.8 694.5a1.19 1.19 0 1 0 2.38 0a1.19 1.19 0 1 0 -2.38 0zM436.9 676.6a0.84 0.84 0 1 0 1.68 0a0.84 0.84 0 1 0 -1.68 0zM430.9 665.3a1.18 1.18 0 1 0 2.36 0a1.18 1.18 0 1 0 -2.36 0zM544.0 666.8a1.12 1.12 0 1 0 2.25 0a1.12 1.12 0 1 0 -2.25 0zM493.3 676.0a1.15 1.15 0 1 0 2.29 0a1.15 1.15 0 1 0 -2.29 0zM432.3 699.8a1.05 1.05 0 1 0 2.11 0a1.05 1.05 0 1 0 -2.11 0zM509.4 677.6a0.82 0.82 0 1 0 1.63 0a0.82 0.82 0 1 0 -1.63 0zM500.3 680.8a1.02 1.02 0 1 0 2.04 0a1.02 1.02 0 1 0 -2.04 0zM514.5 666.4a1.08 1.08 0 1 0 2.15 0a1.08 1.08 0 1 0 -2.15 0zM546.2 686.8a1.01 1.01 0 1 0 2.02 0a1.01 1.01 0 1 0 -2.02 0zM460.7 713.0a0.85 0.85 0 1 0 1.70 0a0.85 0.85 0 1 0 -1.70 0zM430.2 692.3a0.95 0.95 0 1 0 1.90 0a0.95 0.95 0 1 0 -1.90 0zM492.1 675.8a1.17 1.17 0 1 0 2.34 0a1.17 1.17 0 1 0 -2.34 0zM487.5 686.0a1.09 1.09 0 1 0 2.17 0a1.09 1.09 0 1 0 -2.17 0zM422.0 715.3a1.13 1.13 0 1 0 2.25 0a1.13 1.13 0 1 0 -2.25 0zM451.1 689.5a0.77 0.77 0 1 0 1.54 0a0.77 0.77 0 1 0 -1.54 0zM521.6 718.1a1.02 1.02 0 1 0 2.04 0a1.02 1.02 0 1 0 -2.04 0zM546.0 690.6a1.14 1.14 0 1 0 2.28 0a1.14 1.14 0 1 0 -2.28 0zM528.4 715.5a0.96 0.96 0 1 0 1.91 0a0.96 0.96 0 1 0 -1.91 0zM484.0 666.5a1.18 1.18 0 1 0 2.36 0a1.18 1.18 0 1 0 -2.36 0zM428.6 696.6a1.02 1.02 0 1 0 2.04 0a1.02 1.02 0 1 0 -2.04 0zM440.1 683.9a0.88 0.88 0 1 0 1.77 0a0.88 0.88 0 1 0 -1.77 0zM418.3 686.6a0.92 0.92 0 1 0 1.84 0a0.92 0.92 0 1 0 -1.84 0zM511.6 703.1a1.18 1.18 0 1 0 2.35 0a1.18 1.18 0 1 0 -2.35 0zM531.9 678.7a1.02 1.02 0 1 0 2.05 0a1.02 1.02 0 1 0 -2.05 0zM508.6 708.0a0.81 0.81 0 1 0 1.63 0a0.81 0.81 0 1 0 -1.63 0zM461.0 698.4a0.89 0.89 0 1 0 1.78 0a0.89 0.89 0 1 0 -1.78 0zM537.8 687.4a1.07 1.07 0 1 0 2.14 0a1.07 1.07 0 1 0 -2.14 0zM425.8 714.0a1.19 1.19 0 1 0 2.38 0a1.19 1.19 0 1 0 -2.38 0zM544.3 683.4a1.13 1.13 0 1 0 2.25 0a1.13 1.13 0 1 0 -2.25 0zM547.0 670.5a0.78 0.78 0 1 0 1.57 0a0.78 0.78 0 1 0 -1.57 0zM504.9 719.0a0.76 0.76 0 1 0 1.53 0a0.76 0.76 0 1 0 -1.53 0zM527.6 700.9a0.96 0.96 0 1 0 1.93 0a0.96 0.96 0 1 0 -1.93 0zM435.9 692.5a0.97 0.97 0 1 0 1.95 0a0.97 0.97 0 1 0 -1.95 0zM443.5 714.1a1.08 1.08 0 1 0 2.17 0a1.08 1.08 0 1 0 -2.17 0zM438.9 698.8a1.02 1.02 0 1 0 2.04 0a1.02 1.02 0 1 0 -2.04 0zM540.7 718.6a1.15 1.15 0 1 0 2.30 0a1.15 1.15 0 1 0 -2.30 0zM424.4 687.8a0.82 0.82 0 1 0 1.64 0a0.82 0.82 0 1 0 -1.64 0zM516.0 669.1a1.12 1.12 0 1 0 2.25 0a1.12 1.12 0 1 0 -2.25 0zM498.1 699.9a1.18 1.18 0 1 0 2.35 0a1.18 1.18 0 1 0 -2.35 0zM531.7 704.9a1.03 1.03 0 1 0 2.07 0a1.03 1.03 0 1 0 -2.07 0zM489.4 693.1a0.76 0.76 0 1 0 1.53 0a0.76 0.76 0 1 0 -1.53 0zM442.9 702.5a0.94 0.94 0 1 0 1.87 0a0.94 0.94 0 1 0 -1.87 0zM476.6 711.1a0.92 0.92 0 1 0 1.85 0a0.92 0.92 0 1 0 -1.85 0zM513.0 708.8a1.12 1.12 0 1 0 2.25 0a1.12 1.12 0 1 0 -2.25 0zM448.0 698.0a0.96 0.96 0 1 0 1.92 0a0.96 0.96 0 1 0 -1.92 0zM494.7 669.3a0.84 0.84 0 1 0 1.67 0a0.84 0.84 0 1 0 -1.67 0zM449.3 707.7a1.10 1.10 0 1 0 2.20 0a1.10 1.10 0 1 0 -2.20 0zM467.6 697.9a0.95 0.95 0 1 0 1.90 0a0.95 0.95 0 1 0 -1.90 0zM488.0 679.3a0.90 0.90 0 1 0 1.81 0a0.90 0.90 0 1 0 -1.81 0zM543.6 713.3a0.80 0.80 0 1 0 1.61 0a0.80 0.80 0 1 0 -1.61 0zM432.7 712.2a0.95 0.95 0 1 0 1.90 0a0.95 0.95 0 1 0 -1.90 0zM501.5 697.8a1.02 1.02 0 1 0 2.04 0a1.02 1.02 0 1 0 -2.04 0zM536.5 673.0a1.14 1.14 0 1 0 2.27 0a1.14 1.14 0 1 0 -2.27 0zM451.4 668.8a0.88 0.88 0 1 0 1.77 0a0.88 0.88 0 1 0 -1.77 0zM485.0 708.7a1.01 1.01 0 1 0 2.02 0a1.01 1.01 0 1 0 -2.02 0zM545.1 675.0a0.92 0.92 0 1 0 1.84 0a0.92 0.92 0 1 0 -1.84 0zM492.7 697.1a1.06 1.06 0 1 0 2.13 0a1.06 1.06 0 1 0 -2.13 0zM483.7 670.1a1.10 1.10 0 1 0 2.20 0a1.10 1.10 0 1 0 -2.20 0zM521.7 668.5a1.12 1.12 0 1 0 2.23 0a1.12 1.12 0 1 0 -2.23 0zM417.7 702.2a1.03 1.03 0 1 0 2.06 0a1.03 1.03 0 1 0 -2.06 0zM456.4 669.5a0.87 0.87 0 1 0 1.73 0a0.87 0.87 0 1 0 -1.73 0zM499.4 694.0a1.12 1.12 0 1 0 2.23 0a1.12 1.12 0 1 0 -2.23 0zM439.8 698.7a0.89 0.89 0 1 0 1.77 0a0.89 0.89 0 1 0 -1.77 0zM422.8 674.9a0.80 0.80 0 1 0 1.60 0a0.80 0.80 0 1 0 -1.60 0zM437.8 666.7a1.19 1.19 0 1 0 2.38 0a1.19 1.19 0 1 0 -2.38 0zM464.6 706.3a0.94 0.94 0 1 0 1.88 0a0.94 0.94 0 1 0 -1.88 0zM484.3 678.4a1.18 1.18 0 1 0 2.35 0a1.18 1.18 0 1 0 -2.35 0zM444.8 717.4a1.10 1.10 0 1 0 2.20 0a1.10 1.10 0 1 0 -2.20 0zM530.8 669.9a1.19 1.19 0 1 0 2.39 0a1.19 1.19 0 1 0 -2.39 0zM503.2 696.5a1.01 1.01 0 1 0 2.01 0a1.01 1.01 0 1 0 -2.01 0zM475.6 717.0a1.19 1.19 0 1 0 2.38 0a1.19 1.19 0 1 0 -2.38 0zM542.7 672.4a0.99 0.99 0 1 0 1.98 0a0.99 0.99 0 1 0 -1.98 0zM509.3 674.7a1.15 1.15 0 1 0 2.30 0a1.15 1.15 0 1 0 -2.30 0zM516.4 671.2a0.88 0.88 0 1 0 1.77 0a0.88 0.88 0 1 0 -1.77 0zM506.7 713.1a1.20 1.20 0 1 0 2.40 0a1.20 1.20 0 1 0 -2.40 0zM453.4 710.6a1.01 1.01 0 1 0 2.03 0a1.01 1.01 0 1 0 -2.03 0zM465.0 677.8a0.80 0.80 0 1 0 1.60 0a0.80 0.80 0 1 0 -1.60 0zM421.8 688.3a0.80 0.80 0 1 0 1.61 0a0.80 0.80 0 1 0 -1.61 0zM444.1 682.3a0.81 0.81 0 1 0 1.62 0a0.81 0.81 0 1 0 -1.62 0zM443.4 678.7a1.19 1.19 0 1 0 2.38 0a1.19 1.19 0 1 0 -2.38 0zM473.0 698.6a0.99 0.99 0 1 0 1.99 0a0.99 0.99 0 1 0 -1.99 0zM543.5 710.0a1.17 1.17 0 1 0 2.33 0a1.17 1.17 0 1 0 -2.33 0zM531.9 705.2a1.14 1.14 0 1 0 2.29 0a1.14 1.14 0 1 0 -2.29 0zM460.9 698.0a0.90 0.90 0 1 0 1.80 0a0.90 0.90 0 1 0 -1.80 0zM539.0 679.3a1.20 1.20 0 1 0 2.40 0a1.20 1.20 0 1 0 -2.40 0zM448.1 683.3a1.08 1.08 0 1 0 2.17 0a1.08 1.08 0 1 0 -2.17 0zM492.7 676.4a0.81 0.81 0 1 0 1.61 0a0.81 0.81 0 1 0 -1.61 0zM532.6 676.0a0.98 0.98 0 1 0 1.96 0a0.98 0.98 0 1 0 -1.96 0zM527.6 691.3a0.96 0.96 0 1 0 1.93 0a0.96 0.96 0 1 0 -1.93 0zM438.6 716.1a1.02 1.02 0 1 0 2.04 0a1.02 1.02 0 1 0 -2.04 0zM505.1 686.2a1.07 1.07 0 1 0 2.14 0a1.07 1.07 0 1 0 -2.14 0zM467.1 674.4a0.91 0.91 0 1 0 1.82 0a0.91 0.91 0 1 0 -1.82 0zM517.6 712.1a0.98 0.98 0 1 0 1.96 0a0.98 0.98 0 1 0 -1.96 0zM504.0 716.0a1.04 1.04 0 1 0 2.09 0a1.04 1.04 0 1 0 -2.09 0zM545.7 678.5a1.14 1.14 0 1 0 2.29 0a1.14 1.14 0 1 0 -2.29 0zM516.1 696.0a1.02 1.02 0 1 0 2.03 0a1.02 1.02 0 1 0 -2.03 0zM439.4 665.5a0.76 0.76 0 1 0 1.53 0a0.76 0.76 0 1 0 -1.53 0zM534.6 686.5a1.02 1.02 0 1 0 2.04 0a1.02 1.02 0 1 0 -2.04 0zM475.3 712.9a1.08 1.08 0 1 0 2.16 0a1.08 1.08 0 1 0 -2.16 0zM466.5 699.7a0.85 0.85 0 1 0 1.69 0a0.85 0.85 0 1 0 -1.69 0zM541.3 673.4a1.16 1.16 0 1 0 2.32 0a1.16 1.16 0 1 0 -2.32 0zM487.6 672.7a1.19 1.19 0 1 0 2.39 0a1.19 1.19 0 1 0 -2.39 0zM443.4 701.9a0.87 0.87 0 1 0 1.73 0a0.87 0.87 0 1 0 -1.73 0zM434.5 708.1a1.15 1.15 0 1 0 2.30 0a1.15 1.15 0 1 0 -2.30 0zM534.7 701.6a1.04 1.04 0 1 0 2.08 0a1.04 1.04 0 1 0 -2.08 0zM437.8 719.5a0.90 0.90 0 1 0 1.79 0a0.90 0.90 0 1 0 -1.79 0zM501.4 666.0a0.89 0.89 0 1 0 1.78 0a0.89 0.89 0 1 0 -1.78 0zM486.1 690.7a0.94 0.94 0 1 0 1.87 0a0.94 0.94 0 1 0 -1.87 0zM467.5 665.6a1.04 1.04 0 1 0 2.08 0a1.04 1.04 0 1 0 -2.08 0zM463.9 670.8a0.92 0.92 0 1 0 1.83 0a0.92 0.92 0 1 0 -1.83 0zM505.5 705.5a0.94 0.94 0 1 0 1.87 0a0.94 0.94 0 1 0 -1.87 0zM432.3 699.0a1.02 1.02 0 1 0 2.04 0a1.02 1.02 0 1 0 -2.04 0zM480.9 717.9a0.91 0.91 0 1 0 1.83 0a0.91 0.91 0 1 0 -1.83 0zM486.2 666.3a0.81 0.81 0 1 0 1.62 0a0.81 0.81 0 1 0 -1.62 0zM442.8 674.9a0.83 0.83 0 1 0 1.66 0a0.83 0.83 0 1 0 -1.66 0zM431.3 715.2a1.01 1.01 0 1 0 2.03 0a1.01 1.01 0 1 0 -2.03 0zM481.8 695.5a0.88 0.88 0 1 0 1.75 0a0.88 0.88 0 1 0 -1.75 0zM531.4 705.1a0.94 0.94 0 1 0 1.88 0a0.94 0.94 0 1 0 -1.88 0zM420.1 664.6a0.77 0.77 0 1 0 1.53 0a0.77 0.77 0 1 0 -1.53 0zM512.9 666.3a0.95 0.95 0 1 0 1.90 0a0.95 0.95 0 1 0 -1.90 0zM485.5 685.0a0.88 0.88 0 1 0 1.77 0a0.88 0.88 0 1 0 -1.77 0zM541.0 717.1a1.09 1.09 0 1 0 2.18 0a1.09 1.09 0 1 0 -2.18 0zM487.8 717.0a1.07 1.07 0 1 0 2.13 0a1.07 1.07 0 1 0 -2.13 0zM447.7 672.3a0.82 0.82 0 1 0 1.63 0a0.82 0.82 0 1 0 -1.63 0zM430.7 686.0a1.02 1.02 0 1 0 2.05 0a1.02 1.02 0 1 0 -2.05 0zM444.6 669.1a0.90 0.90 0 1 0 1.80 0a0.90 0.90 0 1 0 -1.80 0zM477.3 713.0a1.15 1.15 0 1 0 2.30 0a1.15 1.15 0 1 0 -2.30 0zM525.4 678.9a1.12 1.12 0 1 0 2.24 0a1.12 1.12 0 1 0 -2.24 0zM454.1 696.8a0.99 0.99 0 1 0 1.98 0a0.99 0.99 0 1 0 -1.98 0zM447.9 694.3a0.87 0.87 0 1 0 1.74 0a0.87 0.87 0 1 0 -1.74 0zM522.0 677.5a1.10 1.10 0 1 0 2.20 0a1.10 1.10 0 1 0 -2.20 0zM441.9 665.1a0.95 0.95 0 1 0 1.90 0a0.95 0.95 0 1 0 -1.90 0zM533.5 699.5a0.86 0.86 0 1 0 1.73 0a0.86 0.86 0 1 0 -1.73 0zM483.7 682.8a1.05 1.05 0 1 0 2.10 0a1.05 1.05 0 1 0 -2.10 0zM454.8 673.8a1.20 1.20 0 1 0 2.40 0a1.20 1.20 0 1 0 -2.40 0zM422.2 672.1a0.89 0.89 0 1 0 1.79 0a0.89 0.89 0 1 0 -1.79 0zM460.9 695.1a0.97 0.97 0 1 0 1.95 0a0.97 0.97 0 1 0 -1.95 0zM437.4 710.2a1.07 1.07 0 1 0 2.14 0a1.07 1.07 0 1 0 -2.14 0zM441.3 673.9a0.80 0.80 0 1 0 1.60 0a0.80 0.80 0 1 0 -1.60 0zM484.4 699.6a1.07 1.07 0 1 0 2.15 0a1.07 1.07 0 1 0 -2.15 0zM448.3 712.2a1.16 1.16 0 1 0 2.31 0a1.16 1.16 0 1 0 -2.31 0zM479.6 671.2a0.83 0.83 0 1 0 1.66 0a0.83 0.83 0 1 0 -1.66 0zM512.0 668.2a1.03 1.03 0 1 0 2.06 0a1.03 1.03 0 1 0 -2.06 0zM511.7 665.7a0.82 0.82 0 1 0 1.63 0a0.82 0.82 0 1 0 -1.63 0zM448.7 688.7a1.13 1.13 0 1 0 2.27 0a1.13 1.13 0 1 0 -2.27 0zM522.7 686.0a0.76 0.76 0 1 0 1.51 0a0.76 0.76 0 1 0 -1.51 0zM488.5 675.3a0.88 0.88 0 1 0 1.76 0a0.88 0.88 0 1 0 -1.76 0zM540.1 680.4a0.93 0.93 0 1 0 1.86 0a0.93 0.93 0 1 0 -1.86 0zM506.0 715.9a0.78 0.78 0 1 0 1.56 0a0.78 0.78 0 1 0 -1.56 0zM495.0 701.0a0.81 0.81 0 1 0 1.61 0a0.81 0.81 0 1 0 -1.61 0zM430.6 682.9a0.90 0.90 0 1 0 1.80 0a0.90 0.90 0 1 0 -1.80 0zM509.1 717.9a1.05 1.05 0 1 0 2.10 0a1.05 1.05 0 1 0 -2.10 0zM473.6 719.4a1.17 1.17 0 1 0 2.34 0a1.17 1.17 0 1 0 -2.34 0zM475.1 690.5a0.98 0.98 0 1 0 1.97 0a0.98 0.98 0 1 0 -1.97 0zM430.8 700.0a1.07 1.07 0 1 0 2.14 0a1.07 1.07 0 1 0 -2.14 0zM479.6 696.7a1.16 1.16 0 1 0 2.32 0a1.16 1.16 0 1 0 -2.32 0zM498.9 702.5a1.15 1.15 0 1 0 2.29 0a1.15 1.15 0 1 0 -2.29 0zM513.7 689.8a1.18 1.18 0 1 0 2.36 0a1.18 1.18 0 1 0 -2.36 0zM541.7 669.0a1.20 1.20 0 1 0 2.40 0a1.20 1.20 0 1 0 -2.40 0zM439.0 713.0a1.04 1.04 0 1 0 2.08 0a1.04 1.04 0 1 0 -2.08 0zM520.2 683.6a0.88 0.88 0 1 0 1.76 0a0.88 0.88 0 1 0 -1.76 0zM440.5 671.3a0.80 0.80 0 1 0 1.60 0a0.80 0.80 0 1 0 -1.60 0zM439.4 709.7a0.99 0.99 0 1 0 1.98 0a0.99 0.99 0 1 0 -1.98 0zM530.4 718.9a0.95 0.95 0 1 0 1.90 0a0.95 0.95 0 1 0 -1.90 0zM440.5 713.9a0.80 0.80 0 1 0 1.60 0a0.80 0.80 0 1 0 -1.60 0zM485.0 711.1a0.81 0.81 0 1 0 1.61 0a0.81 0.81 0 1 0 -1.61 0zM452.6 700.4a0.79 0.79 0 1 0 1.59 0a0.79 0.79 0 1 0 -1.59 0zM531.2 705.7a1.00 1.00 0 1 0 2.00 0a1.00 1.00 0 1 0 -2.00 0zM519.5 672.3a1.13 1.13 0 1 0 2.26 0a1.13 1.13 0 1 0 -2.26 0zM488.0 685.7a1.12 1.12 0 1 0 2.23 0a1.12 1.12 0 1 0 -2.23 0zM477.3 667.0a1.06 1.06 0 1 0 2.13 0a1.06 1.06 0 1 0 -2.13 0zM422.0 695.5a0.85 0.85 0 1 0 1.70 0a0.85 0.85 0 1 0 -1.70 0zM471.2 687.7a1.06 1.06 0 1 0 2.13 0a1.06 1.06 0 1 0 -2.13 0zM501.3 684.0a0.85 0.85 0 1 0 1.71 0a0.85 0.85 0 1 0 -1.71 0zM519.7 668.2a1.01 1.01 0 1 0 2.03 0a1.01 1.01 0 1 0 -2.03 0zM513.2 699.2a0.76 0.76 0 1 0 1.52 0a0.76 0.76 0 1 0 -1.52 0zM427.8 699.9a1.10 1.10 0 1 0 2.21 0a1.10 1.10 0 1 0 -2.21 0zM500.5 718.8a1.07 1.07 0 1 0 2.13 0a1.07 1.07 0 1 0 -2.13 0zM473.4 717.2a0.86 0.86 0 1 0 1.71 0a0.86 0.86 0 1 0 -1.71 0zM431.9 686.1a0.76 0.76 0 1 0 1.53 0a0.76 0.76 0 1 0 -1.53 0zM492.1 694.0a0.83 0.83 0 1 0 1.67 0a0.83 0.83 0 1 0 -1.67 0zM497.5 690.4a1.06 1.06 0 1 0 2.13 0a1.06 1.06 0 1 0 -2.13 0zM521.3 708.5a1.06 1.06 0 1 0 2.12 0a1.06 1.06 0 1 0 -2.12 0zM430.1 696.2a1.05 1.05 0 1 0 2.10 0a1.05 1.05 0 1 0 -2.10 0zM442.8 685.0a0.98 0.98 0 1 0 1.97 0a0.98 0.98 0 1 0 -1.97 0zM452.9 669.1a0.88 0.88 0 1 0 1.76 0a0.88 0.88 0 1 0 -1.76 0zM471.4 707.1a1.19 1.19 0 1 0 2.39 0a1.19 1.19 0 1 0 -2.39 0zM528.5 713.7a1.19 1.19 0 1 0 2.38 0a1.19 1.19 0 1 0 -2.38 0zM484.8 698.6a0.76 0.76 0 1 0 1.53 0a0.76 0.76 0 1 0 -1.53 0zM512.2 710.6a0.91 0.91 0 1 0 1.81 0a0.91 0.91 0 1 0 -1.81 0zM497.3 669.9a1.17 1.17 0 1 0 2.34 0a1.17 1.17 0 1 0 -2.34 0zM473.7 689.8a0.85 0.85 0 1 0 1.70 0a0.85 0.85 0 1 0 -1.70 0zM532.0 717.0a0.94 0.94 0 1 0 1.87 0a0.94 0.94 0 1 0 -1.87 0zM486.0 680.4a1.07 1.07 0 1 0 2.13 0a1.07 1.07 0 1 0 -2.13 0zM499.0 711.1a0.76 0.76 0 1 0 1.52 0a0.76 0.76 0 1 0 -1.52 0zM483.8 717.9a0.76 0.76 0 1 0 1.52 0a0.76 0.76 0 1 0 -1.52 0zM499.7 685.3a0.80 0.80 0 1 0 1.60 0a0.80 0.80 0 1 0 -1.60 0zM456.8 717.6a0.85 0.85 0 1 0 1.69 0a0.85 0.85 0 1 0 -1.69 0zM479.9 712.3a0.80 0.80 0 1 0 1.60 0a0.80 0.80 0 1 0 -1.60 0zM419.9 697.8a1.03 1.03 0 1 0 2.06 0a1.03 1.03 0 1 0 -2.06 0zM421.9 710.7a1.10 1.10 0 1 0 2.19 0a1.10 1.10 0 1 0 -2.19 0zM495.5 678.0a1.17 1.17 0 1 0 2.33 0a1.17 1.17 0 1 0 -2.33 0zM446.1 719.6a1.00 1.00 0 1 0 2.00 0a1.00 1.00 0 1 0 -2.00 0zM536.9 694.6a1.02 1.02 0 1 0 2.05 0a1.02 1.02 0 1 0 -2.05 0zM541.4 688.7a0.89 0.89 0 1 0 1.78 0a0.89 0.89 0 1 0 -1.78 0zM544.9 719.3a0.81 0.81 0 1 0 1.61 0a0.81 0.81 0 1 0 -1.61 0zM530.5 706.5a0.84 0.84 0 1 0 1.69 0a0.84 0.84 0 1 0 -1.69 0zM447.7 667.8a1.13 1.13 0 1 0 2.25 0a1.13 1.13 0 1 0 -2.25 0zM427.6 710.6a1.11 1.11 0 1 0 2.22 0a1.11 1.11 0 1 0 -2.22 0zM547.1 670.8a1.11 1.11 0 1 0 2.23 0a1.11 1.11 0 1 0 -2.23 0zM427.8 670.7a1.13 1.13 0 1 0 2.26 0a1.13 1.13 0 1 0 -2.26 0zM435.4 705.1a1.19 1.19 0 1 0 2.39 0a1.19 1.19 0 1 0 -2.39 0zM480.6 687.8a1.15 1.15 0 1 0 2.31 0a1.15 1.15 0 1 0 -2.31 0zM501.0 718.7a1.06 1.06 0 1 0 2.12 0a1.06 1.06 0 1 0 -2.12 0zM475.7 667.1a1.15 1.15 0 1 0 2.30 0a1.15 1.15 0 1 0 -2.30 0zM516.5 672.2a1.06 1.06 0 1 0 2.12 0a1.06 1.06 0 1 0 -2.12 0zM452.8 688.8a0.82 0.82 0 1 0 1.64 0a0.82 0.82 0 1 0 -1.64 0zM427.8 690.3a1.07 1.07 0 1 0 2.14 0a1.07 1.07 0 1 0 -2.14 0zM510.7 711.4a1.16 1.16 0 1 0 2.32 0a1.16 1.16 0 1 0 -2.32 0zM515.3 678.3a1.10 1.10 0 1 0 2.20 0a1.10 1.10 0 1 0 -2.20 0zM514.1 671.0a0.76 0.76 0 1 0 1.51 0a0.76 0.76 0 1 0 -1.51 0zM537.2 674.1a1.14 1.14 0 1 0 2.28 0a1.14 1.14 0 1 0 -2.28 0zM542.0 687.7a0.99 0.99 0 1 0 1.98 0a0.99 0.99 0 1 0 -1.98 0zM426.5 668.8a1.13 1.13 0 1 0 2.27 0a1.13 1.13 0 1 0 -2.27 0zM499.4 678.8a0.84 0.84 0 1 0 1.67 0a0.84 0.84 0 1 0 -1.67 0zM427.2 706.7a0.87 0.87 0 1 0 1.74 0a0.87 0.87 0 1 0 -1.74 0zM424.2 709.9a0.89 0.89 0 1 0 1.78 0a0.89 0.89 0 1 0 -1.78 0zM439.4 695.7a0.92 0.92 0 1 0 1.83 0a0.92 0.92 0 1 0 -1.83 0zM486.4 689.8a0.99 0.99 0 1 0 1.99 0a0.99 0.99 0 1 0 -1.99 0zM452.0 692.2a1.18 1.18 0 1 0 2.36 0a1.18 1.18 0 1 0 -2.36 0zM444.9 687.6a0.96 0.96 0 1 0 1.92 0a0.96 0.96 0 1 0 -1.92 0zM476.4 683.4a1.03 1.03 0 1 0 2.07 0a1.03 1.03 0 1 0 -2.07 0zM540.2 672.9a0.95 0.95 0 1 0 1.90 0a0.95 0.95 0 1 0 -1.90 0zM546.3 664.6a1.06 1.06 0 1 0 2.12 0a1.06 1.06 0 1 0 -2.12 0zM465.5 692.4a1.08 1.08 0 1 0 2.15 0a1.08 1.08 0 1 0 -2.15 0zM450.8 668.2a1.04 1.04 0 1 0 2.08 0a1.04 1.04 0 1 0 -2.08 0zM547.2 689.6a1.17 1.17 0 1 0 2.34 0a1.17 1.17 0 1 0 -2.34 0zM484.8 702.0a1.05 1.05 0 1 0 2.10 0a1.05 1.05 0 1 0 -2.10 0zM518.2 700.4a1.06 1.06 0 1 0 2.12 0a1.06 1.06 0 1 0 -2.12 0zM510.8 678.5a1.15 1.15 0 1 0 2.29 0a1.15 1.15 0 1 0 -2.29 0zM497.4 692.2a1.03 1.03 0 1 0 2.07 0a1.03 1.03 0 1 0 -2.07 0zM462.3 677.8a1.16 1.16 0 1 0 2.32 0a1.16 1.16 0 1 0 -2.32 0zM445.0 684.3a1.02 1.02 0 1 0 2.03 0a1.02 1.02 0 1 0 -2.03 0zM482.7 669.7a0.87 0.87 0 1 0 1.74 0a0.87 0.87 0 1 0 -1.74 0zM518.2 672.2a0.97 0.97 0 1 0 1.93 0a0.97 0.97 0 1 0 -1.93 0zM431.3 668.8a1.19 1.19 0 1 0 2.38 0a1.19 1.19 0 1 0 -2.38 0zM475.3 690.3a0.78 0.78 0 1 0 1.57 0a0.78 0.78 0 1 0 -1.57 0zM438.0 693.0a1.17 1.17 0 1 0 2.34 0a1.17 1.17 0 1 0 -2.34 0zM540.8 686.6a0.98 0.98 0 1 0 1.96 0a0.98 0.98 0 1 0 -1.96 0zM446.3 710.5a0.81 0.81 0 1 0 1.62 0a0.81 0.81 0 1 0 -1.62 0zM457.3 675.1a1.08 1.08 0 1 0 2.17 0a1.08 1.08 0 1 0 -2.17 0zM531.7 688.8a0.90 0.90 0 1 0 1.80 0a0.90 0.90 0 1 0 -1.80 0zM537.9 670.1a1.09 1.09 0 1 0 2.19 0a1.09 1.09 0 1 0 -2.19 0zM459.1 714.5a0.87 0.87 0 1 0 1.73 0a0.87 0.87 0 1 0 -1.73 0zM532.1 711.4a0.89 0.89 0 1 0 1.78 0a0.89 0.89 0 1 0 -1.78 0zM444.2 699.4a0.78 0.78 0 1 0 1.57 0a0.78 0.78 0 1 0 -1.57 0zM493.1 681.6a1.05 1.05 0 1 0 2.10 0a1.05 1.05 0 1 0 -2.10 0zM431.0 702.5a0.87 0.87 0 1 0 1.74 0a0.87 0.87 0 1 0 -1.74 0zM493.1 704.3a0.83 0.83 0 1 0 1.65 0a0.83 0.83 0 1 0 -1.65 0zM459.9 703.9a1.06 1.06 0 1 0 2.12 0a1.06 1.06 0 1 0 -2.12 0zM534.8 666.2a0.93 0.93 0 1 0 1.85 0a0.93 0.93 0 1 0 -1.85 0zM463.1 713.2a0.97 0.97 0 1 0 1.95 0a0.97 0.97 0 1 0 -1.95 0zM460.4 673.4a0.95 0.95 0 1 0 1.90 0a0.95 0.95 0 1 0 -1.90 0zM461.7 665.8a1.03 1.03 0 1 0 2.07 0a1.03 1.03 0 1 0 -2.07 0zM534.4 687.0a0.95 0.95 0 1 0 1.91 0a0.95 0.95 0 1 0 -1.91 0zM532.8 717.1a1.18 1.18 0 1 0 2.36 0a1.18 1.18 0 1 0 -2.36 0zM515.6 674.7a0.91 0.91 0 1 0 1.83 0a0.91 0.91 0 1 0 -1.83 0zM461.7 708.7a1.10 1.10 0 1 0 2.21 0a1.10 1.10 0 1 0 -2.21 0zM525.2 673.0a0.85 0.85 0 1 0 1.70 0a0.85 0.85 0 1 0 -1.70 0zM548.1 683.3a1.02 1.02 0 1 0 2.03 0a1.02 1.02 0 1 0 -2.03 0zM473.7 704.1a0.75 0.75 0 1 0 1.50 0a0.75 0.75 0 1 0 -1.50 0zM523.5 714.6a1.06 1.06 0 1 0 2.13 0a1.06 1.06 0 1 0 -2.13 0zM463.6 702.7a0.84 0.84 0 1 0 1.69 0a0.84 0.84 0 1 0 -1.69 0zM518.6 708.5a1.02 1.02 0 1 0 2.03 0a1.02 1.02 0 1 0 -2.03 0zM516.2 702.7a1.10 1.10 0 1 0 2.19 0a1.10 1.10 0 1 0 -2.19 0zM536.0 706.4a1.16 1.16 0 1 0 2.32 0a1.16 1.16 0 1 0 -2.32 0zM511.2 669.2a0.84 0.84 0 1 0 1.68 0a0.84 0.84 0 1 0 -1.68 0zM537.1 669.5a1.14 1.14 0 1 0 2.28 0a1.14 1.14 0 1 0 -2.28 0zM511.6 672.3a1.15 1.15 0 1 0 2.30 0a1.15 1.15 0 1 0 -2.30 0zM511.6 676.5a0.90 0.90 0 1 0 1.81 0a0.90 0.90 0 1 0 -1.81 0zM506.7 699.0a1.01 1.01 0 1 0 2.02 0a1.01 1.01 0 1 0 -2.02 0zM529.5 682.1a1.14 1.14 0 1 0 2.27 0a1.14 1.14 0 1 0 -2.27 0zM544.4 711.4a0.95 0.95 0 1 0 1.89 0a0.95 0.95 0 1 0 -1.89 0zM449.4 692.1a0.93 0.93 0 1 0 1.86 0a0.93 0.93 0 1 0 -1.86 0zM505.2 669.5a0.88 0.88 0 1 0 1.76 0a0.88 0.88 0 1 0 -1.76 0zM429.2 671.4a0.89 0.89 0 1 0 1.78 0a0.89 0.89 0 1 0 -1.78 0zM488.5 708.1a0.92 0.92 0 1 0 1.84 0a0.92 0.92 0 1 0 -1.84 0zM533.9 691.9a1.18 1.18 0 1 0 2.36 0a1.18 1.18 0 1 0 -2.36 0zM461.3 682.4a0.82 0.82 0 1 0 1.65 0a0.82 0.82 0 1 0 -1.65 0zM521.1 697.2a1.18 1.18 0 1 0 2.35 0a1.18 1.18 0 1 0 -2.35 0zM482.7 706.7a0.82 0.82 0 1 0 1.65 0a0.82 0.82 0 1 0 -1.65 0zM540.1 668.6a0.84 0.84 0 1 0 1.67 0a0.84 0.84 0 1 0 -1.67 0zM547.4 668.5a1.18 1.18 0 1 0 2.36 0a1.18 1.18 0 1 0 -2.36 0zM548.2 668.1a0.94 0.94 0 1 0 1.88 0a0.94 0.94 0 1 0 -1.88 0zM521.7 717.9a0.99 0.99 0 1 0 1.99 0a0.99 0.99 0 1 0 -1.99 0zM536.7 687.9a1.09 1.09 0 1 0 2.17 0a1.09 1.09 0 1 0 -2.17 0zM426.3 700.7a0.84 0.84 0 1 0 1.69 0a0.84 0.84 0 1 0 -1.69 0zM512.6 680.1a0.76 0.76 0 1 0 1.53 0a0.76 0.76 0 1 0 -1.53 0zM476.3 677.3a0.98 0.98 0 1 0 1.96 0a0.98 0.98 0 1 0 -1.96 0zM418.0 688.4a0.85 0.85 0 1 0 1.70 0a0.85 0.85 0 1 0 -1.70 0zM464.5 698.2a1.08 1.08 0 1 0 2.17 0a1.08 1.08 0 1 0 -2.17 0zM480.7 688.1a0.88 0.88 0 1 0 1.76 0a0.88 0.88 0 1 0 -1.76 0zM497.5 705.4a0.86 0.86 0 1 0 1.72 0a0.86 0.86 0 1 0 -1.72 0zM433.8 703.3a0.87 0.87 0 1 0 1.74 0a0.87 0.87 0 1 0 -1.74 0zM517.1 695.1a0.79 0.79 0 1 0 1.58 0a0.79 0.79 0 1 0 -1.58 0zM462.2 715.9a1.13 1.13 0 1 0 2.25 0a1.13 1.13 0 1 0 -2.25 0zM502.9 719.4a1.20 1.20 0 1 0 2.39 0a1.20 1.20 0 1 0 -2.39 0zM520.6 712.6a0.97 0.97 0 1 0 1.95 0a0.97 0.97 0 1 0 -1.95 0zM534.8 680.3a1.17 1.17 0 1 0 2.35 0a1.17 1.17 0 1 0 -2.35 0zM546.4 709.7a1.18 1.18 0 1 0 2.36 0a1.18 1.18 0 1 0 -2.36 0zM507.2 702.0a0.80 0.80 0 1 0 1.60 0a0.80 0.80 0 1 0 -1.60 0zM512.6 669.4a1.16 1.16 0 1 0 2.31 0a1.16 1.16 0 1 0 -2.31 0zM523.2 712.8a1.08 1.08 0 1 0 2.17 0a1.08 1.08 0 1 0 -2.17 0zM453.7 697.7a0.97 0.97 0 1 0 1.94 0a0.97 0.97 0 1 0 -1.94 0zM532.8 697.5a0.93 0.93 0 1 0 1.87 0a0.93 0.93 0 1 0 -1.87 0zM511.7 707.5a1.04 1.04 0 1 0 2.07 0a1.04 1.04 0 1 0 -2.07 0zM465.9 701.2a1.01 1.01 0 1 0 2.01 0a1.01 1.01 0 1 0 -2.01 0zM431.2 679.5a0.82 0.82 0 1 0 1.63 0a0.82 0.82 0 1 0 -1.63 0zM484.5 670.8a1.09 1.09 0 1 0 2.19 0a1.09 1.09 0 1 0 -2.19 0zM494.9 672.1a1.07 1.07 0 1 0 2.13 0a1.07 1.07 0 1 0 -2.13 0zM520.6 666.4a1.08 1.08 0 1 0 2.16 0a1.08 1.08 0 1 0 -2.16 0zM479.4 714.0a1.16 1.16 0 1 0 2.33 0a1.16 1.16 0 1 0 -2.33 0zM498.8 708.4a0.83 0.83 0 1 0 1.67 0a0.83 0.83 0 1 0 -1.67 0zM514.4 703.1a1.09 1.09 0 1 0 2.17 0a1.09 1.09 0 1 0 -2.17 0zM476.6 677.5a0.92 0.92 0 1 0 1.84 0a0.92 0.92 0 1 0 -1.84 0zM439.0 701.0a1.06 1.06 0 1 0 2.11 0a1.06 1.06 0 1 0 -2.11 0zM499.1 707.9a0.88 0.88 0 1 0 1.76 0a0.88 0.88 0 1 0 -1.76 0zM497.0 708.5a1.03 1.03 0 1 0 2.07 0a1.03 1.03 0 1 0 -2.07 0zM440.3 680.3a0.89 0.89 0 1 0 1.78 0a0.89 0.89 0 1 0 -1.78 0zM458.3 702.2a0.92 0.92 0 1 0 1.84 0a0.92 0.92 0 1 0 -1.84 0zM444.4 716.8a1.01 1.01 0 1 0 2.02 0a1.01 1.01 0 1 0 -2.02 0zM537.3 688.3a0.80 0.80 0 1 0 1.61 0a0.80 0.80 0 1 0 -1.61 0zM426.6 714.8a0.76 0.76 0 1 0 1.52 0a0.76 0.76 0 1 0 -1.52 0zM427.0 697.5a0.93 0.93 0 1 0 1.87 0a0.93 0.93 0 1 0 -1.87 0zM422.1 683.3a1.01 1.01 0 1 0 2.03 0a1.01 1.01 0 1 0 -2.03 0zM438.9 685.2a0.86 0.86 0 1 0 1.72 0a0.86 0.86 0 1 0 -1.72 0zM483.7 713.4a1.02 1.02 0 1 0 2.03 0a1.02 1.02 0 1 0 -2.03 0zM516.9 709.5a0.76 0.76 0 1 0 1.51 0a0.76 0.76 0 1 0 -1.51 0zM430.1 709.6a0.97 0.97 0 1 0 1.94 0a0.97 0.97 0 1 0 -1.94 0zM472.1 712.1a0.86 0.86 0 1 0 1.73 0a0.86 0.86 0 1 0 -1.73 0zM480.2 708.6a1.07 1.07 0 1 0 2.14 0a1.07 1.07 0 1 0 -2.14 0zM425.8 678.9a1.14 1.14 0 1 0 2.28 0a1.14 1.14 0 1 0 -2.28 0zM497.8 686.4a1.15 1.15 0 1 0 2.31 0a1.15 1.15 0 1 0 -2.31 0zM486.8 713.1a0.87 0.87 0 1 0 1.75 0a0.87 0.87 0 1 0 -1.75 0zM498.3 685.4a0.75 0.75 0 1 0 1.50 0a0.75 0.75 0 1 0 -1.50 0zM504.0 692.9a0.90 0.90 0 1 0 1.79 0a0.90 0.90 0 1 0 -1.79 0zM458.7 687.5a1.03 1.03 0 1 0 2.07 0a1.03 1.03 0 1 0 -2.07 0zM544.5 704.6a1.17 1.17 0 1 0 2.35 0a1.17 1.17 0 1 0 -2.35 0zM457.3 666.0a0.82 0.82 0 1 0 1.64 0a0.82 0.82 0 1 0 -1.64 0zM527.8 670.1a1.09 1.09 0 1 0 2.18 0a1.09 1.09 0 1 0 -2.18 0zM547.8 707.9a0.97 0.97 0 1 0 1.94 0a0.97 0.97 0 1 0 -1.94 0zM444.1 710.8a0.84 0.84 0 1 0 1.67 0a0.84 0.84 0 1 0 -1.67 0zM417.7 690.9a1.17 1.17 0 1 0 2.33 0a1.17 1.17 0 1 0 -2.33 0zM548.7 692.9a0.77 0.77 0 1 0 1.54 0a0.77 0.77 0 1 0 -1.54 0zM478.4 688.7a1.04 1.04 0 1 0 2.09 0a1.04 1.04 0 1 0 -2.09 0zM466.6 687.0a1.13 1.13 0 1 0 2.27 0a1.13 1.13 0 1 0 -2.27 0zM522.2 678.4a1.00 1.00 0 1 0 1.99 0a1.00 1.00 0 1 0 -1.99 0zM423.1 692.2a0.76 0.76 0 1 0 1.51 0a0.76 0.76 0 1 0 -1.51 0zM500.1 685.9a1.17 1.17 0 1 0 2.34 0a1.17 1.17 0 1 0 -2.34 0zM483.7 673.8a1.09 1.09 0 1 0 2.18 0a1.09 1.09 0 1 0 -2.18 0zM468.5 695.2a1.08 1.08 0 1 0 2.15 0a1.08 1.08 0 1 0 -2.15 0zM470.2 693.7a0.77 0.77 0 1 0 1.54 0a0.77 0.77 0 1 0 -1.54 0zM457.8 668.6a0.97 0.97 0 1 0 1.95 0a0.97 0.97 0 1 0 -1.95 0zM480.7 676.2a0.91 0.91 0 1 0 1.82 0a0.91 0.91 0 1 0 -1.82 0zM418.2 716.8a1.14 1.14 0 1 0 2.28 0a1.14 1.14 0 1 0 -2.28 0zM458.0 719.1a1.08 1.08 0 1 0 2.16 0a1.08 1.08 0 1 0 -2.16 0zM484.2 681.4a1.07 1.07 0 1 0 2.13 0a1.07 1.07 0 1 0 -2.13 0zM526.5 708.0a0.95 0.95 0 1 0 1.90 0a0.95 0.95 0 1 0 -1.90 0zM532.2 676.5a1.11 1.11 0 1 0 2.21 0a1.11 1.11 0 1 0 -2.21 0zM546.6 666.9a0.82 0.82 0 1 0 1.65 0a0.82 0.82 0 1 0 -1.65 0zM506.5 701.7a0.81 0.81 0 1 0 1.63 0a0.81 0.81 0 1 0 -1.63 0zM419.6 715.7a1.20 1.20 0 1 0 2.39 0a1.20 1.20 0 1 0 -2.39 0zM537.2 668.1a1.09 1.09 0 1 0 2.17 0a1.09 1.09 0 1 0 -2.17 0zM475.9 684.9a0.89 0.89 0 1 0 1.77 0a0.89 0.89 0 1 0 -1.77 0zM510.9 686.5a0.82 0.82 0 1 0 1.65 0a0.82 0.82 0 1 0 -1.65 0zM421.3 667.3a0.94 0.94 0 1 0 1.88 0a0.94 0.94 0 1 0 -1.88 0zM512.5 696.2a1.18 1.18 0 1 0 2.37 0a1.18 1.18 0 1 0 -2.37 0zM533.9 713.8a0.99 0.99 0 1 0 1.99 0a0.99 0.99 0 1 0 -1.99 0zM485.0 702.8a1.04 1.04 0 1 0 2.07 0a1.04 1.04 0 1 0 -2.07 0zM440.0 694.7a0.96 0.96 0 1 0 1.91 0a0.96 0.96 0 1 0 -1.91 0zM482.3 691.5a0.98 0.98 0 1 0 1.96 0a0.98 0.98 0 1 0 -1.96 0zM497.2 681.8a0.82 0.82 0 1 0 1.64 0a0.82 0.82 0 1 0 -1.64 0zM548.7 706.0a0.88 0.88 0 1 0 1.75 0a0.88 0.88 0 1 0 -1.75 0zM526.4 707.7a0.90 0.90 0 1 0 1.80 0a0.90 0.90 0 1 0 -1.80 0zM454.8 675.4a0.76 0.76 0 1 0 1.52 0a0.76 0.76 0 1 0 -1.52 0zM449.6 714.7a1.19 1.19 0 1 0 2.37 0a1.19 1.19 0 1 0 -2.37 0zM500.6 718.2a0.77 0.77 0 1 0 1.55 0a0.77 0.77 0 1 0 -1.55 0zM489.3 718.0a0.87 0.87 0 1 0 1.74 0a0.87 0.87 0 1 0 -1.74 0zM420.0 715.9a1.02 1.02 0 1 0 2.05 0a1.02 1.02 0 1 0 -2.05 0zM540.3 669.2a1.12 1.12 0 1 0 2.25 0a1.12 1.12 0 1 0 -2.25 0zM494.3 712.2a0.89 0.89 0 1 0 1.78 0a0.89 0.89 0 1 0 -1.78 0zM420.8 699.4a0.90 0.90 0 1 0 1.81 0a0.90 0.90 0 1 0 -1.81 0zM437.9 673.1a0.79 0.79 0 1 0 1.58 0a0.79 0.79 0 1 0 -1.58 0zM497.4 707.3a0.79 0.79 0 1 0 1.58 0a0.79 0.79 0 1 0 -1.58 0zM442.3 709.9a0.86 0.86 0 1 0 1.72 0a0.86 0.86 0 1 0 -1.72 0zM494.5 674.9a1.12 1.12 0 1 0 2.24 0a1.12 1.12 0 1 0 -2.24 0zM494.0 669.5a0.90 0.90 0 1 0 1.80 0a0.90 0.90 0 1 0 -1.80 0zM505.6 677.7a0.81 0.81 0 1 0 1.62 0a0.81 0.81 0 1 0 -1.62 0zM469.6 665.8a0.78 0.78 0 1 0 1.55 0a0.78 0.78 0 1 0 -1.55 0zM432.0 681.1a1.12 1.12 0 1 0 2.23 0a1.12 1.12 0 1 0 -2.23 0zM534.9 686.3a1.08 1.08 0 1 0 2.17 0a1.08 1.08 0 1 0 -2.17 0zM526.0 718.2a0.85 0.85 0 1 0 1.70 0a0.85 0.85 0 1 0 -1.70 0zM509.4 713.9a1.09 1.09 0 1 0 2.17 0a1.09 1.09 0 1 0 -2.17 0zM422.5 710.5a1.10 1.10 0 1 0 2.19 0a1.10 1.10 0 1 0 -2.19 0zM496.1 666.9a0.79 0.79 0 1 0 1.57 0a0.79 0.79 0 1 0 -1.57 0zM418.0 695.0a1.02 1.02 0 1 0 2.04 0a1.02 1.02 0 1 0 -2.04 0zM430.4 710.5a0.93 0.93 0 1 0 1.87 0a0.93 0.93 0 1 0 -1.87 0zM435.5 696.8a0.87 0.87 0 1 0 1.74 0a0.87 0.87 0 1 0 -1.74 0zM445.2 676.2a1.10 1.10 0 1 0 2.21 0a1.10 1.10 0 1 0 -2.21 0zM430.2 677.6a0.81 0.81 0 1 0 1.63 0a0.81 0.81 0 1 0 -1.63 0zM505.0 701.9a0.94 0.94 0 1 0 1.89 0a0.94 0.94 0 1 0 -1.89 0zM437.2 665.7a1.17 1.17 0 1 0 2.34 0a1.17 1.17 0 1 0 -2.34 0zM496.5 667.9a1.04 1.04 0 1 0 2.07 0a1.04 1.04 0 1 0 -2.07 0zM526.8 675.8a1.18 1.18 0 1 0 2.35 0a1.18 1.18 0 1 0 -2.35 0zM439.3 688.8a0.95 0.95 0 1 0 1.89 0a0.95 0.95 0 1 0 -1.89 0zM544.0 691.0a1.08 1.08 0 1 0 2.16 0a1.08 1.08 0 1 0 -2.16 0zM512.4 680.1a0.96 0.96 0 1 0 1.91 0a0.96 0.96 0 1 0 -1.91 0zM478.0 682.8a0.84 0.84 0 1 0 1.68 0a0.84 0.84 0 1 0 -1.68 0zM438.5 719.0a1.17 1.17 0 1 0 2.33 0a1.17 1.17 0 1 0 -2.33 0zM438.3 719.3a0.90 0.90 0 1 0 1.81 0a0.90 0.90 0 1 0 -1.81 0zM517.3 690.3a0.96 0.96 0 1 0 1.92 0a0.96 0.96 0 1 0 -1.92 0zM473.2 666.4a0.98 0.98 0 1 0 1.97 0a0.98 0.98 0 1 0 -1.97 0zM450.4 715.2a1.03 1.03 0 1 0 2.07 0a1.03 1.03 0 1 0 -2.07 0zM454.1 710.6a1.01 1.01 0 1 0 2.02 0a1.01 1.01 0 1 0 -2.02 0zM500.8 705.1a1.08 1.08 0 1 0 2.16 0a1.08 1.08 0 1 0 -2.16 0zM445.4 712.3a1.08 1.08 0 1 0 2.17 0a1.08 1.08 0 1 0 -2.17 0zM517.3 705.5a0.86 0.86 0 1 0 1.71 0a0.86 0.86 0 1 0 -1.71 0zM546.3 704.6a1.16 1.16 0 1 0 2.32 0a1.16 1.16 0 1 0 -2.32 0zM454.4 681.5a1.15 1.15 0 1 0 2.29 0a1.15 1.15 0 1 0 -2.29 0zM548.9 703.0a0.82 0.82 0 1 0 1.63 0a0.82 0.82 0 1 0 -1.63 0zM455.3 694.5a0.75 0.75 0 1 0 1.51 0a0.75 0.75 0 1 0 -1.51 0zM461.4 695.8a1.17 1.17 0 1 0 2.33 0a1.17 1.17 0 1 0 -2.33 0zM508.2 713.7a0.84 0.84 0 1 0 1.69 0a0.84 0.84 0 1 0 -1.69 0zM532.2 676.6a0.86 0.86 0 1 0 1.73 0a0.86 0.86 0 1 0 -1.73 0zM504.1 678.1a0.76 0.76 0 1 0 1.51 0a0.76 0.76 0 1 0 -1.51 0zM509.6 668.1a1.04 1.04 0 1 0 2.08 0a1.04 1.04 0 1 0 -2.08 0zM430.5 692.4a1.15 1.15 0 1 0 2.31 0a1.15 1.15 0 1 0 -2.31 0zM472.1 675.8a1.15 1.15 0 1 0 2.30 0a1.15 1.15 0 1 0 -2.30 0zM538.0 690.7a1.08 1.08 0 1 0 2.16 0a1.08 1.08 0 1 0 -2.16 0zM449.4 665.7a0.85 0.85 0 1 0 1.70 0a0.85 0.85 0 1 0 -1.70 0zM495.9 707.7a0.82 0.82 0 1 0 1.63 0a0.82 0.82 0 1 0 -1.63 0zM435.8 681.0a0.87 0.87 0 1 0 1.73 0a0.87 0.87 0 1 0 -1.73 0zM463.4 705.8a0.91 0.91 0 1 0 1.83 0a0.91 0.91 0 1 0 -1.83 0zM515.1 700.5a1.16 1.16 0 1 0 2.32 0a1.16 1.16 0 1 0 -2.32 0zM494.8 718.1a0.92 0.92 0 1 0 1.84 0a0.92 0.92 0 1 0 -1.84 0zM489.3 675.6a0.84 0.84 0 1 0 1.68 0a0.84 0.84 0 1 0 -1.68 0zM463.2 711.5a1.16 1.16 0 1 0 2.31 0a1.16 1.16 0 1 0 -2.31 0zM477.4 684.0a0.90 0.90 0 1 0 1.79 0a0.90 0.90 0 1 0 -1.79 0zM491.5 689.9a1.20 1.20 0 1 0 2.39 0a1.20 1.20 0 1 0 -2.39 0zM507.8 684.4a1.00 1.00 0 1 0 2.01 0a1.00 1.00 0 1 0 -2.01 0zM478.5 717.4a0.83 0.83 0 1 0 1.67 0a0.83 0.83 0 1 0 -1.67 0zM523.2 680.2a0.93 0.93 0 1 0 1.85 0a0.93 0.93 0 1 0 -1.85 0zM422.5 678.4a0.89 0.89 0 1 0 1.79 0a0.89 0.89 0 1 0 -1.79 0zM452.1 699.4a0.80 0.80 0 1 0 1.61 0a0.80 0.80 0 1 0 -1.61 0zM457.4 694.5a0.99 0.99 0 1 0 1.98 0a0.99 0.99 0 1 0 -1.98 0zM494.5 674.1a0.87 0.87 0 1 0 1.73 0a0.87 0.87 0 1 0 -1.73 0zM518.8 719.1a0.83 0.83 0 1 0 1.65 0a0.83 0.83 0 1 0 -1.65 0zM428.1 713.0a1.20 1.20 0 1 0 2.40 0a1.20 1.20 0 1 0 -2.40 0zM470.1 717.6a1.02 1.02 0 1 0 2.03 0a1.02 1.02 0 1 0 -2.03 0zM536.3 666.9a0.76 0.76 0 1 0 1.52 0a0.76 0.76 0 1 0 -1.52 0zM528.0 690.3a0.80 0.80 0 1 0 1.60 0a0.80 0.80 0 1 0 -1.60 0zM519.3 664.7a0.84 0.84 0 1 0 1.67 0a0.84 0.84 0 1 0 -1.67 0zM515.0 705.4a0.98 0.98 0 1 0 1.96 0a0.98 0.98 0 1 0 -1.96 0zM497.6 697.3a0.87 0.87 0 1 0 1.73 0a0.87 0.87 0 1 0 -1.73 0zM463.5 698.8a0.86 0.86 0 1 0 1.71 0a0.86 0.86 0 1 0 -1.71 0zM521.2 715.0a1.03 1.03 0 1 0 2.06 0a1.03 1.03 0 1 0 -2.06 0zM438.8 680.2a1.01 1.01 0 1 0 2.03 0a1.01 1.01 0 1 0 -2.03 0zM476.1 686.3a0.76 0.76 0 1 0 1.52 0a0.76 0.76 0 1 0 -1.52 0zM468.6 685.2a0.80 0.80 0 1 0 1.60 0a0.80 0.80 0 1 0 -1.60 0zM547.1 707.2a1.18 1.18 0 1 0 2.37 0a1.18 1.18 0 1 0 -2.37 0zM449.6 702.1a1.07 1.07 0 1 0 2.15 0a1.07 1.07 0 1 0 -2.15 0zM449.6 697.3a1.08 1.08 0 1 0 2.15 0a1.08 1.08 0 1 0 -2.15 0z" fill="#b86c3e" opacity="0.75"/>
<path d="M418 714 Q430 712 440 716 Q450 714 455 702 L460 686 L464 700 Q468 716 490 718 Q505 714 512 700 L519 686 Q524 700 530 708 Q540 712 550.5 708 L550.5 734.1 L418 734.1 Z" fill="#7867b4" filter="url(#sb)"/>
<g clip-path="url(#cDBp)"><path d="M496.3 712.2h1.1v0.8h-1.1zM451.4 698.7h1.1v0.8h-1.1zM460.4 710.0h1.1v0.8h-1.1zM473.1 695.9h1.1v0.8h-1.1zM425.5 733.6h1.1v0.8h-1.1zM465.1 728.5h1.1v0.8h-1.1zM536.1 693.8h1.1v0.8h-1.1zM442.7 697.0h1.1v0.8h-1.1zM418.4 696.6h1.1v0.8h-1.1zM499.2 719.6h1.1v0.8h-1.1zM440.9 711.3h1.1v0.8h-1.1zM502.9 720.7h1.1v0.8h-1.1zM508.3 722.3h1.1v0.8h-1.1zM429.5 692.2h1.1v0.8h-1.1zM513.7 707.4h1.1v0.8h-1.1zM511.5 720.9h1.1v0.8h-1.1zM519.9 720.2h1.1v0.8h-1.1zM474.1 729.3h1.1v0.8h-1.1zM506.5 709.1h1.1v0.8h-1.1zM526.8 702.5h1.1v0.8h-1.1zM463.5 714.5h1.1v0.8h-1.1zM547.4 695.1h1.1v0.8h-1.1zM456.3 691.0h1.1v0.8h-1.1zM503.8 708.9h1.1v0.8h-1.1zM481.1 703.2h1.1v0.8h-1.1zM466.4 713.8h1.1v0.8h-1.1zM439.0 709.0h1.1v0.8h-1.1zM437.4 710.5h1.1v0.8h-1.1zM483.5 705.7h1.1v0.8h-1.1zM459.6 724.4h1.1v0.8h-1.1zM449.0 711.3h1.1v0.8h-1.1zM545.4 703.6h1.1v0.8h-1.1zM473.5 718.8h1.1v0.8h-1.1zM483.6 723.5h1.1v0.8h-1.1zM535.1 697.3h1.1v0.8h-1.1zM484.3 708.7h1.1v0.8h-1.1zM478.4 716.6h1.1v0.8h-1.1zM443.3 699.5h1.1v0.8h-1.1zM450.4 706.9h1.1v0.8h-1.1zM459.5 700.3h1.1v0.8h-1.1zM542.9 715.7h1.1v0.8h-1.1zM459.7 690.7h1.1v0.8h-1.1zM501.7 714.9h1.1v0.8h-1.1zM493.4 688.2h1.1v0.8h-1.1zM497.9 724.3h1.1v0.8h-1.1zM492.6 718.1h1.1v0.8h-1.1zM464.7 704.2h1.1v0.8h-1.1zM452.3 722.7h1.1v0.8h-1.1zM516.2 711.9h1.1v0.8h-1.1zM485.3 700.1h1.1v0.8h-1.1zM546.5 687.9h1.1v0.8h-1.1zM492.6 700.8h1.1v0.8h-1.1zM523.9 732.4h1.1v0.8h-1.1zM495.2 720.6h1.1v0.8h-1.1zM445.1 733.5h1.1v0.8h-1.1zM477.6 727.9h1.1v0.8h-1.1zM421.6 701.9h1.1v0.8h-1.1zM510.1 694.3h1.1v0.8h-1.1zM419.3 701.7h1.1v0.8h-1.1zM509.9 727.4h1.1v0.8h-1.1zM442.8 714.5h1.1v0.8h-1.1zM532.8 722.6h1.1v0.8h-1.1zM502.1 709.6h1.1v0.8h-1.1zM448.0 699.2h1.1v0.8h-1.1zM492.4 700.5h1.1v0.8h-1.1zM510.7 697.9h1.1v0.8h-1.1zM500.3 696.1h1.1v0.8h-1.1zM508.6 728.5h1.1v0.8h-1.1zM535.6 706.1h1.1v0.8h-1.1zM540.4 692.7h1.1v0.8h-1.1zM469.8 699.7h1.1v0.8h-1.1zM469.4 688.7h1.1v0.8h-1.1zM465.5 714.6h1.1v0.8h-1.1zM517.0 707.3h1.1v0.8h-1.1zM539.9 718.4h1.1v0.8h-1.1zM515.8 726.3h1.1v0.8h-1.1zM464.9 722.7h1.1v0.8h-1.1zM481.6 699.8h1.1v0.8h-1.1zM506.4 719.9h1.1v0.8h-1.1zM424.4 720.3h1.1v0.8h-1.1zM544.0 687.6h1.1v0.8h-1.1zM542.8 706.4h1.1v0.8h-1.1zM540.9 704.9h1.1v0.8h-1.1zM478.1 717.5h1.1v0.8h-1.1zM457.8 697.2h1.1v0.8h-1.1zM504.7 702.2h1.1v0.8h-1.1zM421.4 699.9h1.1v0.8h-1.1zM536.3 721.3h1.1v0.8h-1.1zM435.7 710.5h1.1v0.8h-1.1zM497.2 694.4h1.1v0.8h-1.1zM526.5 732.8h1.1v0.8h-1.1zM504.8 723.8h1.1v0.8h-1.1zM471.4 697.9h1.1v0.8h-1.1zM507.3 728.0h1.1v0.8h-1.1zM515.0 693.2h1.1v0.8h-1.1zM549.7 729.5h1.1v0.8h-1.1zM509.1 696.3h1.1v0.8h-1.1zM440.7 691.6h1.1v0.8h-1.1zM521.4 712.4h1.1v0.8h-1.1zM548.5 694.4h1.1v0.8h-1.1zM465.6 699.5h1.1v0.8h-1.1zM530.3 722.7h1.1v0.8h-1.1zM514.1 709.8h1.1v0.8h-1.1zM453.5 705.1h1.1v0.8h-1.1zM433.1 720.2h1.1v0.8h-1.1zM497.8 711.9h1.1v0.8h-1.1zM533.0 692.3h1.1v0.8h-1.1zM501.0 691.2h1.1v0.8h-1.1zM451.7 717.3h1.1v0.8h-1.1zM485.6 727.9h1.1v0.8h-1.1zM447.7 703.2h1.1v0.8h-1.1zM467.9 700.2h1.1v0.8h-1.1zM507.2 702.1h1.1v0.8h-1.1zM470.8 723.7h1.1v0.8h-1.1zM428.1 717.4h1.1v0.8h-1.1zM483.4 705.7h1.1v0.8h-1.1zM476.1 694.2h1.1v0.8h-1.1zM435.1 720.5h1.1v0.8h-1.1zM460.8 698.0h1.1v0.8h-1.1zM444.6 716.3h1.1v0.8h-1.1zM510.2 715.1h1.1v0.8h-1.1zM421.2 707.2h1.1v0.8h-1.1zM472.8 694.5h1.1v0.8h-1.1zM516.3 705.4h1.1v0.8h-1.1zM529.4 709.7h1.1v0.8h-1.1zM449.8 727.6h1.1v0.8h-1.1zM425.7 702.7h1.1v0.8h-1.1zM465.9 691.3h1.1v0.8h-1.1zM502.3 700.5h1.1v0.8h-1.1zM542.4 729.7h1.1v0.8h-1.1zM423.4 695.4h1.1v0.8h-1.1zM506.0 719.9h1.1v0.8h-1.1zM448.3 702.2h1.1v0.8h-1.1zM548.1 730.9h1.1v0.8h-1.1zM466.1 719.7h1.1v0.8h-1.1zM546.1 717.5h1.1v0.8h-1.1zM473.3 730.9h1.1v0.8h-1.1zM494.9 718.4h1.1v0.8h-1.1zM537.2 688.6h1.1v0.8h-1.1zM432.3 689.1h1.1v0.8h-1.1zM454.6 732.6h1.1v0.8h-1.1zM512.6 703.4h1.1v0.8h-1.1zM497.3 707.1h1.1v0.8h-1.1zM482.3 702.6h1.1v0.8h-1.1zM540.2 721.9h1.1v0.8h-1.1zM425.7 715.3h1.1v0.8h-1.1zM541.6 704.5h1.1v0.8h-1.1zM434.9 688.4h1.1v0.8h-1.1zM489.0 703.8h1.1v0.8h-1.1zM490.4 718.8h1.1v0.8h-1.1zM475.4 715.2h1.1v0.8h-1.1zM496.7 713.4h1.1v0.8h-1.1zM486.2 696.1h1.1v0.8h-1.1zM453.9 718.4h1.1v0.8h-1.1zM541.8 691.1h1.1v0.8h-1.1zM424.9 707.7h1.1v0.8h-1.1zM542.2 728.3h1.1v0.8h-1.1zM447.2 715.4h1.1v0.8h-1.1zM427.6 724.7h1.1v0.8h-1.1zM427.0 731.3h1.1v0.8h-1.1zM464.9 700.9h1.1v0.8h-1.1zM463.2 691.5h1.1v0.8h-1.1zM465.2 696.1h1.1v0.8h-1.1zM422.3 708.5h1.1v0.8h-1.1zM528.0 722.4h1.1v0.8h-1.1zM489.7 691.8h1.1v0.8h-1.1zM478.3 698.2h1.1v0.8h-1.1zM478.9 728.3h1.1v0.8h-1.1zM443.8 711.6h1.1v0.8h-1.1zM479.9 707.2h1.1v0.8h-1.1zM427.3 729.9h1.1v0.8h-1.1zM536.0 696.4h1.1v0.8h-1.1zM532.2 707.8h1.1v0.8h-1.1zM531.3 700.8h1.1v0.8h-1.1zM425.4 733.4h1.1v0.8h-1.1zM465.7 688.0h1.1v0.8h-1.1zM447.2 702.0h1.1v0.8h-1.1zM527.8 732.4h1.1v0.8h-1.1zM454.2 691.9h1.1v0.8h-1.1zM433.5 733.3h1.1v0.8h-1.1zM480.6 692.3h1.1v0.8h-1.1zM458.8 710.6h1.1v0.8h-1.1zM500.8 711.6h1.1v0.8h-1.1zM520.2 707.4h1.1v0.8h-1.1zM528.9 718.9h1.1v0.8h-1.1zM498.0 690.7h1.1v0.8h-1.1zM459.9 699.3h1.1v0.8h-1.1zM533.3 727.8h1.1v0.8h-1.1zM510.7 718.7h1.1v0.8h-1.1zM436.1 686.8h1.1v0.8h-1.1zM428.3 707.4h1.1v0.8h-1.1zM456.2 733.6h1.1v0.8h-1.1zM430.7 715.9h1.1v0.8h-1.1zM458.8 694.8h1.1v0.8h-1.1zM525.3 725.4h1.1v0.8h-1.1zM481.1 709.2h1.1v0.8h-1.1zM433.3 714.9h1.1v0.8h-1.1zM516.7 728.6h1.1v0.8h-1.1zM526.3 724.7h1.1v0.8h-1.1zM443.6 730.2h1.1v0.8h-1.1zM429.7 697.4h1.1v0.8h-1.1zM490.0 720.2h1.1v0.8h-1.1zM502.4 715.5h1.1v0.8h-1.1zM512.3 705.3h1.1v0.8h-1.1zM423.7 699.7h1.1v0.8h-1.1zM494.4 720.5h1.1v0.8h-1.1zM471.4 712.4h1.1v0.8h-1.1zM530.5 715.6h1.1v0.8h-1.1zM481.2 705.4h1.1v0.8h-1.1zM431.6 703.9h1.1v0.8h-1.1zM546.6 710.4h1.1v0.8h-1.1zM479.0 717.6h1.1v0.8h-1.1zM448.1 707.3h1.1v0.8h-1.1zM450.3 711.3h1.1v0.8h-1.1zM485.1 724.2h1.1v0.8h-1.1zM518.2 703.4h1.1v0.8h-1.1zM548.7 713.1h1.1v0.8h-1.1zM469.3 693.8h1.1v0.8h-1.1zM420.1 703.0h1.1v0.8h-1.1zM498.9 699.0h1.1v0.8h-1.1zM435.1 708.8h1.1v0.8h-1.1zM434.9 696.5h1.1v0.8h-1.1zM483.8 720.7h1.1v0.8h-1.1zM462.8 719.0h1.1v0.8h-1.1zM460.1 692.7h1.1v0.8h-1.1zM522.9 717.1h1.1v0.8h-1.1zM504.7 721.7h1.1v0.8h-1.1zM485.6 689.2h1.1v0.8h-1.1zM437.8 712.0h1.1v0.8h-1.1zM504.7 687.7h1.1v0.8h-1.1zM514.7 729.9h1.1v0.8h-1.1zM497.5 728.4h1.1v0.8h-1.1zM482.7 722.1h1.1v0.8h-1.1zM421.4 711.6h1.1v0.8h-1.1zM516.7 723.9h1.1v0.8h-1.1zM539.7 705.5h1.1v0.8h-1.1zM424.4 721.7h1.1v0.8h-1.1zM548.1 731.2h1.1v0.8h-1.1zM532.1 687.1h1.1v0.8h-1.1zM508.1 730.3h1.1v0.8h-1.1zM457.8 715.7h1.1v0.8h-1.1zM496.3 704.4h1.1v0.8h-1.1zM539.4 690.5h1.1v0.8h-1.1zM440.7 721.9h1.1v0.8h-1.1zM519.0 709.1h1.1v0.8h-1.1zM532.8 695.3h1.1v0.8h-1.1zM450.8 687.9h1.1v0.8h-1.1zM528.5 700.5h1.1v0.8h-1.1zM498.6 709.2h1.1v0.8h-1.1zM489.6 699.1h1.1v0.8h-1.1zM434.0 724.5h1.1v0.8h-1.1zM476.7 702.7h1.1v0.8h-1.1zM489.4 688.3h1.1v0.8h-1.1zM516.4 702.3h1.1v0.8h-1.1zM460.9 698.7h1.1v0.8h-1.1zM423.8 721.1h1.1v0.8h-1.1zM506.1 724.6h1.1v0.8h-1.1zM480.4 727.4h1.1v0.8h-1.1zM471.4 711.7h1.1v0.8h-1.1zM525.5 700.6h1.1v0.8h-1.1zM480.1 703.0h1.1v0.8h-1.1zM425.3 732.4h1.1v0.8h-1.1zM529.7 723.5h1.1v0.8h-1.1zM419.6 729.5h1.1v0.8h-1.1zM434.9 729.6h1.1v0.8h-1.1zM466.9 686.8h1.1v0.8h-1.1zM518.0 687.2h1.1v0.8h-1.1zM526.8 692.4h1.1v0.8h-1.1zM527.3 688.2h1.1v0.8h-1.1zM434.5 719.0h1.1v0.8h-1.1zM498.4 720.7h1.1v0.8h-1.1zM434.6 713.1h1.1v0.8h-1.1zM530.3 725.0h1.1v0.8h-1.1zM530.2 719.5h1.1v0.8h-1.1zM525.8 710.5h1.1v0.8h-1.1zM480.6 715.0h1.1v0.8h-1.1zM526.2 694.9h1.1v0.8h-1.1zM454.2 725.9h1.1v0.8h-1.1zM449.2 691.8h1.1v0.8h-1.1zM523.4 733.0h1.1v0.8h-1.1zM435.0 687.9h1.1v0.8h-1.1zM485.2 713.5h1.1v0.8h-1.1zM504.0 715.5h1.1v0.8h-1.1zM482.0 691.0h1.1v0.8h-1.1zM465.5 708.7h1.1v0.8h-1.1zM548.4 709.8h1.1v0.8h-1.1zM503.5 717.6h1.1v0.8h-1.1zM499.8 718.2h1.1v0.8h-1.1zM432.5 696.8h1.1v0.8h-1.1zM444.7 706.6h1.1v0.8h-1.1zM457.9 728.8h1.1v0.8h-1.1zM430.4 688.9h1.1v0.8h-1.1zM516.0 689.0h1.1v0.8h-1.1zM424.6 698.5h1.1v0.8h-1.1zM469.6 710.0h1.1v0.8h-1.1zM495.8 722.0h1.1v0.8h-1.1zM540.1 698.4h1.1v0.8h-1.1zM477.7 704.5h1.1v0.8h-1.1zM442.6 712.9h1.1v0.8h-1.1zM530.2 696.6h1.1v0.8h-1.1z" fill="#5c4a9e" opacity="0.6"/></g>
<defs><clipPath id="cDBp"><path d="M418 714 Q430 712 440 716 Q450 714 455 702 L460 686 L464 700 Q468 716 490 718 Q505 714 512 700 L519 686 Q524 700 530 708 Q540 712 550.5 708 L550.5 734.1 L418 734.1 Z"/></clipPath></defs>
<path d="M418 666 L440 666 Q436 674 426 678 L418 678 Z" fill="#9a88c0" opacity="0.6" filter="url(#sb)"/>
<path d="M418 726 Q450 722 480 727 T550.5 724 M418 731 Q460 728 500 731 T550.5 730" fill="none" stroke="#ddd5ec" stroke-width="1.1" opacity="0.7"/>
</g>
<line x1="533.8" y1="728.2" x2="547.8" y2="728.2" stroke="#231f20" stroke-width="1.8"/>
<text x="539.5" y="725.4" font-size="6.8" text-anchor="middle" fill="#222" stroke="#fff" stroke-width="0.6" paint-order="stroke">50μm</text>
<text x="561.0" y="567.7" font-size="16.8">(G)</text>
<text x="634.1" y="597.4" font-size="13.8" text-anchor="middle">Serum Fabp5</text>
<line x1="596.5" y1="611.4" x2="596.5" y2="723.7" stroke="#231f20" stroke-width="1.5"/>
<line x1="596.5" y1="723" x2="674.2" y2="723" stroke="#231f20" stroke-width="1.5"/>
<line x1="592.4" y1="612.0" x2="596.5" y2="612.0" stroke="#231f20" stroke-width="1.5"/>
<text x="591.0" y="615.8" font-size="10.5" font-weight="bold" text-anchor="end">6</text>
<line x1="592.4" y1="649.0" x2="596.5" y2="649.0" stroke="#231f20" stroke-width="1.5"/>
<text x="591.0" y="652.8" font-size="10.5" font-weight="bold" text-anchor="end">4</text>
<line x1="592.4" y1="686.0" x2="596.5" y2="686.0" stroke="#231f20" stroke-width="1.5"/>
<text x="591.0" y="689.8" font-size="10.5" font-weight="bold" text-anchor="end">2</text>
<line x1="592.4" y1="723.0" x2="596.5" y2="723.0" stroke="#231f20" stroke-width="1.5"/>
<text x="591.0" y="726.8" font-size="10.5" font-weight="bold" text-anchor="end">0</text>
<rect x="609.80" y="708.80" width="20.00" height="14.20" fill="#fff" stroke="#231f20" stroke-width="1.5"/>
<rect x="641.40" y="669.00" width="20.90" height="54.00" fill="#262626"/>
<line x1="620.0" y1="723" x2="620.0" y2="726.6" stroke="#231f20" stroke-width="1.5"/>
<line x1="651.9" y1="723" x2="651.9" y2="726.6" stroke="#231f20" stroke-width="1.5"/>
<line x1="651.7" y1="640.0" x2="651.7" y2="669.0" stroke="#231f20" stroke-width="1.3"/>
<line x1="649.4" y1="640.0" x2="654.0" y2="640.0" stroke="#231f20" stroke-width="1.3"/>
<line x1="619.9" y1="706.2" x2="619.9" y2="708.8" stroke="#231f20" stroke-width="1.2"/>
<line x1="617.8" y1="706.2" x2="622.0" y2="706.2" stroke="#231f20" stroke-width="1.2"/>
<circle cx="612.2" cy="709.2" r="1.9" fill="#fff" stroke="#231f20" stroke-width="1.0"/>
<circle cx="615.8" cy="708.0" r="1.9" fill="#fff" stroke="#231f20" stroke-width="1.0"/>
<circle cx="619.2" cy="709.3" r="1.9" fill="#fff" stroke="#231f20" stroke-width="1.0"/>
<circle cx="622.6" cy="708.6" r="1.9" fill="#fff" stroke="#231f20" stroke-width="1.0"/>
<circle cx="626.3" cy="708.0" r="1.9" fill="#fff" stroke="#231f20" stroke-width="1.0"/>
<circle cx="628.2" cy="710.6" r="1.9" fill="#fff" stroke="#231f20" stroke-width="1.0"/>
<circle cx="651.7" cy="628.4" r="1.9" fill="#fff" stroke="#231f20" stroke-width="1.0"/>
<circle cx="651.7" cy="640.0" r="1.9" fill="#fff" stroke="#231f20" stroke-width="1.0"/>
<circle cx="651.7" cy="657.9" r="1.9" fill="#fff" stroke="#231f20" stroke-width="1.0"/>
<circle cx="658.2" cy="654.8" r="1.9" fill="#fff" stroke="#231f20" stroke-width="1.0"/>
<circle cx="644.9" cy="664.2" r="1.9" fill="#fff" stroke="#231f20" stroke-width="1.0"/>
<circle cx="651.7" cy="667.0" r="1.9" fill="#fff" stroke="#231f20" stroke-width="1.0"/>
<circle cx="651.7" cy="695.4" r="1.3" fill="#fff"/>
<circle cx="651.7" cy="702.0" r="1.3" fill="#fff"/>
<circle cx="651.7" cy="706.9" r="1.3" fill="#fff"/>
<line x1="620.0" y1="621.6" x2="652.1" y2="621.6" stroke="#231f20" stroke-width="1.5"/>
<text x="636.6" y="621.0" font-size="12.5" text-anchor="middle" fill="#333">***</text>
<text x="615.8" y="739.0" font-size="10.6" text-anchor="middle">Control</text>
<text x="652.9" y="739.0" font-size="10.6" text-anchor="middle">DKO*</text>
<text x="579.0" y="665.2" font-size="10.7" text-anchor="middle" transform="rotate(-90 579.0 665.2)">ng/mL</text>
<text x="0.9" y="778.9" font-size="16.8">(H)</text>
<text x="343.8" y="782.8" font-size="13.8" text-anchor="middle">GSE171012</text>
<line x1="51.6" y1="823.6" x2="51.6" y2="935.8000000000001" stroke="#231f20" stroke-width="1.5"/>
<line x1="51.6" y1="935.1" x2="126.3" y2="935.1" stroke="#231f20" stroke-width="1.5"/>
<line x1="47.4" y1="824.2" x2="51.6" y2="824.2" stroke="#231f20" stroke-width="1.5"/>
<text x="46.4" y="827.1" font-size="8.2" font-weight="bold" text-anchor="end">15000</text>
<line x1="47.4" y1="861.2" x2="51.6" y2="861.2" stroke="#231f20" stroke-width="1.5"/>
<text x="46.4" y="864.1" font-size="8.2" font-weight="bold" text-anchor="end">10000</text>
<line x1="47.4" y1="898.1" x2="51.6" y2="898.1" stroke="#231f20" stroke-width="1.5"/>
<text x="46.4" y="901.0" font-size="8.2" font-weight="bold" text-anchor="end">5000</text>
<line x1="47.4" y1="935.1" x2="51.6" y2="935.1" stroke="#231f20" stroke-width="1.5"/>
<text x="46.4" y="938.0" font-size="8.2" font-weight="bold" text-anchor="end">0</text>
<text x="91.8" y="810.0" font-size="13.8" font-style="italic" text-anchor="middle">FABP5</text>
<line x1="73.0" y1="935.1" x2="73.0" y2="938.7" stroke="#231f20" stroke-width="1.5"/>
<line x1="104.8" y1="935.1" x2="104.8" y2="938.7" stroke="#231f20" stroke-width="1.5"/>
<text x="75.5" y="949.6" font-size="10.2" text-anchor="middle">Healthy</text>
<text x="106.0" y="949.6" font-size="10.2" text-anchor="middle">PS</text>
<line x1="73.0" y1="919.1" x2="73.0" y2="935.1" stroke="#231f20" stroke-width="1.3"/>
<line x1="68.2" y1="919.1" x2="78.6" y2="919.1" stroke="#231f20" stroke-width="1.3"/>
<line x1="104.8" y1="850.0" x2="104.8" y2="935.1" stroke="#231f20" stroke-width="1.3"/>
<line x1="100.3" y1="850.0" x2="109.1" y2="850.0" stroke="#231f20" stroke-width="1.3"/>
<rect x="94.20" y="873.30" width="20.90" height="26.50" fill="#262626"/>
<circle cx="73.0" cy="919.1" r="1.7" fill="#fff" stroke="#231f20" stroke-width="1.0"/>
<circle cx="76.6" cy="925.5" r="1.7" fill="#fff" stroke="#231f20" stroke-width="1.0"/>
<circle cx="64.0" cy="929.0" r="1.7" fill="#fff" stroke="#231f20" stroke-width="1.0"/>
<circle cx="67.5" cy="928.5" r="1.7" fill="#fff" stroke="#231f20" stroke-width="1.0"/>
<circle cx="71.2" cy="929.5" r="1.7" fill="#fff" stroke="#231f20" stroke-width="1.0"/>
<circle cx="74.6" cy="930.2" r="1.7" fill="#fff" stroke="#231f20" stroke-width="1.0"/>
<circle cx="78.6" cy="929.6" r="1.7" fill="#fff" stroke="#231f20" stroke-width="1.0"/>
<circle cx="82.0" cy="929.0" r="1.7" fill="#fff" stroke="#231f20" stroke-width="1.0"/>
<circle cx="69.0" cy="933.5" r="1.7" fill="#fff" stroke="#231f20" stroke-width="1.0"/>
<circle cx="73.5" cy="933.8" r="1.7" fill="#fff" stroke="#231f20" stroke-width="1.0"/>
<circle cx="78.0" cy="933.2" r="1.7" fill="#fff" stroke="#231f20" stroke-width="1.0"/>
<circle cx="104.8" cy="850.0" r="1.7" fill="#fff" stroke="#231f20" stroke-width="1.0"/>
<circle cx="98.0" cy="865.1" r="1.7" fill="#fff" stroke="#231f20" stroke-width="1.0"/>
<circle cx="104.8" cy="867.7" r="1.7" fill="#fff" stroke="#231f20" stroke-width="1.0"/>
<circle cx="97.9" cy="900.4" r="1.7" fill="#fff" stroke="#231f20" stroke-width="1.0"/>
<circle cx="104.8" cy="901.5" r="1.7" fill="#fff" stroke="#231f20" stroke-width="1.0"/>
<circle cx="111.6" cy="900.4" r="1.7" fill="#fff" stroke="#231f20" stroke-width="1.0"/>
<circle cx="104.8" cy="935.1" r="1.7" fill="#fff" stroke="#231f20" stroke-width="1.0"/>
<circle cx="98.4" cy="875.2" r="1.1" fill="#fff"/>
<circle cx="104.8" cy="876.8" r="1.1" fill="#fff"/>
<circle cx="111.5" cy="876.0" r="1.1" fill="#fff"/>
<circle cx="98.4" cy="879.6" r="1.1" fill="#fff"/>
<circle cx="104.8" cy="881.6" r="1.1" fill="#fff"/>
<circle cx="98.4" cy="884.4" r="1.1" fill="#fff"/>
<circle cx="111.5" cy="884.9" r="1.1" fill="#fff"/>
<line x1="73.8" y1="843.5" x2="105.9" y2="843.5" stroke="#231f20" stroke-width="1.5"/>
<text x="90.8" y="842.7" font-size="13.2" text-anchor="middle">****</text>
<line x1="177.7" y1="823.0" x2="177.7" y2="935.2" stroke="#231f20" stroke-width="1.5"/>
<line x1="177.7" y1="934.5" x2="252.1" y2="934.5" stroke="#231f20" stroke-width="1.5"/>
<line x1="173.5" y1="823.6" x2="177.7" y2="823.6" stroke="#231f20" stroke-width="1.5"/>
<text x="172.5" y="826.5" font-size="8.2" font-weight="bold" text-anchor="end">30000</text>
<line x1="173.5" y1="861.0" x2="177.7" y2="861.0" stroke="#231f20" stroke-width="1.5"/>
<text x="172.5" y="863.9" font-size="8.2" font-weight="bold" text-anchor="end">20000</text>
<line x1="173.5" y1="897.7" x2="177.7" y2="897.7" stroke="#231f20" stroke-width="1.5"/>
<text x="172.5" y="900.6" font-size="8.2" font-weight="bold" text-anchor="end">10000</text>
<line x1="173.5" y1="934.5" x2="177.7" y2="934.5" stroke="#231f20" stroke-width="1.5"/>
<text x="172.5" y="937.4" font-size="8.2" font-weight="bold" text-anchor="end">0</text>
<text x="218.2" y="810.0" font-size="13.8" font-style="italic" text-anchor="middle">PPARD</text>
<line x1="199.6" y1="934.5" x2="199.6" y2="938.1" stroke="#231f20" stroke-width="1.5"/>
<line x1="231.1" y1="934.5" x2="231.1" y2="938.1" stroke="#231f20" stroke-width="1.5"/>
<text x="202.1" y="949.6" font-size="10.2" text-anchor="middle">Healthy</text>
<text x="232.3" y="949.6" font-size="10.2" text-anchor="middle">PS</text>
<line x1="199.6" y1="913.5" x2="199.6" y2="926.5" stroke="#231f20" stroke-width="1.3"/>
<line x1="196.0" y1="913.5" x2="203.0" y2="913.5" stroke="#231f20" stroke-width="1.3"/>
<line x1="231.1" y1="845.2" x2="231.1" y2="934.5" stroke="#231f20" stroke-width="1.3"/>
<line x1="225.8" y1="845.2" x2="236.4" y2="845.2" stroke="#231f20" stroke-width="1.3"/>
<rect x="220.90" y="875.30" width="21.10" height="25.90" fill="#262626"/>
<circle cx="202.6" cy="913.5" r="1.7" fill="#fff" stroke="#231f20" stroke-width="1.0"/>
<circle cx="193.0" cy="918.0" r="1.7" fill="#fff" stroke="#231f20" stroke-width="1.0"/>
<circle cx="197.0" cy="917.5" r="1.7" fill="#fff" stroke="#231f20" stroke-width="1.0"/>
<circle cx="203.0" cy="917.0" r="1.7" fill="#fff" stroke="#231f20" stroke-width="1.0"/>
<circle cx="207.0" cy="918.5" r="1.7" fill="#fff" stroke="#231f20" stroke-width="1.0"/>
<circle cx="191.0" cy="921.5" r="1.7" fill="#fff" stroke="#231f20" stroke-width="1.0"/>
<circle cx="195.5" cy="921.8" r="1.7" fill="#fff" stroke="#231f20" stroke-width="1.0"/>
<circle cx="199.5" cy="922.0" r="1.7" fill="#fff" stroke="#231f20" stroke-width="1.0"/>
<circle cx="203.5" cy="921.5" r="1.7" fill="#fff" stroke="#231f20" stroke-width="1.0"/>
<circle cx="208.0" cy="922.0" r="1.7" fill="#fff" stroke="#231f20" stroke-width="1.0"/>
<circle cx="193.5" cy="925.5" r="1.7" fill="#fff" stroke="#231f20" stroke-width="1.0"/>
<circle cx="197.5" cy="925.0" r="1.7" fill="#fff" stroke="#231f20" stroke-width="1.0"/>
<circle cx="201.5" cy="925.5" r="1.7" fill="#fff" stroke="#231f20" stroke-width="1.0"/>
<circle cx="205.5" cy="924.8" r="1.7" fill="#fff" stroke="#231f20" stroke-width="1.0"/>
<circle cx="195.0" cy="928.2" r="1.7" fill="#fff" stroke="#231f20" stroke-width="1.0"/>
<circle cx="199.0" cy="927.5" r="1.7" fill="#fff" stroke="#231f20" stroke-width="1.0"/>
<circle cx="231.1" cy="845.2" r="1.7" fill="#fff" stroke="#231f20" stroke-width="1.0"/>
<circle cx="231.1" cy="850.4" r="1.7" fill="#fff" stroke="#231f20" stroke-width="1.0"/>
<circle cx="231.1" cy="871.5" r="1.7" fill="#fff" stroke="#231f20" stroke-width="1.0"/>
<circle cx="224.4" cy="902.1" r="1.7" fill="#fff" stroke="#231f20" stroke-width="1.0"/>
<circle cx="237.8" cy="903.0" r="1.7" fill="#fff" stroke="#231f20" stroke-width="1.0"/>
<circle cx="231.1" cy="910.5" r="1.7" fill="#fff" stroke="#231f20" stroke-width="1.0"/>
<circle cx="231.1" cy="934.5" r="1.7" fill="#fff" stroke="#231f20" stroke-width="1.0"/>
<circle cx="231.1" cy="876.2" r="1.1" fill="#fff"/>
<circle cx="224.4" cy="884.1" r="1.1" fill="#fff"/>
<circle cx="231.1" cy="882.9" r="1.1" fill="#fff"/>
<circle cx="224.4" cy="896.9" r="1.1" fill="#fff"/>
<circle cx="231.1" cy="896.0" r="1.1" fill="#fff"/>
<circle cx="237.0" cy="899.5" r="1.1" fill="#fff"/>
<line x1="200.4" y1="837.7" x2="232.0" y2="837.7" stroke="#231f20" stroke-width="1.5"/>
<text x="217.2" y="836.9" font-size="13.2" text-anchor="middle">****</text>
<line x1="312.1" y1="823.0" x2="312.1" y2="935.2" stroke="#231f20" stroke-width="1.5"/>
<line x1="312.1" y1="934.5" x2="387.1" y2="934.5" stroke="#231f20" stroke-width="1.5"/>
<line x1="307.90000000000003" y1="823.6" x2="312.1" y2="823.6" stroke="#231f20" stroke-width="1.5"/>
<text x="306.90000000000003" y="826.5" font-size="8.2" font-weight="bold" text-anchor="end">30000</text>
<line x1="307.90000000000003" y1="861.0" x2="312.1" y2="861.0" stroke="#231f20" stroke-width="1.5"/>
<text x="306.90000000000003" y="863.9" font-size="8.2" font-weight="bold" text-anchor="end">20000</text>
<line x1="307.90000000000003" y1="897.7" x2="312.1" y2="897.7" stroke="#231f20" stroke-width="1.5"/>
<text x="306.90000000000003" y="900.6" font-size="8.2" font-weight="bold" text-anchor="end">10000</text>
<line x1="307.90000000000003" y1="934.5" x2="312.1" y2="934.5" stroke="#231f20" stroke-width="1.5"/>
<text x="306.90000000000003" y="937.4" font-size="8.2" font-weight="bold" text-anchor="end">0</text>
<text x="345.6" y="810.0" font-size="13.8" font-style="italic" text-anchor="middle">GPX4</text>
<line x1="333.2" y1="934.5" x2="333.2" y2="938.1" stroke="#231f20" stroke-width="1.5"/>
<line x1="365.7" y1="934.5" x2="365.7" y2="938.1" stroke="#231f20" stroke-width="1.5"/>
<text x="335.7" y="949.6" font-size="10.2" text-anchor="middle">Healthy</text>
<text x="366.9" y="949.6" font-size="10.2" text-anchor="middle">PS</text>
<line x1="333.2" y1="830.0" x2="333.2" y2="904.8" stroke="#231f20" stroke-width="1.3"/>
<line x1="329.3" y1="830.0" x2="339.0" y2="830.0" stroke="#231f20" stroke-width="1.3"/>
<line x1="325.8" y1="904.8" x2="340.7" y2="904.8" stroke="#231f20" stroke-width="1.3"/>
<rect x="323.20" y="878.50" width="20.10" height="14.00" fill="#fff" stroke="#231f20" stroke-width="1.3"/>
<line x1="365.7" y1="873.2" x2="365.7" y2="921.7" stroke="#231f20" stroke-width="1.3"/>
<line x1="365.7" y1="873.2" x2="369.6" y2="873.2" stroke="#231f20" stroke-width="1.3"/>
<line x1="365.7" y1="921.7" x2="369.6" y2="921.7" stroke="#231f20" stroke-width="1.3"/>
<rect x="354.70" y="893.40" width="21.00" height="9.60" fill="#262626"/>
<circle cx="333.2" cy="830.0" r="1.7" fill="#fff" stroke="#231f20" stroke-width="1.0"/>
<circle cx="333.2" cy="849.6" r="1.7" fill="#fff" stroke="#231f20" stroke-width="1.0"/>
<circle cx="326.7" cy="877.6" r="1.7" fill="#fff" stroke="#231f20" stroke-width="1.0"/>
<circle cx="333.2" cy="878.5" r="1.7" fill="#fff" stroke="#231f20" stroke-width="1.0"/>
<circle cx="333.2" cy="883.7" r="1.7" fill="#fff" stroke="#231f20" stroke-width="1.0"/>
<circle cx="326.7" cy="886.4" r="1.7" fill="#fff" stroke="#231f20" stroke-width="1.0"/>
<circle cx="339.8" cy="887.8" r="1.7" fill="#fff" stroke="#231f20" stroke-width="1.0"/>
<circle cx="333.2" cy="889.0" r="1.7" fill="#fff" stroke="#231f20" stroke-width="1.0"/>
<circle cx="333.2" cy="892.5" r="1.7" fill="#fff" stroke="#231f20" stroke-width="1.0"/>
<circle cx="339.8" cy="902.1" r="1.7" fill="#fff" stroke="#231f20" stroke-width="1.0"/>
<circle cx="326.7" cy="904.8" r="1.7" fill="#fff" stroke="#231f20" stroke-width="1.0"/>
<circle cx="365.7" cy="873.2" r="1.7" fill="#fff" stroke="#231f20" stroke-width="1.0"/>
<circle cx="365.7" cy="889.0" r="1.7" fill="#fff" stroke="#231f20" stroke-width="1.0"/>
<circle cx="371.0" cy="891.0" r="1.7" fill="#fff" stroke="#231f20" stroke-width="1.0"/>
<circle cx="360.0" cy="893.5" r="1.7" fill="#fff" stroke="#231f20" stroke-width="1.0"/>
<circle cx="365.7" cy="894.0" r="1.7" fill="#fff" stroke="#231f20" stroke-width="1.0"/>
<circle cx="371.0" cy="895.5" r="1.7" fill="#fff" stroke="#231f20" stroke-width="1.0"/>
<circle cx="358.0" cy="897.0" r="1.7" fill="#fff" stroke="#231f20" stroke-width="1.0"/>
<circle cx="362.5" cy="897.8" r="1.7" fill="#fff" stroke="#231f20" stroke-width="1.0"/>
<circle cx="368.5" cy="898.0" r="1.7" fill="#fff" stroke="#231f20" stroke-width="1.0"/>
<circle cx="374.5" cy="897.2" r="1.7" fill="#fff" stroke="#231f20" stroke-width="1.0"/>
<circle cx="358.0" cy="901.5" r="1.7" fill="#fff" stroke="#231f20" stroke-width="1.0"/>
<circle cx="365.7" cy="901.0" r="1.7" fill="#fff" stroke="#231f20" stroke-width="1.0"/>
<circle cx="371.5" cy="901.8" r="1.7" fill="#fff" stroke="#231f20" stroke-width="1.0"/>
<circle cx="362.0" cy="904.5" r="1.7" fill="#fff" stroke="#231f20" stroke-width="1.0"/>
<circle cx="368.0" cy="904.0" r="1.7" fill="#fff" stroke="#231f20" stroke-width="1.0"/>
<circle cx="365.7" cy="921.7" r="1.7" fill="#fff" stroke="#231f20" stroke-width="1.0"/>
<line x1="327.9" y1="824.2" x2="360.0" y2="824.2" stroke="#231f20" stroke-width="1.5"/>
<text x="344.9" y="823.4" font-size="13.2" text-anchor="middle">****</text>
<line x1="333.2" y1="886.0" x2="343.3" y2="886.0" stroke="#231f20" stroke-width="1.2"/>
<line x1="447.4" y1="823.1999999999999" x2="447.4" y2="936.3000000000001" stroke="#231f20" stroke-width="1.5"/>
<line x1="447.4" y1="935.6" x2="523.0" y2="935.6" stroke="#231f20" stroke-width="1.5"/>
<line x1="443.2" y1="823.8" x2="447.4" y2="823.8" stroke="#231f20" stroke-width="1.5"/>
<text x="442.2" y="826.7" font-size="8.2" font-weight="bold" text-anchor="end">10000</text>
<line x1="443.2" y1="846.2" x2="447.4" y2="846.2" stroke="#231f20" stroke-width="1.5"/>
<text x="442.2" y="849.1" font-size="8.2" font-weight="bold" text-anchor="end">8000</text>
<line x1="443.2" y1="868.6" x2="447.4" y2="868.6" stroke="#231f20" stroke-width="1.5"/>
<text x="442.2" y="871.5" font-size="8.2" font-weight="bold" text-anchor="end">6000</text>
<line x1="443.2" y1="891.0" x2="447.4" y2="891.0" stroke="#231f20" stroke-width="1.5"/>
<text x="442.2" y="893.9" font-size="8.2" font-weight="bold" text-anchor="end">4000</text>
<line x1="443.2" y1="913.4" x2="447.4" y2="913.4" stroke="#231f20" stroke-width="1.5"/>
<text x="442.2" y="916.3" font-size="8.2" font-weight="bold" text-anchor="end">2000</text>
<line x1="443.2" y1="935.6" x2="447.4" y2="935.6" stroke="#231f20" stroke-width="1.5"/>
<text x="442.2" y="938.5" font-size="8.2" font-weight="bold" text-anchor="end">0</text>
<text x="482.2" y="810.0" font-size="13.8" font-style="italic" text-anchor="middle">CHAC1</text>
<line x1="468.7" y1="935.6" x2="468.7" y2="939.2" stroke="#231f20" stroke-width="1.5"/>
<line x1="501.0" y1="935.6" x2="501.0" y2="939.2" stroke="#231f20" stroke-width="1.5"/>
<text x="471.2" y="949.6" font-size="10.2" text-anchor="middle">Healthy</text>
<text x="502.2" y="949.6" font-size="10.2" text-anchor="middle">PS</text>
<line x1="501.0" y1="845.4" x2="501.0" y2="935.6" stroke="#231f20" stroke-width="1.3"/>
<line x1="495.8" y1="845.4" x2="504.0" y2="845.4" stroke="#231f20" stroke-width="1.3"/>
<rect x="490.70" y="872.00" width="20.90" height="46.70" fill="#262626"/>
<circle cx="460.8" cy="935.0" r="1.7" fill="#fff" stroke="#231f20" stroke-width="1.0"/>
<circle cx="464.0" cy="934.0" r="1.7" fill="#fff" stroke="#231f20" stroke-width="1.0"/>
<circle cx="467.0" cy="935.3" r="1.7" fill="#fff" stroke="#231f20" stroke-width="1.0"/>
<circle cx="470.0" cy="935.6" r="1.7" fill="#fff" stroke="#231f20" stroke-width="1.0"/>
<circle cx="473.0" cy="935.4" r="1.7" fill="#fff" stroke="#231f20" stroke-width="1.0"/>
<circle cx="476.0" cy="935.6" r="1.7" fill="#fff" stroke="#231f20" stroke-width="1.0"/>
<circle cx="478.5" cy="935.4" r="1.7" fill="#fff" stroke="#231f20" stroke-width="1.0"/>
<circle cx="465.5" cy="933.5" r="1.7" fill="#fff" stroke="#231f20" stroke-width="1.0"/>
<circle cx="501.0" cy="847.9" r="1.7" fill="#fff" stroke="#231f20" stroke-width="1.0"/>
<circle cx="507.8" cy="845.4" r="1.7" fill="#fff" stroke="#231f20" stroke-width="1.0"/>
<circle cx="501.0" cy="872.0" r="1.7" fill="#fff" stroke="#231f20" stroke-width="1.0"/>
<circle cx="507.8" cy="869.7" r="1.7" fill="#fff" stroke="#231f20" stroke-width="1.0"/>
<circle cx="507.8" cy="919.0" r="1.7" fill="#fff" stroke="#231f20" stroke-width="1.0"/>
<circle cx="507.8" cy="922.9" r="1.7" fill="#fff" stroke="#231f20" stroke-width="1.0"/>
<circle cx="501.0" cy="925.1" r="1.7" fill="#fff" stroke="#231f20" stroke-width="1.0"/>
<circle cx="501.0" cy="935.6" r="1.7" fill="#fff" stroke="#231f20" stroke-width="1.0"/>
<circle cx="501.0" cy="879.6" r="1.1" fill="#fff"/>
<circle cx="501.0" cy="885.8" r="1.1" fill="#fff"/>
<circle cx="501.0" cy="895.9" r="1.1" fill="#fff"/>
<circle cx="507.8" cy="900.5" r="1.1" fill="#fff"/>
<circle cx="501.0" cy="903.5" r="1.1" fill="#fff"/>
<circle cx="501.0" cy="913.7" r="1.1" fill="#fff"/>
<circle cx="507.8" cy="913.7" r="1.1" fill="#fff"/>
<line x1="469.3" y1="841.6" x2="500.6" y2="841.6" stroke="#231f20" stroke-width="1.5"/>
<text x="486.0" y="840.8" font-size="13.2" text-anchor="middle">****</text>
<line x1="565.4" y1="823.6999999999999" x2="565.4" y2="936.8000000000001" stroke="#231f20" stroke-width="1.5"/>
<line x1="565.4" y1="936.1" x2="640.6" y2="936.1" stroke="#231f20" stroke-width="1.5"/>
<line x1="561.1999999999999" y1="824.3" x2="565.4" y2="824.3" stroke="#231f20" stroke-width="1.5"/>
<text x="560.1999999999999" y="827.2" font-size="8.2" font-weight="bold" text-anchor="end">2000</text>
<line x1="561.1999999999999" y1="852.3" x2="565.4" y2="852.3" stroke="#231f20" stroke-width="1.5"/>
<text x="560.1999999999999" y="855.2" font-size="8.2" font-weight="bold" text-anchor="end">1500</text>
<line x1="561.1999999999999" y1="880.3" x2="565.4" y2="880.3" stroke="#231f20" stroke-width="1.5"/>
<text x="560.1999999999999" y="883.2" font-size="8.2" font-weight="bold" text-anchor="end">1000</text>
<line x1="561.1999999999999" y1="908.1" x2="565.4" y2="908.1" stroke="#231f20" stroke-width="1.5"/>
<text x="560.1999999999999" y="911.0" font-size="8.2" font-weight="bold" text-anchor="end">500</text>
<line x1="561.1999999999999" y1="936.1" x2="565.4" y2="936.1" stroke="#231f20" stroke-width="1.5"/>
<text x="560.1999999999999" y="939.0" font-size="8.2" font-weight="bold" text-anchor="end">0</text>
<text x="604.5" y="810.0" font-size="13.8" font-style="italic" text-anchor="middle">SLC7A11</text>
<line x1="586.9" y1="936.1" x2="586.9" y2="939.7" stroke="#231f20" stroke-width="1.5"/>
<line x1="619.0" y1="936.1" x2="619.0" y2="939.7" stroke="#231f20" stroke-width="1.5"/>
<text x="586.5" y="949.6" font-size="10.2" text-anchor="middle">Healthy</text>
<text x="620.2" y="949.6" font-size="10.2" text-anchor="middle">PS</text>
<line x1="586.9" y1="926.9" x2="586.9" y2="936.1" stroke="#231f20" stroke-width="1.3"/>
<line x1="586.9" y1="926.9" x2="592.4" y2="926.9" stroke="#231f20" stroke-width="1.3"/>
<line x1="619.0" y1="847.6" x2="619.0" y2="936.1" stroke="#231f20" stroke-width="1.3"/>
<line x1="614.5" y1="847.6" x2="624.3" y2="847.6" stroke="#231f20" stroke-width="1.3"/>
<rect x="608.80" y="883.60" width="21.00" height="20.40" fill="#262626"/>
<circle cx="582.0" cy="928.5" r="1.7" fill="#fff" stroke="#231f20" stroke-width="1.0"/>
<circle cx="586.9" cy="926.9" r="1.7" fill="#fff" stroke="#231f20" stroke-width="1.0"/>
<circle cx="578.5" cy="932.5" r="1.7" fill="#fff" stroke="#231f20" stroke-width="1.0"/>
<circle cx="582.5" cy="933.0" r="1.7" fill="#fff" stroke="#231f20" stroke-width="1.0"/>
<circle cx="586.5" cy="932.5" r="1.7" fill="#fff" stroke="#231f20" stroke-width="1.0"/>
<circle cx="590.5" cy="933.0" r="1.7" fill="#fff" stroke="#231f20" stroke-width="1.0"/>
<circle cx="594.5" cy="932.8" r="1.7" fill="#fff" stroke="#231f20" stroke-width="1.0"/>
<circle cx="597.0" cy="933.5" r="1.7" fill="#fff" stroke="#231f20" stroke-width="1.0"/>
<circle cx="584.0" cy="930.0" r="1.7" fill="#fff" stroke="#231f20" stroke-width="1.0"/>
<circle cx="589.0" cy="930.5" r="1.7" fill="#fff" stroke="#231f20" stroke-width="1.0"/>
<circle cx="619.0" cy="847.6" r="1.7" fill="#fff" stroke="#231f20" stroke-width="1.0"/>
<circle cx="619.0" cy="867.3" r="1.7" fill="#fff" stroke="#231f20" stroke-width="1.0"/>
<circle cx="612.4" cy="879.5" r="1.7" fill="#fff" stroke="#231f20" stroke-width="1.0"/>
<circle cx="626.3" cy="883.2" r="1.7" fill="#fff" stroke="#231f20" stroke-width="1.0"/>
<circle cx="619.0" cy="904.9" r="1.7" fill="#fff" stroke="#231f20" stroke-width="1.0"/>
<circle cx="619.0" cy="912.2" r="1.7" fill="#fff" stroke="#231f20" stroke-width="1.0"/>
<circle cx="619.0" cy="926.9" r="1.7" fill="#fff" stroke="#231f20" stroke-width="1.0"/>
<circle cx="619.0" cy="936.1" r="1.7" fill="#fff" stroke="#231f20" stroke-width="1.0"/>
<circle cx="612.4" cy="885.6" r="1.1" fill="#fff"/>
<circle cx="619.0" cy="885.6" r="1.1" fill="#fff"/>
<circle cx="612.4" cy="891.8" r="1.1" fill="#fff"/>
<circle cx="612.4" cy="896.3" r="1.1" fill="#fff"/>
<circle cx="619.0" cy="896.3" r="1.1" fill="#fff"/>
<circle cx="626.3" cy="894.2" r="1.1" fill="#fff"/>
<circle cx="626.3" cy="902.0" r="1.1" fill="#fff"/>
<line x1="586.9" y1="840.1" x2="619.0" y2="840.1" stroke="#231f20" stroke-width="1.5"/>
<text x="604.0" y="839.3" font-size="13.2" text-anchor="middle">****</text>
<text x="18.6" y="877.2" font-size="10.5" text-anchor="middle" transform="rotate(-90 18.6 877.2)">Normalized_counts</text>
</svg>
</body></html>
